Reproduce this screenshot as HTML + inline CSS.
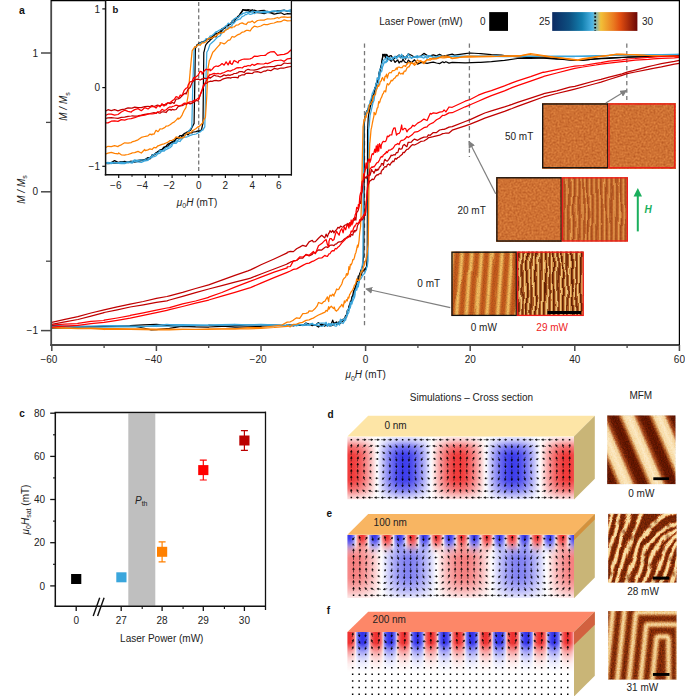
<!DOCTYPE html><html><head><meta charset="utf-8"><style>html,body{margin:0;padding:0;background:#fff;width:685px;height:696px;overflow:hidden}</style></head><body><svg width="685" height="696" viewBox="0 0 685 696" style="display:block;font-family:'Liberation Sans',sans-serif">
<defs>
<clipPath id="cmain"><rect x="51" y="0" width="628.5" height="345"/></clipPath>
<clipPath id="cins"><rect x="105.5" y="1" width="185.8" height="173.5"/></clipPath>
<marker id="ah" markerWidth="7" markerHeight="7" refX="6" refY="3.5" orient="auto" markerUnits="userSpaceOnUse"><path d="M0,0 L7,3.5 L0,7 z" fill="#7f7f7f"/></marker>
</defs>
<rect width="685" height="696" fill="#fff"/>
<line x1="364.5" y1="43.5" x2="364.5" y2="327.5" stroke="#787878" stroke-width="1.3" stroke-dasharray="4.2,3.3"/>
<line x1="469.4" y1="43.5" x2="469.4" y2="157" stroke="#787878" stroke-width="1.3" stroke-dasharray="4.2,3.3"/>
<line x1="626.8" y1="43.5" x2="626.8" y2="100" stroke="#787878" stroke-width="1.3" stroke-dasharray="4.2,3.3"/>
<g clip-path="url(#cmain)" fill="none" stroke-width="1.25" stroke-linejoin="round">
<path d="M51.8,325.9 L51.8,325.7 L64.9,326.4 L77.9,327.1 L77.9,327.0 L91.0,326.7 L104.1,326.3 L104.1,326.2 L117.2,326.3 L130.2,326.3 L135.5,326.4 L143.3,328.0 L151.2,329.9 L156.4,329.6 L166.9,328.5 L169.5,328.3 L182.6,326.2 L182.6,326.1 L195.6,325.7 L208.7,325.3 L208.7,325.1 L221.8,326.1 L234.9,327.1 L234.9,327.1 L247.9,326.8 L261.0,326.4 L261.0,326.1 L274.1,325.6 L287.2,325.3 L287.2,324.8 L290.3,325.6 L293.4,324.8 L296.6,324.9 L299.7,325.3 L302.8,325.1 L306.0,324.9 L309.1,324.5 L312.3,324.1 L313.3,325.3 L315.4,325.0 L318.5,327.0 L321.7,324.0 L324.8,326.2 L326.1,324.7 L327.4,326.1 L328.7,324.4 L329.0,324.4 L330.0,325.1 L331.3,323.8 L332.7,320.2 L334.0,323.7 L334.2,323.7 L335.3,322.4 L336.6,324.5 L337.9,323.0 L339.2,321.6 L339.5,322.3 L340.5,321.5 L341.8,320.0 L343.1,319.2 L344.4,319.4 L344.7,318.1 L345.7,315.3 L346.5,315.1 L347.3,312.6 L347.3,310.5 L348.1,310.6 L348.9,306.8 L349.6,305.1 L349.9,304.2 L350.4,301.5 L351.2,300.7 L352.0,296.5 L352.5,295.9 L352.8,295.2 L353.6,291.2 L354.4,289.4 L355.1,287.6 L355.1,287.4 L355.9,285.9 L356.7,281.7 L357.5,279.6 L357.8,279.2 L358.3,276.0 L359.1,276.2 L359.8,273.1 L360.4,272.3 L360.6,271.0 L361.4,269.2 L362.2,267.2 L362.5,266.8 L363.0,261.6 L363.8,254.9 L363.8,254.3 L364.3,122.4 L364.6,120.8 L364.8,116.8 L365.3,115.4 L365.6,114.1 L366.1,112.7 L366.9,110.7 L367.2,112.0 L367.7,109.7 L368.5,107.7 L369.3,106.1 L369.8,105.7 L370.0,104.2 L370.8,102.3 L371.6,99.2 L372.4,95.7 L372.9,96.0 L373.2,95.5 L374.0,93.3 L374.8,87.8 L375.5,87.1 L376.1,85.6 L376.3,83.6 L377.1,81.0 L377.9,80.6 L378.7,76.6 L378.7,73.9 L379.5,71.3 L380.2,69.7 L381.0,65.8 L381.3,65.5 L381.8,61.6 L382.6,57.2 L382.9,54.4 L383.4,54.7 L384.2,54.6 L384.4,55.1 L385.0,54.2 L385.7,55.2 L386.5,56.5 L386.5,56.4 L387.3,55.0 L388.6,57.5 L389.9,55.9 L391.2,55.6 L391.8,56.9 L392.5,57.2 L393.8,58.8 L395.1,57.8 L396.5,56.5 L397.8,56.1 L399.1,55.0 L400.4,57.8 L401.7,56.6 L403.0,55.9 L404.3,56.7 L405.6,59.1 L406.9,55.6 L407.4,56.5 L408.2,53.9 L411.4,55.3 L414.5,57.3 L417.6,56.7 L420.8,56.0 L423.9,53.4 L427.1,55.4 L428.4,56.1 L430.2,55.9 L433.3,54.8 L436.5,55.8 L439.6,54.4 L442.7,56.0 L445.9,55.7 L449.0,54.8 L452.2,54.2 L454.5,55.1 L465.2,53.6 L470.2,53.0 L478.3,53.5 L480.7,53.7 L491.4,54.6 L501.6,55.1 L504.5,55.5 L517.5,56.8 L522.5,57.2 L530.6,57.6 L538.2,57.9 L543.7,58.1 L556.8,59.1 L559.1,59.2 L569.8,59.8 L580.0,60.5 L582.9,60.2 L596.0,58.8 L601.0,58.3 L609.1,57.9 L622.1,57.3 L627.1,57.2 L635.2,56.8 L648.3,56.7 L653.2,56.5 L661.4,56.4 L674.4,56.3 L679.4,56.1" stroke="#000000"/>
<path d="M51.8,328.7 L51.8,328.5 L64.9,327.8 L77.9,327.2 L77.9,327.1 L91.0,326.8 L104.1,326.4 L104.1,326.3 L117.2,326.1 L130.2,325.8 L130.2,325.7 L143.3,324.8 L156.4,324.4 L156.4,324.4 L169.5,325.6 L182.6,326.6 L182.6,326.4 L195.6,326.9 L208.7,327.1 L208.7,327.0 L221.8,326.3 L234.9,325.7 L234.9,325.6 L247.9,325.0 L261.0,324.8 L261.0,324.5 L274.1,325.2 L287.2,325.7 L287.2,324.8 L290.3,325.2 L293.4,325.9 L296.6,324.9 L299.7,325.3 L302.8,325.4 L306.0,323.0 L309.1,324.2 L312.3,325.6 L313.3,325.0 L315.4,325.2 L318.5,322.6 L321.7,325.6 L324.8,324.7 L326.1,324.9 L327.4,325.0 L328.7,325.0 L329.0,325.7 L330.0,325.9 L331.3,325.6 L332.7,324.9 L334.0,324.8 L334.2,324.4 L335.3,323.1 L336.6,321.9 L337.9,324.3 L339.2,322.4 L339.5,323.0 L340.5,323.3 L341.8,322.1 L343.1,320.7 L344.4,319.5 L344.7,319.5 L345.7,317.2 L346.5,317.5 L347.3,312.6 L347.3,310.9 L348.1,310.3 L348.9,308.2 L349.6,304.2 L349.9,304.2 L350.4,303.5 L351.2,302.3 L352.0,298.1 L352.5,297.3 L352.8,295.9 L353.6,294.8 L354.4,290.5 L355.1,289.0 L355.1,288.5 L355.9,287.7 L356.7,281.9 L357.5,281.1 L357.8,280.6 L358.3,280.7 L359.1,277.3 L359.8,276.0 L360.4,275.1 L360.6,273.6 L361.4,275.1 L362.2,271.4 L363.0,271.6 L363.0,270.5 L363.8,270.1 L364.6,269.6 L365.3,268.2 L365.6,269.5 L366.1,267.3 L366.6,266.8 L366.9,261.3 L367.3,254.3 L367.6,129.3 L367.7,128.4 L368.2,118.2 L368.5,115.5 L369.3,111.4 L370.0,108.5 L370.0,107.9 L370.8,105.1 L371.6,101.5 L372.4,102.2 L372.9,97.4 L373.2,96.1 L374.0,96.5 L374.8,90.6 L375.5,86.9 L376.1,86.3 L376.3,83.1 L377.1,82.9 L377.9,79.0 L378.7,76.6 L378.7,76.6 L379.5,76.1 L380.2,69.9 L381.0,67.8 L381.3,66.9 L381.8,62.6 L382.6,57.5 L382.9,54.4 L383.4,55.1 L384.2,56.0 L385.0,55.7 L385.5,57.9 L385.7,57.6 L386.5,54.3 L387.3,59.1 L388.6,59.5 L389.9,59.8 L391.2,61.3 L391.8,60.6 L392.5,59.0 L393.8,60.1 L395.1,62.4 L396.5,61.0 L397.8,59.9 L399.1,63.0 L400.4,61.3 L401.7,61.9 L403.0,59.1 L404.3,61.4 L405.6,62.5 L406.9,62.8 L407.4,62.3 L408.2,60.1 L411.4,62.8 L414.5,59.8 L417.6,64.1 L420.8,62.6 L423.9,62.7 L427.1,63.3 L430.2,62.7 L433.3,62.1 L436.5,63.0 L439.6,63.6 L442.7,61.8 L444.1,62.7 L445.9,61.7 L449.0,63.1 L452.2,62.4 L465.2,62.9 L478.3,62.3 L480.7,62.4 L491.4,61.7 L501.6,60.6 L504.5,60.4 L517.5,58.5 L522.5,58.3 L530.6,58.3 L543.7,57.9 L548.7,57.9 L556.8,58.7 L569.8,60.0 L577.9,60.5 L582.9,60.2 L596.0,58.9 L601.0,58.6 L609.1,58.3 L622.1,57.5 L627.1,57.2 L635.2,56.8 L648.3,56.6 L653.2,56.5 L661.4,56.4 L674.4,55.7 L679.4,55.8" stroke="#000000"/>
<path d="M51.8,326.4 L51.8,326.3 L64.9,326.1 L77.9,326.2 L91.0,326.0 L104.1,325.7 L104.1,325.7 L117.2,325.7 L130.2,326.0 L143.3,326.4 L156.4,326.5 L156.4,326.4 L169.5,326.1 L182.6,325.7 L182.6,325.6 L195.6,325.4 L208.7,325.1 L208.7,325.0 L221.8,324.7 L234.9,324.4 L234.9,324.3 L247.9,324.8 L261.0,325.0 L261.0,325.0 L274.1,325.4 L287.2,325.7 L287.2,324.7 L290.3,325.6 L293.4,324.8 L296.6,325.9 L299.7,324.5 L302.8,324.8 L306.0,325.3 L309.1,324.6 L312.3,323.4 L313.3,324.4 L315.4,324.8 L318.5,323.4 L321.7,323.0 L324.8,323.1 L326.1,323.1 L327.4,326.3 L328.7,324.6 L329.0,325.0 L330.0,325.6 L331.3,323.7 L332.7,324.4 L334.0,324.1 L334.2,324.4 L335.3,323.4 L336.6,324.0 L337.9,322.8 L339.2,323.1 L339.5,322.3 L340.5,319.1 L341.8,320.9 L343.1,319.3 L344.4,320.2 L344.7,318.1 L345.7,317.5 L346.5,315.1 L347.3,312.6 L347.3,311.6 L348.1,309.6 L348.9,308.0 L349.6,307.0 L349.9,305.6 L350.4,302.2 L351.2,303.2 L352.0,301.0 L352.5,298.7 L352.8,297.4 L353.6,296.9 L354.4,293.5 L355.1,291.7 L355.1,290.6 L355.9,289.3 L356.7,286.3 L357.5,284.2 L357.8,283.4 L358.3,282.4 L359.1,282.7 L359.8,278.0 L360.4,275.1 L360.6,273.7 L361.4,271.3 L361.4,269.5 L362.2,265.6 L362.9,261.2 L363.0,241.1 L363.2,191.8 L363.8,125.2 L363.8,123.7 L364.3,119.6 L364.6,120.2 L365.3,116.8 L365.6,115.5 L366.1,113.8 L366.9,111.4 L367.2,111.3 L367.7,111.1 L368.5,105.1 L369.3,105.5 L369.8,103.0 L370.0,100.9 L370.8,99.9 L371.6,96.8 L372.4,93.0 L372.9,93.3 L373.2,91.6 L374.0,89.8 L374.8,88.6 L375.5,85.8 L376.1,83.5 L376.3,84.2 L377.1,78.0 L377.9,79.4 L378.7,78.0 L378.7,75.2 L379.5,70.9 L380.2,68.8 L381.0,68.1 L381.3,66.9 L381.8,63.8 L382.6,62.5 L382.9,60.6 L383.4,60.9 L384.2,59.2 L385.0,58.8 L385.7,59.2 L386.5,58.3 L386.5,56.5 L387.3,57.3 L388.6,57.8 L389.9,59.1 L391.2,57.5 L392.5,57.8 L393.8,57.3 L395.1,56.2 L396.5,57.6 L397.0,56.9 L397.8,56.5 L399.1,55.9 L400.4,56.4 L401.7,54.2 L403.0,58.6 L404.3,56.8 L405.6,58.0 L406.9,56.7 L408.2,53.9 L411.4,58.4 L414.5,56.8 L417.6,55.7 L417.9,56.5 L420.8,56.3 L423.9,55.4 L427.1,58.2 L430.2,55.8 L433.3,57.1 L436.5,57.3 L439.6,56.1 L442.7,56.1 L444.1,56.5 L445.9,56.9 L449.0,56.9 L452.2,56.5 L465.2,56.1 L470.2,56.1 L478.3,56.0 L491.4,56.0 L496.4,55.8 L504.5,56.2 L517.5,55.8 L522.5,56.1 L530.6,56.1 L543.7,56.4 L556.8,56.5 L569.8,56.5 L574.8,56.5 L582.9,56.3 L596.0,56.2 L601.0,55.8 L609.1,55.4 L622.1,55.2 L627.1,55.1 L635.2,55.0 L648.3,54.8 L661.4,54.6 L674.4,54.3 L679.4,54.4" stroke="#3aa6dc"/>
<path d="M51.8,327.8 L51.8,327.8 L64.9,327.7 L77.9,327.0 L91.0,327.2 L104.1,327.1 L104.1,327.1 L117.2,326.9 L130.2,326.8 L143.3,326.6 L145.9,326.4 L156.4,325.3 L166.9,324.4 L169.5,324.5 L182.6,324.5 L195.6,324.9 L208.7,325.3 L208.7,325.0 L221.8,325.1 L234.9,324.8 L247.9,324.8 L261.0,324.4 L261.0,324.4 L274.1,324.9 L287.2,325.3 L287.2,324.7 L290.3,325.9 L293.4,325.4 L296.6,324.7 L299.7,324.5 L302.8,325.7 L306.0,323.2 L309.1,325.6 L312.3,323.4 L313.3,324.8 L315.4,325.2 L318.5,325.4 L321.7,326.4 L324.8,325.1 L326.1,322.2 L327.4,325.8 L328.7,323.3 L329.0,325.0 L330.0,323.6 L331.3,325.8 L332.7,324.2 L334.0,324.1 L334.2,325.7 L335.3,326.0 L336.6,326.0 L337.9,324.0 L339.2,324.7 L339.5,325.0 L340.5,321.7 L341.8,322.7 L343.1,323.5 L344.4,321.1 L344.7,320.9 L345.7,320.0 L346.5,316.1 L347.3,315.3 L347.3,314.5 L348.1,313.7 L348.9,312.2 L349.6,308.0 L349.9,308.4 L350.4,307.4 L351.2,303.5 L352.0,304.0 L352.5,301.5 L352.8,301.1 L353.6,299.3 L354.4,297.8 L355.1,294.5 L355.1,291.3 L355.9,290.1 L356.7,290.2 L357.5,286.1 L357.8,286.2 L358.3,286.9 L359.1,281.2 L359.8,279.4 L360.4,279.2 L360.6,279.2 L361.4,278.0 L362.2,276.0 L363.0,275.1 L363.0,274.5 L363.8,274.2 L364.6,273.6 L365.3,271.6 L365.6,270.9 L366.1,270.0 L366.9,266.5 L367.2,266.8 L367.7,262.9 L368.0,261.2 L368.3,191.8 L368.5,168.1 L368.7,129.3 L369.3,125.5 L370.0,115.5 L370.0,115.7 L370.8,112.3 L371.6,109.1 L372.4,105.3 L372.9,103.0 L373.2,102.3 L374.0,100.6 L374.8,94.6 L375.5,91.5 L376.1,90.5 L376.3,90.1 L377.1,85.8 L377.9,84.7 L378.7,82.2 L378.7,80.8 L379.5,78.1 L380.2,73.1 L381.0,72.1 L381.3,71.0 L381.8,71.1 L382.6,66.6 L383.4,65.0 L383.9,62.7 L384.2,63.3 L385.0,61.2 L385.7,62.8 L386.5,62.0 L386.5,59.9 L387.3,61.5 L388.6,58.2 L389.9,59.1 L391.2,59.7 L392.5,59.5 L393.8,57.7 L395.1,56.7 L396.5,58.8 L397.0,57.9 L397.8,57.5 L399.1,55.0 L400.4,57.0 L401.7,58.0 L403.0,57.2 L404.3,57.4 L405.6,56.7 L406.9,57.1 L408.2,58.0 L411.4,57.5 L414.5,56.8 L417.6,57.9 L417.9,57.2 L420.8,57.0 L423.9,58.1 L427.1,55.5 L430.2,55.9 L433.3,57.5 L436.5,56.3 L439.6,56.7 L442.7,56.7 L445.9,56.9 L449.0,56.5 L452.2,56.0 L465.2,56.7 L470.2,56.5 L478.3,56.3 L491.4,56.5 L504.5,56.6 L517.5,56.5 L522.5,56.5 L530.6,56.3 L543.7,56.3 L556.8,56.1 L569.8,56.1 L574.8,56.1 L582.9,56.0 L596.0,55.5 L609.1,55.5 L622.1,55.0 L627.1,55.1 L635.2,54.9 L648.3,54.8 L661.4,54.7 L674.4,54.5 L679.4,54.4" stroke="#3aa6dc"/>
<path d="M51.8,327.8 L51.8,327.7 L64.9,328.0 L77.9,328.4 L91.0,328.2 L104.1,328.5 L104.1,328.5 L117.2,328.6 L130.2,328.8 L143.3,328.8 L156.4,329.2 L156.4,329.0 L169.5,329.0 L182.6,329.3 L195.6,329.3 L208.7,329.4 L208.7,329.2 L221.8,328.8 L234.9,328.9 L247.9,327.7 L261.0,327.5 L261.0,327.5 L274.1,326.0 L281.9,325.0 L287.2,322.1 L290.3,321.8 L293.4,320.2 L293.4,320.0 L296.6,317.8 L299.7,318.3 L302.8,313.7 L306.0,313.4 L308.1,312.6 L309.1,310.9 L312.3,311.1 L315.4,308.2 L317.0,306.2 L318.5,302.5 L321.7,303.7 L323.8,301.5 L324.8,301.3 L326.1,299.2 L327.4,296.9 L328.7,301.7 L329.0,298.0 L330.0,295.1 L331.3,296.0 L332.7,294.2 L334.0,296.2 L334.2,294.5 L335.3,292.6 L336.6,289.0 L337.9,289.8 L339.2,288.8 L339.5,287.6 L340.5,286.2 L341.8,284.0 L343.1,279.6 L344.4,278.0 L344.7,277.9 L345.7,276.9 L346.5,273.7 L347.3,275.3 L347.3,273.7 L348.1,274.1 L348.9,266.7 L349.6,269.6 L349.9,268.1 L350.4,264.3 L351.2,264.8 L352.0,262.9 L352.5,261.2 L352.8,259.7 L353.6,259.7 L354.4,257.6 L355.1,254.5 L355.1,254.3 L355.9,252.7 L356.7,249.0 L357.5,245.1 L357.8,247.3 L358.3,245.8 L359.1,240.5 L359.3,237.6 L359.8,232.0 L360.6,226.5 L360.6,225.7 L361.4,205.7 L361.4,204.0 L362.2,165.1 L362.2,164.0 L363.0,128.0 L363.0,127.0 L363.8,121.8 L364.0,119.6 L364.6,120.9 L365.3,116.0 L365.6,116.2 L366.1,117.5 L366.9,112.9 L367.7,112.9 L368.2,111.3 L368.5,110.9 L369.3,105.3 L370.0,104.1 L370.8,104.4 L370.8,103.7 L371.6,101.7 L372.4,101.3 L373.2,96.2 L373.4,97.4 L374.0,95.1 L374.8,95.2 L375.5,94.3 L376.1,90.5 L376.3,89.9 L377.1,88.5 L377.9,85.3 L378.7,86.4 L378.7,84.9 L379.5,85.0 L380.2,81.8 L381.0,81.0 L381.3,80.8 L381.8,78.7 L382.6,77.5 L383.4,79.6 L384.2,80.8 L385.0,76.3 L385.7,76.5 L386.5,74.5 L386.5,74.1 L387.3,78.1 L388.6,73.5 L389.9,72.5 L391.2,72.8 L391.8,71.7 L392.5,70.6 L393.8,70.7 L395.1,70.0 L396.5,67.9 L397.0,69.7 L397.8,67.4 L399.1,67.0 L400.4,67.7 L401.7,67.5 L402.2,67.6 L403.0,66.2 L404.3,65.7 L405.6,66.4 L406.9,63.8 L407.4,64.1 L408.2,62.4 L411.4,63.4 L414.5,63.4 L417.6,59.8 L417.9,60.6 L420.8,61.3 L423.9,62.0 L427.1,59.7 L430.2,60.2 L433.3,58.1 L436.5,58.4 L439.6,57.4 L442.7,56.0 L444.1,56.9 L445.9,55.8 L449.0,56.8 L452.2,58.6 L465.2,56.3 L470.2,56.1 L478.3,56.4 L491.4,56.2 L496.4,56.5 L504.5,55.9 L517.5,55.7 L519.9,55.8 L530.3,53.6 L530.6,53.5 L543.7,55.5 L553.9,57.2 L556.8,57.4 L569.8,59.4 L577.9,60.5 L582.9,59.4 L595.7,57.2 L596.0,57.2 L609.1,55.3 L616.6,54.0 L622.1,54.2 L627.1,54.4 L635.2,54.5 L648.3,55.5 L653.2,55.8 L661.4,56.3 L674.4,56.1 L679.4,56.5" stroke="#ff8000"/>
<path d="M51.8,327.8 L51.8,327.7 L64.9,328.1 L77.9,328.6 L91.0,328.6 L104.1,329.5 L104.1,329.2 L117.2,329.4 L130.2,329.4 L143.3,329.6 L156.4,329.9 L156.4,329.8 L169.5,329.9 L182.6,329.3 L195.6,329.5 L208.7,329.2 L208.7,329.2 L221.8,329.0 L234.9,328.9 L247.9,328.8 L261.0,328.5 L261.0,328.3 L274.1,327.5 L287.2,326.4 L287.2,325.7 L290.3,326.8 L293.4,324.3 L296.6,324.1 L299.7,322.8 L302.8,322.3 L302.8,322.1 L306.0,320.4 L309.1,319.9 L312.3,318.4 L313.3,318.1 L315.4,316.8 L318.5,315.0 L321.7,313.6 L323.8,312.6 L324.8,312.3 L326.1,310.4 L327.4,311.2 L328.7,306.6 L329.0,309.1 L330.0,307.5 L331.3,306.2 L332.7,307.7 L334.0,308.7 L334.2,307.0 L335.3,310.3 L336.6,311.1 L336.8,310.5 L337.9,309.9 L339.2,307.8 L339.5,307.0 L340.5,306.6 L341.8,304.3 L343.1,307.1 L344.4,300.9 L344.7,302.8 L345.7,301.6 L346.5,299.7 L347.3,300.9 L348.1,297.1 L348.9,298.0 L349.6,294.3 L349.9,294.5 L350.4,293.2 L351.2,291.8 L352.0,290.8 L352.8,289.5 L353.6,288.1 L354.4,285.1 L355.1,284.8 L355.1,284.7 L355.9,283.0 L356.7,278.8 L357.5,280.3 L358.3,280.1 L359.1,280.4 L359.8,279.2 L360.4,275.1 L360.6,274.2 L361.4,271.2 L362.2,271.5 L363.0,269.6 L363.0,268.1 L363.8,266.3 L364.6,263.8 L365.3,260.7 L365.6,261.2 L366.1,258.6 L366.9,255.1 L367.2,252.9 L367.7,247.8 L368.2,244.5 L368.5,226.3 L368.7,205.7 L369.3,158.9 L369.3,157.1 L369.8,143.2 L370.0,141.9 L370.8,132.5 L371.1,129.3 L371.6,127.4 L372.4,123.0 L373.2,119.2 L374.0,115.5 L374.0,112.4 L374.8,113.2 L375.5,114.7 L376.3,112.1 L377.1,108.5 L377.1,108.3 L377.9,107.5 L378.7,101.6 L379.5,102.9 L380.2,100.7 L380.2,100.2 L381.0,98.3 L381.8,96.9 L382.6,94.2 L383.4,93.4 L383.9,91.9 L384.2,91.0 L385.0,90.8 L385.7,91.9 L386.5,86.6 L387.3,83.6 L388.1,84.2 L388.6,85.0 L389.9,83.2 L391.2,80.2 L391.8,80.8 L392.5,80.7 L393.8,78.7 L395.1,77.9 L396.5,75.6 L397.0,75.9 L397.8,75.7 L399.1,72.2 L400.4,74.0 L401.7,73.7 L402.2,73.1 L403.0,74.2 L404.3,71.1 L405.6,71.2 L406.9,68.0 L408.2,66.9 L409.0,66.9 L411.4,62.4 L414.5,65.3 L417.6,62.7 L417.9,62.7 L420.8,60.6 L423.9,63.7 L427.1,59.5 L428.4,59.9 L430.2,58.3 L433.3,59.2 L436.5,58.9 L439.6,57.5 L442.7,57.8 L444.1,57.9 L445.9,57.6 L449.0,57.1 L452.2,58.2 L465.2,57.0 L470.2,57.2 L478.3,57.0 L491.4,56.6 L496.4,56.5 L504.5,56.3 L517.5,56.2 L519.9,55.8 L530.3,54.4 L530.6,54.7 L543.7,56.2 L553.9,57.4 L556.8,57.7 L569.8,58.9 L577.9,59.9 L582.9,58.7 L595.7,56.9 L596.0,56.7 L609.1,55.3 L616.6,54.4 L622.1,54.7 L635.2,54.8 L637.6,55.1 L648.3,55.5 L661.4,55.9 L674.4,56.1 L679.4,56.5" stroke="#ff8000"/>
<path d="M51.8,322.3 L51.8,322.3 L64.9,319.3 L77.9,316.7 L77.9,316.6 L91.0,313.0 L104.1,309.8 L104.1,309.8 L117.2,306.8 L130.2,304.2 L130.2,304.1 L143.3,301.5 L156.4,298.4 L166.9,296.5 L169.5,295.8 L182.6,292.3 L195.6,288.5 L208.7,284.9 L208.7,284.8 L221.8,280.2 L234.9,275.4 L247.9,270.9 L250.5,269.9 L261.0,264.8 L274.1,259.0 L287.2,252.9 L287.2,252.3 L290.3,251.4 L293.4,251.6 L296.6,248.7 L299.7,247.1 L302.8,245.3 L306.0,246.3 L309.1,241.9 L312.3,240.3 L313.3,241.8 L315.4,241.6 L318.5,238.3 L321.7,235.3 L324.8,237.9 L326.1,234.1 L327.4,236.9 L328.7,233.1 L329.0,233.4 L330.0,230.6 L331.3,232.4 L332.7,230.4 L334.0,232.9 L335.3,230.8 L336.6,229.8 L337.9,227.3 L339.2,228.1 L339.5,227.9 L340.5,226.1 L341.8,226.8 L343.1,227.2 L344.4,225.5 L345.7,224.8 L346.5,225.2 L347.3,223.5 L348.1,225.3 L348.9,223.6 L349.6,222.8 L349.9,223.7 L350.4,223.9 L351.2,222.4 L352.0,221.8 L352.8,223.1 L353.6,218.3 L354.4,220.2 L354.8,219.6 L355.1,217.5 L355.9,220.1 L356.7,211.9 L357.5,211.8 L358.3,210.0 L359.1,206.5 L359.8,202.5 L360.5,201.5 L360.6,203.4 L361.4,194.1 L362.2,191.8 L363.0,182.8 L363.7,179.3 L363.8,179.0 L364.6,177.1 L365.3,177.0 L366.1,178.5 L366.8,176.5 L366.9,177.2 L367.7,175.2 L368.5,175.8 L369.3,174.6 L370.0,173.8 L370.0,175.4 L370.8,172.5 L371.6,169.5 L372.4,171.2 L373.2,171.6 L374.0,173.3 L374.8,171.6 L375.5,169.3 L376.3,170.6 L377.1,169.2 L377.9,170.3 L377.9,169.6 L378.7,169.1 L379.5,167.0 L380.2,166.6 L381.0,165.5 L381.3,164.0 L381.8,163.5 L382.6,163.6 L383.4,165.4 L384.2,161.0 L385.0,159.3 L385.7,160.4 L386.5,160.8 L387.3,161.1 L388.6,159.6 L389.9,157.7 L391.2,155.1 L391.8,155.7 L392.5,155.4 L393.8,154.7 L395.1,155.0 L396.5,152.5 L397.8,152.7 L399.1,148.2 L400.4,149.2 L401.7,148.9 L402.2,148.1 L403.0,145.4 L404.3,144.4 L405.6,145.8 L406.9,146.7 L408.2,142.3 L411.4,142.2 L412.7,140.4 L414.5,139.1 L417.6,140.3 L420.8,138.4 L423.9,137.1 L427.1,136.8 L428.4,134.9 L430.2,135.3 L433.3,132.5 L436.5,132.5 L439.6,130.0 L442.7,129.4 L444.1,129.3 L445.9,128.6 L449.0,127.1 L452.2,126.7 L465.2,121.5 L470.2,119.6 L478.3,115.9 L484.8,113.0 L491.4,110.9 L504.5,106.9 L512.0,104.4 L517.5,102.4 L530.6,98.2 L543.4,93.9 L543.7,93.7 L556.8,90.8 L569.8,87.1 L574.8,86.3 L582.9,84.2 L596.0,80.5 L601.0,79.4 L609.1,77.1 L622.1,73.8 L627.1,72.2 L635.2,70.1 L648.3,66.6 L653.2,65.5 L661.4,63.7 L674.4,61.4 L679.4,60.4" stroke="#c00000"/>
<path d="M51.8,324.4 L51.8,324.3 L64.9,321.9 L77.9,319.5 L77.9,319.5 L91.0,316.1 L104.1,312.6 L104.1,312.5 L117.2,309.8 L130.2,307.0 L130.2,307.0 L143.3,304.8 L156.4,302.4 L166.9,300.8 L169.5,300.0 L182.6,296.3 L195.6,292.6 L208.7,289.0 L208.7,289.0 L221.8,285.6 L234.9,282.2 L247.9,278.8 L250.5,278.1 L261.0,274.0 L274.1,269.0 L287.2,264.0 L287.2,263.9 L290.3,262.2 L293.4,261.2 L296.6,260.5 L299.7,258.0 L302.8,258.1 L306.0,254.4 L309.1,255.9 L312.3,254.4 L313.3,252.9 L315.4,252.6 L318.5,249.9 L321.7,250.1 L324.8,247.5 L326.1,246.8 L327.4,247.5 L328.7,246.6 L329.0,246.3 L330.0,245.4 L331.3,245.0 L332.7,245.2 L334.0,245.6 L335.3,244.1 L336.6,243.8 L337.9,242.4 L339.2,241.9 L339.5,241.8 L340.5,241.8 L341.8,241.4 L343.1,240.3 L344.4,239.0 L345.7,238.1 L346.5,237.7 L347.3,236.8 L348.1,236.4 L348.9,237.1 L349.6,235.4 L349.9,236.2 L350.4,236.7 L351.2,234.6 L352.0,234.5 L352.8,235.2 L353.6,231.8 L354.4,230.7 L354.8,232.1 L355.1,230.3 L355.9,230.8 L356.7,229.8 L357.5,225.5 L358.3,224.2 L359.1,223.3 L359.8,221.7 L360.5,219.6 L360.6,221.0 L361.4,218.8 L362.2,219.9 L363.0,218.7 L363.8,217.0 L364.6,215.0 L365.3,215.4 L365.3,214.8 L366.1,205.8 L366.9,196.7 L367.7,188.3 L368.1,184.9 L368.5,184.4 L369.3,182.0 L370.0,180.7 L370.0,180.6 L370.8,180.6 L371.6,179.6 L372.4,179.1 L373.2,179.6 L374.0,179.2 L374.8,177.4 L375.5,176.3 L376.3,175.5 L377.1,174.7 L377.9,174.9 L377.9,175.1 L378.7,174.1 L379.5,173.7 L380.2,173.3 L381.0,173.8 L381.3,171.0 L381.8,170.8 L382.6,169.4 L383.4,169.3 L384.2,167.1 L385.0,166.8 L385.7,166.7 L386.5,166.9 L387.3,164.8 L388.6,163.9 L389.9,165.2 L391.2,162.7 L391.8,162.7 L392.5,161.1 L393.8,161.7 L395.1,158.4 L396.5,159.1 L397.8,157.5 L399.1,157.2 L400.4,155.7 L401.7,154.7 L402.2,154.5 L403.0,152.4 L404.3,152.7 L405.6,150.8 L406.9,149.4 L408.2,149.1 L411.4,145.5 L412.7,144.6 L414.5,145.0 L417.6,143.5 L420.8,141.4 L423.9,141.0 L427.1,139.0 L428.4,137.7 L430.2,137.3 L433.3,136.7 L436.5,135.8 L439.6,135.2 L442.7,133.6 L444.1,133.5 L445.9,133.0 L449.0,133.0 L452.2,130.2 L465.2,125.8 L470.2,124.2 L478.3,120.8 L484.8,118.2 L491.4,115.8 L504.5,111.3 L512.0,108.5 L517.5,106.3 L530.6,101.6 L543.4,97.0 L543.7,96.9 L556.8,93.5 L569.8,90.3 L574.8,89.1 L582.9,87.0 L596.0,83.5 L601.0,82.1 L609.1,79.5 L622.1,75.3 L627.1,73.7 L635.2,72.0 L648.3,69.4 L653.2,68.3 L661.4,66.9 L674.4,64.2 L679.4,63.4" stroke="#c00000"/>
<path d="M51.8,325.2 L51.8,325.0 L64.9,324.2 L77.9,323.7 L77.9,323.4 L91.0,321.4 L104.1,320.5 L104.1,320.2 L117.2,318.0 L130.2,315.6 L130.2,315.3 L143.3,312.8 L156.4,310.1 L166.9,308.0 L169.5,307.7 L182.6,303.9 L195.6,301.0 L208.7,297.3 L208.7,297.1 L221.8,292.5 L234.9,287.1 L247.9,282.1 L250.5,281.2 L261.0,277.1 L274.1,272.1 L287.2,267.8 L287.2,266.8 L290.3,266.5 L293.4,260.9 L296.6,260.4 L299.7,256.8 L302.8,257.0 L306.0,254.9 L309.1,255.2 L312.3,252.6 L313.3,251.5 L315.4,253.7 L318.5,245.7 L321.7,243.6 L324.8,240.4 L326.1,239.5 L327.4,244.4 L328.7,247.0 L329.0,241.1 L330.0,238.5 L331.3,238.7 L332.7,240.6 L334.0,239.5 L335.3,234.6 L336.6,231.3 L337.9,233.5 L339.2,235.2 L339.5,233.4 L340.5,230.5 L341.8,228.6 L343.1,232.8 L344.4,227.0 L345.7,229.8 L346.5,226.8 L347.3,225.0 L348.1,225.3 L348.9,228.2 L349.6,223.0 L349.9,223.7 L350.4,226.2 L351.2,220.0 L352.0,224.8 L352.8,220.3 L353.6,219.0 L354.4,218.3 L355.1,215.4 L355.1,214.9 L355.9,212.9 L356.7,207.4 L357.5,208.7 L358.1,208.5 L358.3,204.7 L359.1,205.8 L359.8,196.5 L360.6,192.8 L361.2,191.8 L361.4,187.0 L362.2,181.2 L363.0,180.8 L363.7,173.8 L363.8,176.5 L364.6,172.8 L365.3,170.0 L366.1,162.9 L366.8,164.0 L366.9,168.5 L367.7,162.6 L368.5,159.1 L369.3,160.6 L370.0,159.2 L370.0,162.4 L370.8,159.9 L371.6,155.3 L372.4,153.6 L373.0,154.3 L373.2,154.5 L374.0,152.5 L374.8,149.1 L375.5,152.3 L376.3,145.9 L377.1,152.0 L377.9,144.3 L377.9,148.8 L378.7,151.2 L379.5,143.7 L380.2,145.9 L381.0,148.5 L381.3,144.6 L381.8,143.8 L382.6,142.1 L383.4,141.3 L384.2,141.7 L385.0,141.6 L385.7,141.2 L386.5,139.5 L387.3,136.2 L388.6,136.7 L389.9,135.0 L391.2,134.9 L391.8,134.9 L392.5,131.2 L393.8,128.1 L395.1,127.9 L396.5,135.2 L397.8,133.7 L399.1,133.5 L400.4,131.2 L401.7,125.0 L402.2,129.3 L403.0,129.9 L404.3,128.3 L405.6,128.5 L406.9,131.9 L408.2,129.8 L411.4,127.4 L412.7,125.2 L414.5,126.1 L417.6,123.1 L420.8,121.5 L423.9,119.1 L427.1,120.5 L430.2,113.4 L431.5,114.1 L433.3,112.8 L436.5,113.4 L439.6,112.1 L442.7,111.6 L444.1,109.9 L445.9,111.9 L449.0,107.0 L452.2,107.3 L465.2,101.2 L470.2,99.5 L478.3,95.2 L484.8,92.6 L491.4,90.6 L504.5,85.9 L512.0,82.8 L517.5,80.8 L530.6,76.7 L543.4,72.2 L543.7,72.3 L556.8,69.7 L569.8,67.0 L574.8,66.2 L582.9,65.5 L596.0,63.4 L601.0,62.7 L609.1,61.2 L622.1,59.8 L627.1,59.0 L635.2,58.5 L648.3,57.4 L653.2,57.2 L661.4,56.5 L674.4,56.0 L679.4,56.1" stroke="#ff0000"/>
<path d="M51.8,327.1 L51.8,327.1 L64.9,326.2 L77.9,325.3 L77.9,325.3 L91.0,323.7 L104.1,322.3 L104.1,322.3 L117.2,320.3 L130.2,318.1 L130.2,318.1 L143.3,315.4 L156.4,312.6 L166.9,310.3 L169.5,309.7 L182.6,306.5 L195.6,303.2 L208.7,300.1 L208.7,300.0 L221.8,296.2 L234.9,292.3 L247.9,288.4 L250.5,287.6 L261.0,283.2 L274.1,277.6 L287.2,272.3 L287.2,272.3 L290.3,271.0 L293.4,269.4 L296.6,268.9 L299.7,267.1 L302.8,265.4 L306.0,263.7 L309.1,263.1 L312.3,261.4 L313.3,261.2 L315.4,260.0 L318.5,258.2 L321.7,258.0 L324.8,255.4 L326.1,256.2 L327.4,256.4 L328.7,254.4 L329.0,253.8 L330.0,253.7 L331.3,251.5 L332.7,250.6 L334.0,250.9 L335.3,248.5 L336.6,248.8 L337.9,247.2 L339.2,246.3 L339.5,245.9 L340.5,244.7 L341.8,242.9 L343.1,241.6 L344.4,240.4 L345.7,238.8 L346.5,238.1 L347.3,238.0 L348.1,237.3 L348.9,236.3 L349.6,234.8 L349.9,234.8 L350.4,234.1 L351.2,231.0 L352.0,231.8 L352.8,230.7 L353.6,228.0 L354.4,226.2 L354.8,226.5 L355.1,225.7 L355.9,224.5 L356.7,223.2 L357.5,223.3 L358.3,223.3 L359.1,221.7 L359.8,219.7 L360.5,219.6 L360.6,220.4 L361.4,218.3 L362.2,217.1 L363.0,216.4 L363.8,214.6 L364.6,213.6 L365.3,211.4 L365.6,212.6 L366.1,205.1 L366.9,195.2 L367.4,187.6 L367.7,186.0 L368.5,180.3 L369.3,173.8 L369.3,173.1 L370.0,168.8 L370.0,169.1 L370.8,168.2 L371.6,167.0 L372.4,167.4 L373.2,166.5 L374.0,167.0 L374.8,165.9 L375.5,164.9 L376.3,163.6 L377.1,162.5 L377.9,162.7 L377.9,162.7 L378.7,161.3 L379.5,160.0 L380.2,158.1 L381.0,156.9 L381.3,157.1 L381.8,156.5 L382.6,156.8 L383.4,154.8 L384.2,154.5 L385.0,153.3 L385.7,153.6 L386.5,151.6 L387.3,152.6 L388.6,150.2 L389.9,150.1 L391.2,149.5 L391.8,148.8 L392.5,148.9 L393.8,147.2 L395.1,145.0 L396.5,144.4 L397.8,143.4 L399.1,144.5 L400.4,141.3 L401.7,140.3 L402.2,140.3 L403.0,140.2 L404.3,139.5 L405.6,138.3 L406.9,136.4 L408.2,137.5 L411.4,135.3 L412.7,134.2 L414.5,132.2 L417.6,131.7 L420.8,129.8 L423.9,127.7 L427.1,126.8 L428.4,125.2 L430.2,124.0 L433.3,122.6 L436.5,119.8 L439.6,118.2 L442.7,115.3 L444.1,115.5 L445.9,114.6 L449.0,112.9 L452.2,112.7 L465.2,106.8 L470.2,104.8 L478.3,101.2 L484.8,98.4 L491.4,95.7 L504.5,90.8 L512.0,87.7 L517.5,85.7 L530.6,81.1 L543.4,76.6 L543.7,76.4 L556.8,73.0 L569.8,69.6 L574.8,68.3 L582.9,67.0 L596.0,65.0 L601.0,64.1 L609.1,63.1 L622.1,61.6 L627.1,61.1 L635.2,60.2 L648.3,59.3 L653.2,58.8 L661.4,58.4 L674.4,57.8 L679.4,57.4" stroke="#ff0000"/>
</g>
<line x1="51.2" y1="0" x2="51.2" y2="346" stroke="#484848" stroke-width="1.8"/>
<line x1="50.3" y1="345" x2="680" y2="345" stroke="#484848" stroke-width="1.8"/>
<line x1="51" y1="0.5" x2="680" y2="0.5" stroke="#000" stroke-width="1.3"/>
<line x1="679.4" y1="0" x2="679.4" y2="345" stroke="#000" stroke-width="1.2"/>
<line x1="41" y1="53.0" x2="51" y2="53.0" stroke="#484848" stroke-width="1.5"/>
<text x="38" y="56.6" font-size="10" text-anchor="end" fill="#222">1</text>
<line x1="41" y1="191.8" x2="51" y2="191.8" stroke="#484848" stroke-width="1.5"/>
<text x="38" y="195.4" font-size="10" text-anchor="end" fill="#222">0</text>
<line x1="41" y1="330.6" x2="51" y2="330.6" stroke="#484848" stroke-width="1.5"/>
<text x="38" y="334.2" font-size="10" text-anchor="end" fill="#222">−1</text>
<line x1="46" y1="122.4" x2="51" y2="122.4" stroke="#484848" stroke-width="1.3"/>
<line x1="46" y1="261.2" x2="51" y2="261.2" stroke="#484848" stroke-width="1.3"/>
<line x1="51.8" y1="345" x2="51.8" y2="351" stroke="#484848" stroke-width="1.5"/>
<text x="48.9" y="362.5" font-size="10" text-anchor="middle" fill="#222">−60</text>
<line x1="156.4" y1="345" x2="156.4" y2="351" stroke="#484848" stroke-width="1.5"/>
<text x="153.5" y="362.5" font-size="10" text-anchor="middle" fill="#222">−40</text>
<line x1="261.0" y1="345" x2="261.0" y2="351" stroke="#484848" stroke-width="1.5"/>
<text x="258.1" y="362.5" font-size="10" text-anchor="middle" fill="#222">−20</text>
<line x1="365.6" y1="345" x2="365.6" y2="351" stroke="#484848" stroke-width="1.5"/>
<text x="365.6" y="362.5" font-size="10" text-anchor="middle" fill="#222">0</text>
<line x1="470.2" y1="345" x2="470.2" y2="351" stroke="#484848" stroke-width="1.5"/>
<text x="470.2" y="362.5" font-size="10" text-anchor="middle" fill="#222">20</text>
<line x1="574.8" y1="345" x2="574.8" y2="351" stroke="#484848" stroke-width="1.5"/>
<text x="574.8" y="362.5" font-size="10" text-anchor="middle" fill="#222">40</text>
<line x1="679.4" y1="345" x2="679.4" y2="351" stroke="#484848" stroke-width="1.5"/>
<text x="679.4" y="362.5" font-size="10" text-anchor="middle" fill="#222">60</text>
<line x1="104.1" y1="345" x2="104.1" y2="348" stroke="#484848" stroke-width="1.3"/>
<line x1="208.7" y1="345" x2="208.7" y2="348" stroke="#484848" stroke-width="1.3"/>
<line x1="313.3" y1="345" x2="313.3" y2="348" stroke="#484848" stroke-width="1.3"/>
<line x1="417.9" y1="345" x2="417.9" y2="348" stroke="#484848" stroke-width="1.3"/>
<line x1="522.5" y1="345" x2="522.5" y2="348" stroke="#484848" stroke-width="1.3"/>
<line x1="627.1" y1="345" x2="627.1" y2="348" stroke="#484848" stroke-width="1.3"/>
<text x="365.7" y="378.3" font-size="10" text-anchor="middle" fill="#222"><tspan font-style="italic">μ</tspan><tspan font-size="7" dy="2.5">0</tspan><tspan dy="-2.5" font-style="italic">H</tspan> (mT)</text>
<text transform="translate(24.6,189.5) rotate(-90)" font-size="10" text-anchor="middle" fill="#222" font-style="italic">M / M<tspan font-size="7" dy="2.5" font-style="normal">s</tspan></text>
<text x="19" y="13.8" font-size="10.5" font-weight="bold" fill="#111">a</text>
<text x="379.3" y="25.3" font-size="10" fill="#222">Laser Power (mW)</text>
<text x="485.5" y="25.3" font-size="10" text-anchor="end" fill="#222">0</text>
<rect x="489.2" y="12.1" width="18.8" height="18.8" fill="#000"/>
<text x="550" y="25.3" font-size="10" text-anchor="end" fill="#222">25</text>
<defs><linearGradient id="cbar" x1="0" x2="1" y1="0" y2="0"><stop offset="0" stop-color="#0b2a62"/><stop offset="0.2" stop-color="#0d4f80"/><stop offset="0.35" stop-color="#137fae"/><stop offset="0.47" stop-color="#4bb3e4"/><stop offset="0.53" stop-color="#a0b898"/><stop offset="0.57" stop-color="#f2c038"/><stop offset="0.72" stop-color="#ea7a20"/><stop offset="0.8" stop-color="#e04d10"/><stop offset="1" stop-color="#6a0606"/></linearGradient></defs>
<rect x="552.2" y="12.1" width="85.2" height="18.8" fill="url(#cbar)"/>
<line x1="595.2" y1="12.6" x2="595.2" y2="31" stroke="#000" stroke-width="1.8" stroke-dasharray="1.6,2"/>
<text x="642" y="25.3" font-size="10" fill="#222">30</text>
<rect x="105.5" y="1" width="186" height="174" fill="#fff"/>
<line x1="198.7" y1="2" x2="198.7" y2="171" stroke="#787878" stroke-width="1.3" stroke-dasharray="4,2.6"/>
<g clip-path="url(#cins)" fill="none" stroke-width="1.25" stroke-linejoin="round">
<path d="M98.0,163.0 L101.3,163.6 L104.6,162.8 L105.3,162.8 L108.0,163.1 L111.3,162.5 L114.6,160.6 L118.0,162.4 L118.7,162.4 L121.3,161.7 L124.7,162.8 L128.0,162.0 L131.3,161.2 L132.0,161.6 L134.7,161.2 L138.0,160.3 L141.3,159.9 L144.7,159.9 L145.3,159.2 L148.0,157.6 L150.0,157.5 L152.0,156.1 L152.0,155.0 L154.0,154.9 L156.0,152.8 L158.0,151.8 L158.7,151.3 L160.0,149.9 L162.0,149.3 L164.0,147.0 L165.4,146.6 L166.0,146.2 L168.0,144.0 L170.0,143.0 L172.1,141.9 L172.1,141.8 L174.1,140.9 L176.1,138.6 L178.1,137.4 L178.7,137.2 L180.1,135.5 L182.1,135.4 L184.1,133.7 L185.4,133.2 L186.1,132.6 L188.1,131.5 L190.1,130.4 L190.7,130.1 L192.1,127.2 L194.1,123.4 L194.1,123.0 L195.4,48.2 L196.1,47.3 L196.7,45.1 L198.1,44.3 L198.8,43.5 L200.1,42.8 L202.1,41.7 L202.8,42.3 L204.1,41.1 L206.1,40.0 L208.1,39.1 L209.4,38.8 L210.1,38.0 L212.1,36.9 L214.1,35.2 L216.1,33.2 L217.4,33.3 L218.1,33.0 L220.1,31.7 L222.1,28.7 L224.1,28.2 L225.4,27.4 L226.1,26.3 L228.1,24.9 L230.1,24.5 L232.1,22.3 L232.1,20.9 L234.1,19.4 L236.1,18.4 L238.1,16.2 L238.8,16.0 L240.1,13.8 L242.1,11.2 L242.8,9.7 L244.1,9.9 L246.1,9.8 L246.8,10.1 L248.1,9.6 L250.1,10.2 L252.2,10.9 L252.2,10.8 L254.2,10.1 L257.5,11.4 L260.8,10.6 L264.2,10.4 L265.5,11.1 L267.5,11.3 L270.8,12.1 L274.2,11.6 L277.5,10.9 L280.9,10.7 L284.2,10.1 L287.5,11.5 L290.9,11.0 L294.2,10.6 L297.5,11.0" stroke="#000000"/>
<path d="M98.0,163.0 L101.3,163.1 L104.6,163.1 L105.3,163.5 L108.0,163.7 L111.3,163.5 L114.6,163.1 L118.0,163.0 L118.7,162.8 L121.3,162.1 L124.7,161.4 L128.0,162.7 L131.3,161.6 L132.0,162.0 L134.7,162.2 L138.0,161.5 L141.3,160.7 L144.7,160.0 L145.3,160.0 L148.0,158.7 L150.0,158.9 L152.0,156.1 L152.0,155.1 L154.0,154.8 L156.0,153.6 L158.0,151.3 L158.7,151.3 L160.0,150.9 L162.0,150.3 L164.0,147.9 L165.4,147.4 L166.0,146.6 L168.0,146.0 L170.0,143.5 L172.1,142.7 L172.1,142.4 L174.1,142.0 L176.1,138.7 L178.1,138.2 L178.7,138.0 L180.1,138.0 L182.1,136.1 L184.1,135.3 L185.4,134.8 L186.1,134.0 L188.1,134.9 L190.1,132.7 L192.1,132.9 L192.1,132.2 L194.1,132.0 L196.1,131.7 L198.1,130.9 L198.8,131.7 L200.1,130.4 L201.4,130.1 L202.1,127.0 L203.0,123.0 L203.8,52.2 L204.1,51.6 L205.4,45.9 L206.1,44.3 L208.1,42.0 L210.0,40.4 L210.1,40.0 L212.1,38.4 L214.1,36.4 L216.1,36.8 L217.4,34.1 L218.1,33.3 L220.1,33.5 L222.1,30.2 L224.1,28.1 L225.4,27.8 L226.1,26.0 L228.1,25.9 L230.1,23.6 L232.1,22.3 L232.1,22.3 L234.1,22.0 L236.1,18.5 L238.1,17.3 L238.8,16.8 L240.1,14.3 L242.1,11.4 L242.8,9.7 L244.1,10.1 L246.1,10.6 L248.1,10.4 L249.5,11.7 L250.1,11.5 L252.2,9.7 L254.2,12.3 L257.5,12.6 L260.8,12.8 L264.2,13.6 L265.5,13.2 L267.5,12.3 L270.8,12.9 L274.2,14.2 L277.5,13.4 L280.9,12.8 L284.2,14.5 L287.5,13.6 L290.9,13.9 L294.2,12.4 L297.5,13.7" stroke="#000000"/>
<path d="M98.0,162.2 L101.3,163.8 L104.6,162.9 L105.3,163.2 L108.0,163.4 L111.3,162.4 L114.6,162.8 L118.0,162.6 L118.7,162.8 L121.3,162.2 L124.7,162.5 L128.0,161.9 L131.3,162.0 L132.0,161.6 L134.7,159.9 L138.0,160.7 L141.3,159.9 L144.7,160.3 L145.3,159.2 L148.0,158.8 L150.0,157.5 L152.0,156.1 L152.0,155.6 L154.0,154.4 L156.0,153.5 L158.0,152.9 L158.7,152.1 L160.0,150.3 L162.0,150.7 L164.0,149.4 L165.4,148.2 L166.0,147.5 L168.0,147.2 L170.0,145.3 L172.1,144.3 L172.1,143.7 L174.1,142.9 L176.1,141.2 L178.1,140.0 L178.7,139.5 L180.1,139.0 L182.1,138.9 L184.1,136.4 L185.4,134.8 L186.1,134.0 L188.1,132.6 L188.1,131.7 L190.1,129.4 L191.8,126.9 L192.1,115.6 L192.7,87.6 L194.1,49.8 L194.1,49.1 L195.4,46.7 L196.1,46.9 L198.1,45.1 L198.8,44.3 L200.1,43.4 L202.1,42.0 L202.8,42.0 L204.1,41.8 L206.1,38.5 L208.1,38.6 L209.4,37.2 L210.1,36.1 L212.1,35.5 L214.1,33.8 L216.1,31.7 L217.4,31.7 L218.1,30.8 L220.1,29.8 L222.1,29.1 L224.1,27.5 L225.4,26.2 L226.1,26.5 L228.1,23.2 L230.1,23.8 L232.1,22.9 L232.1,21.5 L234.1,19.1 L236.1,17.9 L238.1,17.4 L238.8,16.8 L240.1,15.1 L242.1,14.3 L242.8,13.2 L244.1,13.3 L246.1,12.4 L248.1,12.2 L250.1,12.4 L252.2,11.9 L252.2,11.0 L254.2,11.4 L257.5,11.6 L260.8,12.3 L264.2,11.4 L267.5,11.6 L270.8,11.4 L274.2,10.8 L277.5,11.4 L278.9,11.1 L280.9,10.9 L284.2,10.6 L287.5,10.8 L290.9,9.7 L294.2,12.0 L297.5,11.0" stroke="#3aa6dc"/>
<path d="M98.0,161.5 L101.3,163.6 L104.6,162.1 L105.3,163.2 L108.0,162.4 L111.3,163.6 L114.6,162.7 L118.0,162.6 L118.7,163.5 L121.3,163.7 L124.7,163.7 L128.0,162.5 L131.3,162.9 L132.0,163.2 L134.7,161.3 L138.0,161.8 L141.3,162.3 L144.7,160.9 L145.3,160.8 L148.0,160.3 L150.0,158.1 L152.0,157.6 L152.0,157.2 L154.0,156.7 L156.0,155.9 L158.0,153.5 L158.7,153.7 L160.0,153.2 L162.0,150.9 L164.0,151.2 L165.4,149.8 L166.0,149.6 L168.0,148.6 L170.0,147.7 L172.1,145.8 L172.1,144.0 L174.1,143.3 L176.1,143.4 L178.1,141.1 L178.7,141.1 L180.1,141.5 L182.1,138.3 L184.1,137.2 L185.4,137.2 L186.1,137.2 L188.1,136.5 L190.1,135.4 L192.1,134.8 L192.1,134.5 L194.1,134.3 L196.1,134.0 L198.1,132.9 L198.8,132.5 L200.1,132.0 L202.1,130.0 L202.8,130.1 L204.1,127.9 L204.8,126.9 L205.7,87.6 L206.1,74.2 L206.8,52.2 L208.1,50.0 L210.0,44.3 L210.1,44.4 L212.1,42.5 L214.1,40.7 L216.1,38.6 L217.4,37.2 L218.1,36.8 L220.1,35.9 L222.1,32.5 L224.1,30.7 L225.4,30.1 L226.1,29.9 L228.1,27.5 L230.1,26.9 L232.1,25.5 L232.1,24.6 L234.1,23.1 L236.1,20.3 L238.1,19.7 L238.8,19.1 L240.1,19.2 L242.1,16.6 L244.1,15.7 L245.5,14.4 L246.1,14.7 L248.1,13.5 L250.1,14.4 L252.2,14.0 L252.2,12.8 L254.2,13.7 L257.5,11.9 L260.8,12.4 L264.2,12.7 L267.5,12.6 L270.8,11.6 L274.2,11.0 L277.5,12.2 L278.9,11.7 L280.9,11.4 L284.2,10.0 L287.5,11.2 L290.9,11.8 L294.2,11.3 L297.5,11.4" stroke="#3aa6dc"/>
<path d="M98.0,148.5 L101.3,147.3 L104.6,149.7 L105.3,147.8 L108.0,146.3 L111.3,146.7 L114.6,145.7 L118.0,146.7 L118.7,145.8 L121.3,144.8 L124.7,142.8 L128.0,143.1 L131.3,142.6 L132.0,141.9 L134.7,141.1 L138.0,139.8 L141.3,137.4 L144.7,136.5 L145.3,136.4 L148.0,135.8 L150.0,134.1 L152.0,134.8 L152.0,134.0 L154.0,134.2 L156.0,130.3 L158.0,131.7 L158.7,130.9 L160.0,128.8 L162.0,129.0 L164.0,127.9 L165.4,126.9 L166.0,126.1 L168.0,126.0 L170.0,124.8 L172.1,123.2 L172.1,123.0 L174.1,122.1 L176.1,120.1 L178.1,118.0 L178.7,119.1 L180.1,118.1 L182.1,115.1 L182.7,113.6 L184.1,110.5 L186.1,107.3 L186.1,106.9 L188.1,95.5 L188.1,94.6 L190.1,72.4 L190.1,71.9 L192.1,51.4 L192.1,50.9 L194.1,47.9 L194.7,46.7 L196.1,47.2 L198.1,44.7 L198.8,44.7 L200.1,45.3 L202.1,42.9 L204.1,42.8 L205.4,42.0 L206.1,41.7 L208.1,38.7 L210.1,38.0 L212.1,38.0 L212.1,37.7 L214.1,36.5 L216.1,36.2 L218.1,33.5 L218.8,34.1 L220.1,32.8 L222.1,32.8 L224.1,32.2 L225.4,30.1 L226.1,29.8 L228.1,29.0 L230.1,27.3 L232.1,27.8 L232.1,27.0 L234.1,26.9 L236.1,25.2 L238.1,24.8 L238.8,24.6 L240.1,23.5 L242.1,22.9 L244.1,23.9 L246.1,24.5 L248.1,22.1 L250.1,22.2 L252.2,21.1 L252.2,20.9 L254.2,22.9 L257.5,20.5 L260.8,20.0 L264.2,20.1 L265.5,19.5 L267.5,18.9 L270.8,19.0 L274.2,18.6 L277.5,17.5 L278.9,18.3 L280.9,17.2 L284.2,16.9 L287.5,17.3 L290.9,17.2 L292.2,17.2 L294.2,16.4 L297.5,16.1" stroke="#ff8000"/>
<path d="M98.0,154.8 L101.3,155.3 L104.6,152.7 L105.3,154.1 L108.0,153.2 L111.3,152.4 L114.6,153.3 L118.0,153.9 L118.7,152.9 L121.3,154.8 L124.7,155.2 L125.3,154.9 L128.0,154.5 L131.3,153.4 L132.0,152.9 L134.7,152.7 L138.0,151.4 L141.3,153.0 L144.7,149.5 L145.3,150.6 L148.0,149.9 L150.0,148.8 L152.0,149.5 L154.0,147.3 L156.0,147.8 L158.0,145.7 L158.7,145.8 L160.0,145.1 L162.0,144.3 L164.0,143.8 L166.0,143.0 L168.0,142.2 L170.0,140.5 L172.1,140.3 L172.1,140.3 L174.1,139.3 L176.1,136.9 L178.1,137.8 L180.1,137.7 L182.1,137.8 L184.1,137.1 L185.4,134.8 L186.1,134.3 L188.1,132.6 L190.1,132.8 L192.1,131.7 L192.1,130.9 L194.1,129.8 L196.1,128.4 L198.1,126.7 L198.8,126.9 L200.1,125.5 L202.1,123.5 L202.8,122.2 L204.1,119.4 L205.4,117.5 L206.1,107.2 L206.8,95.5 L208.1,69.0 L208.1,67.9 L209.4,60.1 L210.1,59.3 L212.1,54.0 L212.8,52.2 L214.1,51.1 L216.1,48.6 L218.1,46.4 L220.1,44.3 L220.1,42.6 L222.1,43.0 L224.1,43.9 L226.1,42.4 L228.1,40.4 L228.1,40.3 L230.1,39.8 L232.1,36.5 L234.1,37.2 L236.1,35.9 L236.1,35.7 L238.1,34.6 L240.1,33.8 L242.1,32.2 L244.1,31.8 L245.5,30.9 L246.1,30.4 L248.1,30.3 L250.1,31.0 L252.2,27.9 L254.2,26.2 L256.2,26.6 L257.5,27.0 L260.8,26.0 L264.2,24.3 L265.5,24.6 L267.5,24.6 L270.8,23.5 L274.2,23.0 L277.5,21.7 L278.9,21.9 L280.9,21.7 L284.2,19.8 L287.5,20.8 L290.9,20.7 L292.2,20.3 L294.2,20.9 L297.5,19.2" stroke="#ff8000"/>
<path d="M98.0,111.6 L101.3,113.0 L104.6,111.0 L105.3,111.2 L108.0,109.7 L111.3,110.6 L114.6,109.6 L118.0,110.8 L121.3,109.7 L124.7,109.1 L128.0,107.8 L131.3,108.2 L132.0,108.1 L134.7,107.1 L138.0,107.5 L141.3,107.6 L144.7,106.7 L148.0,106.3 L150.0,106.5 L152.0,105.6 L154.0,106.6 L156.0,105.7 L158.0,105.2 L158.7,105.7 L160.0,105.8 L162.0,105.0 L164.0,104.6 L166.0,105.2 L168.0,102.7 L170.0,103.7 L171.1,103.3 L172.1,102.2 L174.1,103.4 L176.1,99.1 L178.1,98.9 L180.1,97.9 L182.1,95.9 L184.1,93.8 L185.8,93.1 L186.1,94.0 L188.1,89.0 L190.1,87.5 L192.1,82.6 L193.8,80.5 L194.1,80.4 L196.1,79.3 L198.1,79.2 L200.1,80.0 L201.8,78.9 L202.1,79.3 L204.1,78.2 L206.1,78.5 L208.1,77.8 L210.0,77.4 L210.1,78.2 L212.1,76.7 L214.1,75.2 L216.1,76.0 L218.1,76.2 L220.1,77.0 L222.1,76.1 L224.1,74.9 L226.1,75.6 L228.1,74.9 L230.1,75.4 L230.3,75.0 L232.1,74.7 L234.1,73.5 L236.1,73.3 L238.1,72.6 L238.8,71.9 L240.1,71.6 L242.1,71.6 L244.1,72.5 L246.1,70.2 L248.1,69.3 L250.1,69.8 L252.2,70.0 L254.2,70.1 L257.5,69.3 L260.8,68.2 L264.2,66.9 L265.5,67.1 L267.5,66.9 L270.8,66.5 L274.2,66.6 L277.5,65.3 L280.9,65.4 L284.2,63.0 L287.5,63.5 L290.9,63.2 L292.2,62.8 L294.2,61.4 L297.5,60.8" stroke="#c00000"/>
<path d="M98.0,118.6 L101.3,119.3 L104.6,118.7 L105.3,118.5 L108.0,117.9 L111.3,117.7 L114.6,118.0 L118.0,118.4 L121.3,117.3 L124.7,117.2 L128.0,116.3 L131.3,116.0 L132.0,115.9 L134.7,116.1 L138.0,115.9 L141.3,115.2 L144.7,114.3 L148.0,113.8 L150.0,113.5 L152.0,113.0 L154.0,112.7 L156.0,113.4 L158.0,112.1 L158.7,112.8 L160.0,113.2 L162.0,111.8 L164.0,111.8 L166.0,112.5 L168.0,110.1 L170.0,109.3 L171.1,110.4 L172.1,109.3 L174.1,109.9 L176.1,109.5 L178.1,106.6 L180.1,105.9 L182.1,105.6 L184.1,104.6 L185.8,103.3 L186.1,104.4 L188.1,102.9 L190.1,103.9 L192.1,103.1 L194.1,101.9 L196.1,100.5 L198.1,101.0 L198.1,100.6 L200.1,95.4 L202.1,90.2 L204.1,85.5 L205.0,83.7 L206.1,83.5 L208.1,82.0 L210.0,81.3 L210.1,81.2 L212.1,81.3 L214.1,80.7 L216.1,80.4 L218.1,80.9 L220.1,80.7 L222.1,79.4 L224.1,78.7 L226.1,78.2 L228.1,77.7 L230.1,77.9 L230.3,78.2 L232.1,77.5 L234.1,77.4 L236.1,77.3 L238.1,77.8 L238.8,75.8 L240.1,75.8 L242.1,74.8 L244.1,74.9 L246.1,73.3 L248.1,73.2 L250.1,73.3 L252.2,73.5 L254.2,72.0 L257.5,71.6 L260.8,72.7 L264.2,71.0 L265.5,71.1 L267.5,70.0 L270.8,70.7 L274.2,68.4 L277.5,69.1 L280.9,68.0 L284.2,68.0 L287.5,67.1 L290.9,66.5 L292.2,66.4 L294.2,65.0 L297.5,65.5" stroke="#c00000"/>
<path d="M98.0,114.9 L101.3,117.3 L104.6,118.6 L105.3,115.5 L108.0,114.2 L111.3,114.2 L114.6,115.2 L118.0,114.5 L121.3,112.0 L124.7,110.2 L128.0,111.3 L131.3,112.1 L132.0,111.2 L134.7,109.6 L138.0,108.6 L141.3,110.7 L144.7,107.7 L148.0,109.0 L150.0,107.4 L152.0,106.5 L154.0,106.6 L156.0,108.0 L158.0,105.4 L158.7,105.7 L160.0,106.9 L162.0,103.7 L164.0,106.1 L166.0,103.7 L168.0,103.0 L170.0,102.5 L172.1,101.0 L172.1,100.7 L174.1,99.6 L176.1,96.7 L178.1,97.3 L179.5,97.0 L180.1,95.1 L182.1,95.4 L184.1,90.4 L186.1,88.3 L187.5,87.6 L188.1,85.1 L190.1,81.8 L192.1,81.3 L193.8,77.4 L194.1,78.7 L196.1,76.7 L198.1,75.2 L200.1,71.4 L201.8,71.9 L202.1,74.1 L204.1,71.0 L206.1,69.2 L208.1,69.9 L210.0,69.1 L210.1,70.8 L212.1,69.4 L214.1,67.0 L216.1,66.0 L217.7,66.4 L218.1,66.4 L220.1,65.3 L222.1,63.6 L224.1,65.2 L226.1,61.9 L228.1,64.9 L230.1,60.9 L230.3,63.2 L232.1,64.4 L234.1,60.5 L236.1,61.6 L238.1,62.9 L238.8,60.8 L240.1,60.4 L242.1,59.5 L244.1,59.0 L246.1,59.2 L248.1,59.1 L250.1,58.9 L252.2,58.0 L254.2,56.2 L257.5,56.4 L260.8,55.5 L264.2,55.4 L265.5,55.3 L267.5,53.4 L270.8,51.8 L274.2,51.6 L277.5,55.4 L280.9,54.6 L284.2,54.4 L287.5,53.2 L290.9,50.0 L292.2,52.2 L294.2,52.4 L297.5,51.6" stroke="#ff0000"/>
<path d="M98.0,124.5 L101.3,124.8 L104.6,123.2 L105.3,122.8 L108.0,122.9 L111.3,121.2 L114.6,120.8 L118.0,121.4 L121.3,119.6 L124.7,120.2 L128.0,119.0 L131.3,118.6 L132.0,118.3 L134.7,117.6 L138.0,116.4 L141.3,115.7 L144.7,115.1 L148.0,114.1 L150.0,113.7 L152.0,114.0 L154.0,113.6 L156.0,112.9 L158.0,111.8 L158.7,112.0 L160.0,111.6 L162.0,109.3 L164.0,110.5 L166.0,109.9 L168.0,108.0 L170.0,106.8 L171.1,107.3 L172.1,106.7 L174.1,106.0 L176.1,105.1 L178.1,105.5 L180.1,105.8 L182.1,104.7 L184.1,103.2 L185.8,103.3 L186.1,104.2 L188.1,102.6 L190.1,101.9 L192.1,101.6 L194.1,100.4 L196.1,99.9 L198.1,98.1 L198.8,99.4 L200.1,95.0 L202.1,89.7 L203.4,85.2 L204.1,84.5 L206.1,81.3 L208.1,77.4 L208.1,76.8 L210.0,74.5 L210.1,74.9 L212.1,74.2 L214.1,73.4 L216.1,73.9 L218.1,73.3 L220.1,74.0 L222.1,73.1 L224.1,72.5 L226.1,71.5 L228.1,70.7 L230.1,71.1 L230.3,71.1 L232.1,70.2 L234.1,69.5 L236.1,68.2 L238.1,67.6 L238.8,67.9 L240.1,67.5 L242.1,68.0 L244.1,66.4 L246.1,66.4 L248.1,65.5 L250.1,65.9 L252.2,64.3 L254.2,65.4 L257.5,63.6 L260.8,64.0 L264.2,63.8 L265.5,63.2 L267.5,63.6 L270.8,62.3 L274.2,60.7 L277.5,60.5 L280.9,60.0 L284.2,61.3 L287.5,58.8 L290.9,58.3 L292.2,58.4 L294.2,58.5 L297.5,58.1" stroke="#ff0000"/>
</g>
<line x1="105.6" y1="0" x2="105.6" y2="175.5" stroke="#111" stroke-width="1.5"/>
<line x1="104.8" y1="174.8" x2="292" y2="174.8" stroke="#111" stroke-width="1.5"/>
<line x1="291.4" y1="0" x2="291.4" y2="175.5" stroke="#111" stroke-width="1.3"/>
<line x1="102.3" y1="8.9" x2="105.6" y2="8.9" stroke="#111" stroke-width="1.2"/>
<text x="100" y="12.5" font-size="10" text-anchor="end" fill="#222">1</text>
<line x1="102.3" y1="87.6" x2="105.6" y2="87.6" stroke="#111" stroke-width="1.2"/>
<text x="100" y="91.2" font-size="10" text-anchor="end" fill="#222">0</text>
<line x1="102.3" y1="166.3" x2="105.6" y2="166.3" stroke="#111" stroke-width="1.2"/>
<text x="100" y="169.9" font-size="10" text-anchor="end" fill="#222">−1</text>
<line x1="118.7" y1="174.8" x2="118.7" y2="178" stroke="#111" stroke-width="1.2"/>
<text x="115.8" y="189" font-size="10" text-anchor="middle" fill="#222">−6</text>
<line x1="145.3" y1="174.8" x2="145.3" y2="178" stroke="#111" stroke-width="1.2"/>
<text x="142.4" y="189" font-size="10" text-anchor="middle" fill="#222">−4</text>
<line x1="172.1" y1="174.8" x2="172.1" y2="178" stroke="#111" stroke-width="1.2"/>
<text x="169.2" y="189" font-size="10" text-anchor="middle" fill="#222">−2</text>
<line x1="198.8" y1="174.8" x2="198.8" y2="178" stroke="#111" stroke-width="1.2"/>
<text x="198.8" y="189" font-size="10" text-anchor="middle" fill="#222">0</text>
<line x1="225.4" y1="174.8" x2="225.4" y2="178" stroke="#111" stroke-width="1.2"/>
<text x="225.4" y="189" font-size="10" text-anchor="middle" fill="#222">2</text>
<line x1="252.2" y1="174.8" x2="252.2" y2="178" stroke="#111" stroke-width="1.2"/>
<text x="252.2" y="189" font-size="10" text-anchor="middle" fill="#222">4</text>
<line x1="278.9" y1="174.8" x2="278.9" y2="178" stroke="#111" stroke-width="1.2"/>
<text x="278.9" y="189" font-size="10" text-anchor="middle" fill="#222">6</text>
<line x1="132.0" y1="174.8" x2="132.0" y2="176.8" stroke="#111" stroke-width="1"/>
<line x1="158.7" y1="174.8" x2="158.7" y2="176.8" stroke="#111" stroke-width="1"/>
<line x1="185.4" y1="174.8" x2="185.4" y2="176.8" stroke="#111" stroke-width="1"/>
<line x1="212.1" y1="174.8" x2="212.1" y2="176.8" stroke="#111" stroke-width="1"/>
<line x1="238.8" y1="174.8" x2="238.8" y2="176.8" stroke="#111" stroke-width="1"/>
<line x1="265.5" y1="174.8" x2="265.5" y2="176.8" stroke="#111" stroke-width="1"/>
<text x="197" y="205.5" font-size="10" text-anchor="middle" fill="#222"><tspan font-style="italic">μ</tspan><tspan font-size="7" dy="2.5">0</tspan><tspan dy="-2.5" font-style="italic">H</tspan> (mT)</text>
<text transform="translate(67.3,106.5) rotate(-90)" font-size="10" text-anchor="middle" fill="#222" font-style="italic">M / M<tspan font-size="7" dy="2.5" font-style="normal">s</tspan></text>
<text x="112.6" y="13.4" font-size="9.5" font-weight="bold" fill="#111">b</text>
<defs>
<filter id="fcu" x="0" y="0" width="1" height="1" color-interpolation-filters="sRGB">
  <feTurbulence type="fractalNoise" baseFrequency="0.5" numOctaves="2" seed="4" result="n"/>
  <feColorMatrix in="n" type="matrix" values="0.24 0 0 0 0.69  0.26 0 0 0 0.315  0.18 0 0 0 0.11  0 0 0 0 1"/>
</filter>
<filter id="fcu2" x="0" y="0" width="1" height="1" color-interpolation-filters="sRGB">
  <feTurbulence type="fractalNoise" baseFrequency="0.5" numOctaves="2" seed="9" result="n"/>
  <feColorMatrix in="n" type="matrix" values="0.24 0 0 0 0.69  0.26 0 0 0 0.315  0.18 0 0 0 0.11  0 0 0 0 1"/>
</filter>
<filter id="fgrain" x="0" y="0" width="1" height="1" color-interpolation-filters="sRGB">
  <feTurbulence type="fractalNoise" baseFrequency="0.9" numOctaves="1" seed="2" result="n"/>
  <feColorMatrix in="n" type="matrix" values="0 0 0 0 0  0 0 0 0 0  0 0 0 0 0  0.9 0 0 0 -0.45" result="g"/>
  <feComposite in="g" in2="SourceGraphic" operator="atop"/>
</filter>
<filter id="fwave" x="-0.1" y="-0.1" width="1.2" height="1.2" color-interpolation-filters="sRGB">
  <feTurbulence type="fractalNoise" baseFrequency="0.025 0.012" numOctaves="1" seed="5" result="t"/>
  <feDisplacementMap in="SourceGraphic" in2="t" scale="3.5" xChannelSelector="R" yChannelSelector="G" result="d"/>
  <feTurbulence type="fractalNoise" baseFrequency="0.9" numOctaves="1" seed="8" result="n"/>
  <feColorMatrix in="n" type="matrix" values="0 0 0 0 0  0 0 0 0 0  0 0 0 0 0  0.45 0 0 0 -0.2" result="g"/>
  <feComposite in="g" in2="d" operator="atop"/>
</filter>
<filter id="flab" x="-0.1" y="-0.1" width="1.2" height="1.2" color-interpolation-filters="sRGB">
  <feTurbulence type="fractalNoise" baseFrequency="0.1 0.05" numOctaves="2" seed="11" result="t"/>
  <feDisplacementMap in="SourceGraphic" in2="t" scale="6" xChannelSelector="R" yChannelSelector="G" result="d"/>
</filter>
<linearGradient id="gstr0" gradientUnits="userSpaceOnUse" x1="-3" y1="0" x2="6.7" y2="0.7" spreadMethod="repeat">
  <stop offset="0" stop-color="#c2561a"/><stop offset="0.25" stop-color="#c6601e"/><stop offset="0.42" stop-color="#e29a44"/><stop offset="0.55" stop-color="#f4c064"/><stop offset="0.66" stop-color="#f0b65c"/><stop offset="0.82" stop-color="#d0742c"/><stop offset="1" stop-color="#c2561a"/>
</linearGradient>
<linearGradient id="glab" gradientUnits="userSpaceOnUse" x1="0" y1="0" x2="4.5" y2="0" spreadMethod="repeat">
  <stop offset="0" stop-color="#642004"/><stop offset="0.3" stop-color="#9a4414"/><stop offset="0.5" stop-color="#e8b060"/><stop offset="0.62" stop-color="#f8d890"/><stop offset="0.8" stop-color="#c8803a"/><stop offset="1" stop-color="#642004"/>
</linearGradient>
<linearGradient id="g20" gradientUnits="userSpaceOnUse" x1="0" y1="0" x2="4.7" y2="0" spreadMethod="repeat">
  <stop offset="0" stop-color="#8e3810"/><stop offset="0.35" stop-color="#bc5c24"/><stop offset="0.6" stop-color="#eeb260"/><stop offset="0.8" stop-color="#d07e38"/><stop offset="1" stop-color="#8e3810"/>
</linearGradient>
<filter id="f20" x="-0.1" y="-0.1" width="1.2" height="1.2" color-interpolation-filters="sRGB">
  <feTurbulence type="fractalNoise" baseFrequency="0.08 0.03" numOctaves="2" seed="17" result="t"/>
  <feDisplacementMap in="SourceGraphic" in2="t" scale="5" xChannelSelector="R" yChannelSelector="G"/>
</filter>
<clipPath id="cl0a"><rect x="451.4" y="251.6" width="65.5" height="64.4"/></clipPath>
<clipPath id="cl0b"><rect x="516.9" y="251.6" width="66.9" height="64.4"/></clipPath>
<clipPath id="cl20b"><rect x="561.8" y="177.2" width="66.2" height="64.4"/></clipPath>
</defs>
<rect x="542.1" y="103.4" width="66.3" height="64.9" fill="#c8783a" filter="url(#fcu)"/>
<rect x="542.7" y="104.0" width="65.1" height="63.7" fill="none" stroke="#111" stroke-width="1.3"/>
<rect x="608.4" y="103.4" width="66.9" height="64.9" fill="#c8783a" filter="url(#fcu2)"/>
<rect x="609.0" y="104.0" width="65.7" height="63.7" fill="none" stroke="#ee1c1c" stroke-width="1.3"/>
<rect x="496.3" y="177.2" width="65.5" height="64.4" fill="#c8783a" filter="url(#fcu2)"/>
<rect x="496.90000000000003" y="177.79999999999998" width="64.3" height="63.2" fill="none" stroke="#111" stroke-width="1.3"/>
<g clip-path="url(#cl20b)">
<rect x="552" y="167" width="86" height="84" fill="url(#g20)" filter="url(#f20)"/>
<rect x="561.8" y="177.2" width="66.2" height="64.4" fill="#c87038" filter="url(#fcu)" opacity="0.35"/>
</g>
<rect x="562.45" y="177.85" width="64.9" height="63.1" fill="none" stroke="#ee1c1c" stroke-width="1.3"/>
<g clip-path="url(#cl0a)">
<rect x="441" y="241" width="86" height="86" fill="url(#gstr0)" filter="url(#fwave)"/>
</g>
<rect x="452" y="252.2" width="64.3" height="63.2" fill="none" stroke="#111" stroke-width="1.3"/>
<g clip-path="url(#cl0b)">
<rect x="506" y="241" width="88" height="86" fill="url(#glab)" filter="url(#flab)"/>
</g>
<rect x="517.5" y="252.2" width="65.7" height="63.2" fill="none" stroke="#ee1c1c" stroke-width="1.3"/>
<rect x="547.5" y="311" width="33.5" height="3" fill="#000"/>
<text x="533.3" y="140" font-size="10" text-anchor="end" fill="#222">50 mT</text>
<text x="485.8" y="214.3" font-size="10" text-anchor="end" fill="#222">20 mT</text>
<text x="440.1" y="287.4" font-size="10" text-anchor="end" fill="#222">0 mT</text>
<text x="483.8" y="331.2" font-size="10" text-anchor="middle" fill="#222">0 mW</text>
<text x="552.2" y="331.2" font-size="10" text-anchor="middle" fill="#ee1c1c">29 mW</text>
<g stroke="#7f7f7f" stroke-width="1.2" fill="none">
<line x1="605.8" y1="103.1" x2="626.3" y2="90.6" marker-end="url(#ah)"/>
<line x1="495.7" y1="193.8" x2="469.1" y2="141.6" marker-end="url(#ah)"/>
<line x1="450.3" y1="307.6" x2="366.2" y2="289" marker-end="url(#ah)"/>
</g>
<line x1="637.8" y1="231.4" x2="637.8" y2="195" stroke="#1aaf5d" stroke-width="2"/>
<path d="M633.6,196.4 L642,196.4 L637.8,187.9 z" fill="#1aaf5d"/>
<text x="644.6" y="213.2" font-size="10" font-weight="bold" font-style="italic" fill="#1aaf5d">H</text>
<rect x="128.3" y="413.5" width="27" height="192.2" fill="#bfbfbf"/>
<line x1="55.3" y1="412.4" x2="55.3" y2="607" stroke="#111" stroke-width="1.5"/>
<line x1="54.6" y1="606.3" x2="266" y2="606.3" stroke="#111" stroke-width="1.5"/>
<line x1="54.6" y1="412.4" x2="266" y2="412.4" stroke="#111" stroke-width="1.5"/>
<line x1="265.5" y1="411.7" x2="265.5" y2="610" stroke="#111" stroke-width="1.3"/>
<line x1="50.2" y1="413.2" x2="55.3" y2="413.2" stroke="#111" stroke-width="1.3"/>
<text x="45" y="416.8" font-size="10" text-anchor="end" fill="#222">80</text>
<line x1="50.2" y1="456.4" x2="55.3" y2="456.4" stroke="#111" stroke-width="1.3"/>
<text x="45" y="460.0" font-size="10" text-anchor="end" fill="#222">60</text>
<line x1="50.2" y1="499.5" x2="55.3" y2="499.5" stroke="#111" stroke-width="1.3"/>
<text x="45" y="503.1" font-size="10" text-anchor="end" fill="#222">40</text>
<line x1="50.2" y1="542.7" x2="55.3" y2="542.7" stroke="#111" stroke-width="1.3"/>
<text x="45" y="546.3" font-size="10" text-anchor="end" fill="#222">20</text>
<line x1="50.2" y1="585.9" x2="55.3" y2="585.9" stroke="#111" stroke-width="1.3"/>
<text x="45" y="589.5" font-size="10" text-anchor="end" fill="#222">0</text>
<line x1="53" y1="434.8" x2="55.3" y2="434.8" stroke="#111" stroke-width="1.1"/>
<line x1="53" y1="477.9" x2="55.3" y2="477.9" stroke="#111" stroke-width="1.1"/>
<line x1="53" y1="521.1" x2="55.3" y2="521.1" stroke="#111" stroke-width="1.1"/>
<line x1="53" y1="564.3" x2="55.3" y2="564.3" stroke="#111" stroke-width="1.1"/>
<line x1="76.2" y1="606.3" x2="76.2" y2="611" stroke="#111" stroke-width="1.3"/>
<text x="76.2" y="623.6" font-size="10" text-anchor="middle" fill="#222">0</text>
<line x1="121.2" y1="606.3" x2="121.2" y2="611" stroke="#111" stroke-width="1.3"/>
<text x="121.2" y="623.6" font-size="10" text-anchor="middle" fill="#222">27</text>
<line x1="162.1" y1="606.3" x2="162.1" y2="611" stroke="#111" stroke-width="1.3"/>
<text x="162.1" y="623.6" font-size="10" text-anchor="middle" fill="#222">28</text>
<line x1="203.3" y1="606.3" x2="203.3" y2="611" stroke="#111" stroke-width="1.3"/>
<text x="203.3" y="623.6" font-size="10" text-anchor="middle" fill="#222">29</text>
<line x1="244.4" y1="606.3" x2="244.4" y2="611" stroke="#111" stroke-width="1.3"/>
<text x="244.4" y="623.6" font-size="10" text-anchor="middle" fill="#222">30</text>
<line x1="142.2" y1="606.3" x2="142.2" y2="609" stroke="#111" stroke-width="1.1"/>
<line x1="183.1" y1="606.3" x2="183.1" y2="609" stroke="#111" stroke-width="1.1"/>
<line x1="224.4" y1="606.3" x2="224.4" y2="609" stroke="#111" stroke-width="1.1"/>
<path d="M93.2,616 L99.7,597.7 M97.6,616 L104.1,597.7" stroke="#111" stroke-width="1.4"/>
<rect x="71.10000000000001" y="574.0" width="10.2" height="10" fill="#000"/>
<rect x="116.30000000000001" y="572.3" width="10.2" height="10" fill="#3aa6dc"/>
<path d="M162.1,541.8 V561.8 M158.6,541.8 h7 M158.6,561.8 h7" stroke="#ff8000" stroke-width="1.2"/>
<rect x="157.0" y="546.8" width="10.2" height="10" fill="#ff8000"/>
<path d="M203.3,460.20000000000005 V480.0 M199.8,460.20000000000005 h7 M199.8,480.0 h7" stroke="#ff0000" stroke-width="1.2"/>
<rect x="198.20000000000002" y="465.1" width="10.2" height="10" fill="#ff0000"/>
<path d="M244.4,430.6 V450.4 M240.9,430.6 h7 M240.9,450.4 h7" stroke="#bb0000" stroke-width="1.2"/>
<rect x="239.3" y="435.5" width="10.2" height="10" fill="#bb0000"/>
<text x="135" y="504" font-size="10" font-style="italic" fill="#222">P<tspan font-size="7" font-style="normal" dy="2">th</tspan></text>
<text x="161.8" y="641.5" font-size="10" text-anchor="middle" fill="#222">Laser Power (mW)</text>
<text transform="translate(28.6,509.5) rotate(-90)" font-size="10" text-anchor="middle" fill="#222"><tspan font-style="italic">μ</tspan><tspan font-size="7" dy="2.3">0</tspan><tspan font-style="italic" dy="-2.3">H</tspan><tspan font-size="7" dy="2.3">sat</tspan><tspan dy="-2.3"> (mT)</tspan></text>
<text x="19.3" y="417.3" font-size="10" font-weight="bold" fill="#111">c</text>
<defs><linearGradient id="gd" gradientUnits="userSpaceOnUse" x1="347.4" y1="0" x2="574.0" y2="0"><stop offset="0.0000" stop-color="#f03232"/><stop offset="0.0088" stop-color="#f03030"/><stop offset="0.0175" stop-color="#f03131"/><stop offset="0.0263" stop-color="#f03434"/><stop offset="0.0351" stop-color="#f13a3a"/><stop offset="0.0439" stop-color="#f14242"/><stop offset="0.0526" stop-color="#f24d4d"/><stop offset="0.0614" stop-color="#f35b5b"/><stop offset="0.0702" stop-color="#f46a6a"/><stop offset="0.0789" stop-color="#f67c7c"/><stop offset="0.0877" stop-color="#f78f8f"/><stop offset="0.0965" stop-color="#f8a4a4"/><stop offset="0.1053" stop-color="#fababa"/><stop offset="0.1140" stop-color="#fcd1d1"/><stop offset="0.1228" stop-color="#fde8e8"/><stop offset="0.1316" stop-color="#fefeff"/><stop offset="0.1404" stop-color="#e7e7fd"/><stop offset="0.1491" stop-color="#d0d0fb"/><stop offset="0.1579" stop-color="#b9b9f8"/><stop offset="0.1667" stop-color="#a4a4f6"/><stop offset="0.1754" stop-color="#9090f5"/><stop offset="0.1842" stop-color="#7d7df3"/><stop offset="0.1930" stop-color="#6c6cf1"/><stop offset="0.2018" stop-color="#5d5df0"/><stop offset="0.2105" stop-color="#5050ef"/><stop offset="0.2193" stop-color="#4545ee"/><stop offset="0.2281" stop-color="#3d3ded"/><stop offset="0.2368" stop-color="#3737ec"/><stop offset="0.2456" stop-color="#3434ec"/><stop offset="0.2544" stop-color="#3434ec"/><stop offset="0.2632" stop-color="#3737ec"/><stop offset="0.2719" stop-color="#3c3ced"/><stop offset="0.2807" stop-color="#4343ed"/><stop offset="0.2895" stop-color="#4d4dee"/><stop offset="0.2982" stop-color="#5a5af0"/><stop offset="0.3070" stop-color="#6969f1"/><stop offset="0.3158" stop-color="#7979f2"/><stop offset="0.3246" stop-color="#8c8cf4"/><stop offset="0.3333" stop-color="#a0a0f6"/><stop offset="0.3421" stop-color="#b5b5f8"/><stop offset="0.3509" stop-color="#cbcbfa"/><stop offset="0.3596" stop-color="#e2e2fc"/><stop offset="0.3684" stop-color="#f9f9fe"/><stop offset="0.3772" stop-color="#feeded"/><stop offset="0.3860" stop-color="#fcd6d6"/><stop offset="0.3947" stop-color="#fabebe"/><stop offset="0.4035" stop-color="#f9a8a8"/><stop offset="0.4123" stop-color="#f79393"/><stop offset="0.4211" stop-color="#f68080"/><stop offset="0.4298" stop-color="#f46e6e"/><stop offset="0.4386" stop-color="#f35e5e"/><stop offset="0.4474" stop-color="#f25050"/><stop offset="0.4561" stop-color="#f14444"/><stop offset="0.4649" stop-color="#f13b3b"/><stop offset="0.4737" stop-color="#f03535"/><stop offset="0.4825" stop-color="#f03131"/><stop offset="0.4912" stop-color="#f03030"/><stop offset="0.5000" stop-color="#f03232"/><stop offset="0.5088" stop-color="#f03636"/><stop offset="0.5175" stop-color="#f13d3d"/><stop offset="0.5263" stop-color="#f24747"/><stop offset="0.5351" stop-color="#f35353"/><stop offset="0.5439" stop-color="#f46161"/><stop offset="0.5526" stop-color="#f57171"/><stop offset="0.5614" stop-color="#f68484"/><stop offset="0.5702" stop-color="#f89898"/><stop offset="0.5789" stop-color="#f9adad"/><stop offset="0.5877" stop-color="#fbc3c3"/><stop offset="0.5965" stop-color="#fcdbdb"/><stop offset="0.6053" stop-color="#fef2f2"/><stop offset="0.6140" stop-color="#f4f4fe"/><stop offset="0.6228" stop-color="#ddddfc"/><stop offset="0.6316" stop-color="#c6c6fa"/><stop offset="0.6404" stop-color="#b0b0f8"/><stop offset="0.6491" stop-color="#9b9bf6"/><stop offset="0.6579" stop-color="#8888f4"/><stop offset="0.6667" stop-color="#7676f2"/><stop offset="0.6754" stop-color="#6565f1"/><stop offset="0.6842" stop-color="#5757ef"/><stop offset="0.6930" stop-color="#4b4bee"/><stop offset="0.7018" stop-color="#4141ed"/><stop offset="0.7105" stop-color="#3a3aed"/><stop offset="0.7193" stop-color="#3636ec"/><stop offset="0.7281" stop-color="#3434ec"/><stop offset="0.7368" stop-color="#3535ec"/><stop offset="0.7456" stop-color="#3838ec"/><stop offset="0.7544" stop-color="#3f3fed"/><stop offset="0.7632" stop-color="#4747ee"/><stop offset="0.7719" stop-color="#5252ef"/><stop offset="0.7807" stop-color="#6060f0"/><stop offset="0.7895" stop-color="#6f6ff2"/><stop offset="0.7982" stop-color="#8181f3"/><stop offset="0.8070" stop-color="#9494f5"/><stop offset="0.8158" stop-color="#a8a8f7"/><stop offset="0.8246" stop-color="#bebef9"/><stop offset="0.8333" stop-color="#d5d5fb"/><stop offset="0.8421" stop-color="#ececfd"/><stop offset="0.8509" stop-color="#fffbfb"/><stop offset="0.8596" stop-color="#fde3e3"/><stop offset="0.8684" stop-color="#fbcccc"/><stop offset="0.8772" stop-color="#fab5b5"/><stop offset="0.8860" stop-color="#f89f9f"/><stop offset="0.8947" stop-color="#f78b8b"/><stop offset="0.9035" stop-color="#f57878"/><stop offset="0.9123" stop-color="#f46767"/><stop offset="0.9211" stop-color="#f35858"/><stop offset="0.9298" stop-color="#f24b4b"/><stop offset="0.9386" stop-color="#f14040"/><stop offset="0.9474" stop-color="#f13838"/><stop offset="0.9561" stop-color="#f03333"/><stop offset="0.9649" stop-color="#f03030"/><stop offset="0.9737" stop-color="#f03030"/><stop offset="0.9825" stop-color="#f03333"/><stop offset="0.9912" stop-color="#f13939"/><stop offset="1.0000" stop-color="#f14141"/></linearGradient><linearGradient id="mdg" gradientUnits="userSpaceOnUse" x1="0" y1="436.5" x2="0" y2="499.5"><stop offset="0.0000" stop-color="#fff" stop-opacity="0.1"/><stop offset="0.0714" stop-color="#fff" stop-opacity="0.3"/><stop offset="0.1667" stop-color="#fff" stop-opacity="0.7"/><stop offset="0.2937" stop-color="#fff" stop-opacity="0.95"/><stop offset="0.6905" stop-color="#fff" stop-opacity="0.95"/><stop offset="0.8333" stop-color="#fff" stop-opacity="0.7"/><stop offset="0.9286" stop-color="#fff" stop-opacity="0.35"/><stop offset="1.0000" stop-color="#fff" stop-opacity="0.15"/></linearGradient><mask id="md" maskUnits="userSpaceOnUse" x="0" y="436.5" width="685" height="63.0"><rect x="0" y="436.5" width="685" height="63.0" fill="url(#mdg)"/></mask><linearGradient id="geb" gradientUnits="userSpaceOnUse" x1="347.4" y1="0" x2="574.0" y2="0"><stop offset="0.0000" stop-color="#f13f3f"/><stop offset="0.0088" stop-color="#f13737"/><stop offset="0.0175" stop-color="#f03232"/><stop offset="0.0263" stop-color="#f03030"/><stop offset="0.0351" stop-color="#f03131"/><stop offset="0.0439" stop-color="#f03434"/><stop offset="0.0526" stop-color="#f13a3a"/><stop offset="0.0614" stop-color="#f14242"/><stop offset="0.0702" stop-color="#f24d4d"/><stop offset="0.0789" stop-color="#f35a5a"/><stop offset="0.0877" stop-color="#f46969"/><stop offset="0.0965" stop-color="#f57a7a"/><stop offset="0.1053" stop-color="#f78d8d"/><stop offset="0.1140" stop-color="#f8a1a1"/><stop offset="0.1228" stop-color="#fab6b6"/><stop offset="0.1316" stop-color="#fbcdcd"/><stop offset="0.1404" stop-color="#fde4e4"/><stop offset="0.1491" stop-color="#fffbfb"/><stop offset="0.1579" stop-color="#ececfd"/><stop offset="0.1667" stop-color="#d5d5fb"/><stop offset="0.1754" stop-color="#bfbff9"/><stop offset="0.1842" stop-color="#a9a9f7"/><stop offset="0.1930" stop-color="#9595f5"/><stop offset="0.2018" stop-color="#8282f3"/><stop offset="0.2105" stop-color="#7171f2"/><stop offset="0.2193" stop-color="#6161f0"/><stop offset="0.2281" stop-color="#5454ef"/><stop offset="0.2368" stop-color="#4848ee"/><stop offset="0.2456" stop-color="#4040ed"/><stop offset="0.2544" stop-color="#3939ec"/><stop offset="0.2632" stop-color="#3535ec"/><stop offset="0.2719" stop-color="#3434ec"/><stop offset="0.2807" stop-color="#3535ec"/><stop offset="0.2895" stop-color="#3939ec"/><stop offset="0.2982" stop-color="#4040ed"/><stop offset="0.3070" stop-color="#4949ee"/><stop offset="0.3158" stop-color="#5454ef"/><stop offset="0.3246" stop-color="#6161f0"/><stop offset="0.3333" stop-color="#7171f2"/><stop offset="0.3421" stop-color="#8282f3"/><stop offset="0.3509" stop-color="#9595f5"/><stop offset="0.3596" stop-color="#aaaaf7"/><stop offset="0.3684" stop-color="#bfbff9"/><stop offset="0.3772" stop-color="#d5d5fb"/><stop offset="0.3860" stop-color="#ececfd"/><stop offset="0.3947" stop-color="#fffbfb"/><stop offset="0.4035" stop-color="#fde3e3"/><stop offset="0.4123" stop-color="#fbcccc"/><stop offset="0.4211" stop-color="#fab6b6"/><stop offset="0.4298" stop-color="#f8a1a1"/><stop offset="0.4386" stop-color="#f78c8c"/><stop offset="0.4474" stop-color="#f57979"/><stop offset="0.4561" stop-color="#f46868"/><stop offset="0.4649" stop-color="#f35959"/><stop offset="0.4737" stop-color="#f24c4c"/><stop offset="0.4825" stop-color="#f14242"/><stop offset="0.4912" stop-color="#f13939"/><stop offset="0.5000" stop-color="#f03434"/><stop offset="0.5088" stop-color="#f03131"/><stop offset="0.5175" stop-color="#f03030"/><stop offset="0.5263" stop-color="#f03232"/><stop offset="0.5351" stop-color="#f13737"/><stop offset="0.5439" stop-color="#f13f3f"/><stop offset="0.5526" stop-color="#f24949"/><stop offset="0.5614" stop-color="#f35555"/><stop offset="0.5702" stop-color="#f46363"/><stop offset="0.5789" stop-color="#f57474"/><stop offset="0.5877" stop-color="#f68686"/><stop offset="0.5965" stop-color="#f89a9a"/><stop offset="0.6053" stop-color="#f9afaf"/><stop offset="0.6140" stop-color="#fbc5c5"/><stop offset="0.6228" stop-color="#fcdcdc"/><stop offset="0.6316" stop-color="#fef3f3"/><stop offset="0.6404" stop-color="#f3f3fe"/><stop offset="0.6491" stop-color="#dcdcfc"/><stop offset="0.6579" stop-color="#c6c6fa"/><stop offset="0.6667" stop-color="#b0b0f8"/><stop offset="0.6754" stop-color="#9c9cf6"/><stop offset="0.6842" stop-color="#8888f4"/><stop offset="0.6930" stop-color="#7676f2"/><stop offset="0.7018" stop-color="#6666f1"/><stop offset="0.7105" stop-color="#5858ef"/><stop offset="0.7193" stop-color="#4c4cee"/><stop offset="0.7281" stop-color="#4242ed"/><stop offset="0.7368" stop-color="#3b3bed"/><stop offset="0.7456" stop-color="#3636ec"/><stop offset="0.7544" stop-color="#3434ec"/><stop offset="0.7632" stop-color="#3535ec"/><stop offset="0.7719" stop-color="#3838ec"/><stop offset="0.7807" stop-color="#3d3ded"/><stop offset="0.7895" stop-color="#4545ee"/><stop offset="0.7982" stop-color="#5050ef"/><stop offset="0.8070" stop-color="#5d5df0"/><stop offset="0.8158" stop-color="#6b6bf1"/><stop offset="0.8246" stop-color="#7c7cf3"/><stop offset="0.8333" stop-color="#8f8ff4"/><stop offset="0.8421" stop-color="#a3a3f6"/><stop offset="0.8509" stop-color="#b8b8f8"/><stop offset="0.8596" stop-color="#cecefa"/><stop offset="0.8684" stop-color="#e4e4fc"/><stop offset="0.8772" stop-color="#fbfbff"/><stop offset="0.8860" stop-color="#feebeb"/><stop offset="0.8947" stop-color="#fcd4d4"/><stop offset="0.9035" stop-color="#fabebe"/><stop offset="0.9123" stop-color="#f9a8a8"/><stop offset="0.9211" stop-color="#f79393"/><stop offset="0.9298" stop-color="#f68080"/><stop offset="0.9386" stop-color="#f46e6e"/><stop offset="0.9474" stop-color="#f35e5e"/><stop offset="0.9561" stop-color="#f25050"/><stop offset="0.9649" stop-color="#f24545"/><stop offset="0.9737" stop-color="#f13c3c"/><stop offset="0.9825" stop-color="#f03535"/><stop offset="0.9912" stop-color="#f03131"/><stop offset="1.0000" stop-color="#f03030"/></linearGradient><linearGradient id="ges" gradientUnits="userSpaceOnUse" x1="347.4" y1="0" x2="574.0" y2="0"><stop offset="0.0000" stop-color="#4848ee"/><stop offset="0.0044" stop-color="#3939ed"/><stop offset="0.0088" stop-color="#3434ec"/><stop offset="0.0132" stop-color="#3838ec"/><stop offset="0.0176" stop-color="#4444ee"/><stop offset="0.0220" stop-color="#5959f0"/><stop offset="0.0264" stop-color="#7878f2"/><stop offset="0.0308" stop-color="#a0a0f6"/><stop offset="0.0352" stop-color="#d9d9fb"/><stop offset="0.0396" stop-color="#fbc6c6"/><stop offset="0.0441" stop-color="#f79292"/><stop offset="0.0485" stop-color="#f46c6c"/><stop offset="0.0529" stop-color="#f24f4f"/><stop offset="0.0573" stop-color="#f13c3c"/><stop offset="0.0617" stop-color="#f03232"/><stop offset="0.0661" stop-color="#f03131"/><stop offset="0.0705" stop-color="#f13939"/><stop offset="0.0749" stop-color="#f24a4a"/><stop offset="0.0793" stop-color="#f46464"/><stop offset="0.0837" stop-color="#f68888"/><stop offset="0.0881" stop-color="#fab7b7"/><stop offset="0.0925" stop-color="#eeeefd"/><stop offset="0.0969" stop-color="#adadf7"/><stop offset="0.1013" stop-color="#8181f3"/><stop offset="0.1057" stop-color="#6060f0"/><stop offset="0.1101" stop-color="#4949ee"/><stop offset="0.1145" stop-color="#3a3aed"/><stop offset="0.1189" stop-color="#3434ec"/><stop offset="0.1233" stop-color="#3737ec"/><stop offset="0.1278" stop-color="#4343ed"/><stop offset="0.1322" stop-color="#5858ef"/><stop offset="0.1366" stop-color="#7676f2"/><stop offset="0.1410" stop-color="#9e9ef6"/><stop offset="0.1454" stop-color="#d6d6fb"/><stop offset="0.1498" stop-color="#fbc9c9"/><stop offset="0.1542" stop-color="#f79494"/><stop offset="0.1586" stop-color="#f46d6d"/><stop offset="0.1630" stop-color="#f25050"/><stop offset="0.1674" stop-color="#f13d3d"/><stop offset="0.1718" stop-color="#f03232"/><stop offset="0.1762" stop-color="#f03030"/><stop offset="0.1806" stop-color="#f13838"/><stop offset="0.1850" stop-color="#f24949"/><stop offset="0.1894" stop-color="#f46262"/><stop offset="0.1938" stop-color="#f68686"/><stop offset="0.1982" stop-color="#fab5b5"/><stop offset="0.2026" stop-color="#f3f3fe"/><stop offset="0.2070" stop-color="#afaff8"/><stop offset="0.2115" stop-color="#8383f3"/><stop offset="0.2159" stop-color="#6161f0"/><stop offset="0.2203" stop-color="#4949ee"/><stop offset="0.2247" stop-color="#3a3aed"/><stop offset="0.2291" stop-color="#3434ec"/><stop offset="0.2335" stop-color="#3737ec"/><stop offset="0.2379" stop-color="#4343ed"/><stop offset="0.2423" stop-color="#5757ef"/><stop offset="0.2467" stop-color="#7575f2"/><stop offset="0.2511" stop-color="#9c9cf6"/><stop offset="0.2555" stop-color="#d3d3fb"/><stop offset="0.2599" stop-color="#fbcccc"/><stop offset="0.2643" stop-color="#f79696"/><stop offset="0.2687" stop-color="#f56f6f"/><stop offset="0.2731" stop-color="#f25252"/><stop offset="0.2775" stop-color="#f13d3d"/><stop offset="0.2819" stop-color="#f03232"/><stop offset="0.2863" stop-color="#f03030"/><stop offset="0.2907" stop-color="#f13838"/><stop offset="0.2952" stop-color="#f24848"/><stop offset="0.2996" stop-color="#f46161"/><stop offset="0.3040" stop-color="#f68484"/><stop offset="0.3084" stop-color="#f9b2b2"/><stop offset="0.3128" stop-color="#f9f9fe"/><stop offset="0.3172" stop-color="#b1b1f8"/><stop offset="0.3216" stop-color="#8484f4"/><stop offset="0.3260" stop-color="#6363f0"/><stop offset="0.3304" stop-color="#4a4aee"/><stop offset="0.3348" stop-color="#3b3bed"/><stop offset="0.3392" stop-color="#3434ec"/><stop offset="0.3436" stop-color="#3737ec"/><stop offset="0.3480" stop-color="#4242ed"/><stop offset="0.3524" stop-color="#5656ef"/><stop offset="0.3568" stop-color="#7373f2"/><stop offset="0.3612" stop-color="#9a9af6"/><stop offset="0.3656" stop-color="#d0d0fb"/><stop offset="0.3700" stop-color="#fbcece"/><stop offset="0.3744" stop-color="#f89898"/><stop offset="0.3789" stop-color="#f57070"/><stop offset="0.3833" stop-color="#f35353"/><stop offset="0.3877" stop-color="#f13e3e"/><stop offset="0.3921" stop-color="#f03333"/><stop offset="0.3965" stop-color="#f03030"/><stop offset="0.4009" stop-color="#f13737"/><stop offset="0.4053" stop-color="#f24747"/><stop offset="0.4097" stop-color="#f36060"/><stop offset="0.4141" stop-color="#f68282"/><stop offset="0.4185" stop-color="#f9b0b0"/><stop offset="0.4229" stop-color="#fffafa"/><stop offset="0.4273" stop-color="#b3b3f8"/><stop offset="0.4317" stop-color="#8686f4"/><stop offset="0.4361" stop-color="#6464f0"/><stop offset="0.4405" stop-color="#4b4bee"/><stop offset="0.4449" stop-color="#3b3bed"/><stop offset="0.4493" stop-color="#3434ec"/><stop offset="0.4537" stop-color="#3636ec"/><stop offset="0.4581" stop-color="#4141ed"/><stop offset="0.4626" stop-color="#5555ef"/><stop offset="0.4670" stop-color="#7272f2"/><stop offset="0.4714" stop-color="#9898f5"/><stop offset="0.4758" stop-color="#cdcdfa"/><stop offset="0.4802" stop-color="#fcd1d1"/><stop offset="0.4846" stop-color="#f89a9a"/><stop offset="0.4890" stop-color="#f57272"/><stop offset="0.4934" stop-color="#f35454"/><stop offset="0.4978" stop-color="#f13f3f"/><stop offset="0.5022" stop-color="#f03333"/><stop offset="0.5066" stop-color="#f03030"/><stop offset="0.5110" stop-color="#f03737"/><stop offset="0.5154" stop-color="#f24646"/><stop offset="0.5198" stop-color="#f35f5f"/><stop offset="0.5242" stop-color="#f68080"/><stop offset="0.5286" stop-color="#f9aeae"/><stop offset="0.5330" stop-color="#fef4f4"/><stop offset="0.5374" stop-color="#b6b6f8"/><stop offset="0.5419" stop-color="#8888f4"/><stop offset="0.5463" stop-color="#6565f1"/><stop offset="0.5507" stop-color="#4c4cee"/><stop offset="0.5551" stop-color="#3c3ced"/><stop offset="0.5595" stop-color="#3434ec"/><stop offset="0.5639" stop-color="#3636ec"/><stop offset="0.5683" stop-color="#4141ed"/><stop offset="0.5727" stop-color="#5454ef"/><stop offset="0.5771" stop-color="#7070f2"/><stop offset="0.5815" stop-color="#9696f5"/><stop offset="0.5859" stop-color="#cacafa"/><stop offset="0.5903" stop-color="#fcd5d5"/><stop offset="0.5947" stop-color="#f89c9c"/><stop offset="0.5991" stop-color="#f57373"/><stop offset="0.6035" stop-color="#f35555"/><stop offset="0.6079" stop-color="#f14040"/><stop offset="0.6123" stop-color="#f03333"/><stop offset="0.6167" stop-color="#f03030"/><stop offset="0.6211" stop-color="#f03636"/><stop offset="0.6256" stop-color="#f24545"/><stop offset="0.6300" stop-color="#f35d5d"/><stop offset="0.6344" stop-color="#f67f7f"/><stop offset="0.6388" stop-color="#f9abab"/><stop offset="0.6432" stop-color="#feefef"/><stop offset="0.6476" stop-color="#b8b8f8"/><stop offset="0.6520" stop-color="#8a8af4"/><stop offset="0.6564" stop-color="#6767f1"/><stop offset="0.6608" stop-color="#4d4dee"/><stop offset="0.6652" stop-color="#3c3ced"/><stop offset="0.6696" stop-color="#3535ec"/><stop offset="0.6740" stop-color="#3636ec"/><stop offset="0.6784" stop-color="#4040ed"/><stop offset="0.6828" stop-color="#5353ef"/><stop offset="0.6872" stop-color="#6f6ff2"/><stop offset="0.6916" stop-color="#9595f5"/><stop offset="0.6960" stop-color="#c7c7fa"/><stop offset="0.7004" stop-color="#fcd8d8"/><stop offset="0.7048" stop-color="#f89e9e"/><stop offset="0.7093" stop-color="#f57575"/><stop offset="0.7137" stop-color="#f35656"/><stop offset="0.7181" stop-color="#f14040"/><stop offset="0.7225" stop-color="#f03434"/><stop offset="0.7269" stop-color="#f03030"/><stop offset="0.7313" stop-color="#f03636"/><stop offset="0.7357" stop-color="#f14444"/><stop offset="0.7401" stop-color="#f35c5c"/><stop offset="0.7445" stop-color="#f67d7d"/><stop offset="0.7489" stop-color="#f9a9a9"/><stop offset="0.7533" stop-color="#fdeaea"/><stop offset="0.7577" stop-color="#bbbbf9"/><stop offset="0.7621" stop-color="#8b8bf4"/><stop offset="0.7665" stop-color="#6868f1"/><stop offset="0.7709" stop-color="#4e4eee"/><stop offset="0.7753" stop-color="#3d3ded"/><stop offset="0.7797" stop-color="#3535ec"/><stop offset="0.7841" stop-color="#3636ec"/><stop offset="0.7885" stop-color="#3f3fed"/><stop offset="0.7930" stop-color="#5252ef"/><stop offset="0.7974" stop-color="#6d6df1"/><stop offset="0.8018" stop-color="#9393f5"/><stop offset="0.8062" stop-color="#c5c5fa"/><stop offset="0.8106" stop-color="#fcdbdb"/><stop offset="0.8150" stop-color="#f8a0a0"/><stop offset="0.8194" stop-color="#f57777"/><stop offset="0.8238" stop-color="#f35757"/><stop offset="0.8282" stop-color="#f14141"/><stop offset="0.8326" stop-color="#f03434"/><stop offset="0.8370" stop-color="#f03030"/><stop offset="0.8414" stop-color="#f03535"/><stop offset="0.8458" stop-color="#f14343"/><stop offset="0.8502" stop-color="#f35b5b"/><stop offset="0.8546" stop-color="#f57b7b"/><stop offset="0.8590" stop-color="#f9a7a7"/><stop offset="0.8634" stop-color="#fde6e6"/><stop offset="0.8678" stop-color="#bdbdf9"/><stop offset="0.8722" stop-color="#8d8df4"/><stop offset="0.8767" stop-color="#6969f1"/><stop offset="0.8811" stop-color="#4f4fef"/><stop offset="0.8855" stop-color="#3d3ded"/><stop offset="0.8899" stop-color="#3535ec"/><stop offset="0.8943" stop-color="#3535ec"/><stop offset="0.8987" stop-color="#3f3fed"/><stop offset="0.9031" stop-color="#5151ef"/><stop offset="0.9075" stop-color="#6c6cf1"/><stop offset="0.9119" stop-color="#9191f5"/><stop offset="0.9163" stop-color="#c2c2f9"/><stop offset="0.9207" stop-color="#fddfdf"/><stop offset="0.9251" stop-color="#f8a3a3"/><stop offset="0.9295" stop-color="#f57878"/><stop offset="0.9339" stop-color="#f35858"/><stop offset="0.9383" stop-color="#f14242"/><stop offset="0.9427" stop-color="#f03434"/><stop offset="0.9471" stop-color="#f03030"/><stop offset="0.9515" stop-color="#f03535"/><stop offset="0.9559" stop-color="#f14343"/><stop offset="0.9604" stop-color="#f35a5a"/><stop offset="0.9648" stop-color="#f57a7a"/><stop offset="0.9692" stop-color="#f8a5a5"/><stop offset="0.9736" stop-color="#fde2e2"/><stop offset="0.9780" stop-color="#c0c0f9"/><stop offset="0.9824" stop-color="#8f8ff5"/><stop offset="0.9868" stop-color="#6b6bf1"/><stop offset="0.9912" stop-color="#5050ef"/><stop offset="0.9956" stop-color="#3e3eed"/><stop offset="1.0000" stop-color="#3535ec"/></linearGradient><linearGradient id="mebg" gradientUnits="userSpaceOnUse" x1="0" y1="534.8" x2="0" y2="598.3"><stop offset="0.0000" stop-color="#fff" stop-opacity="0.0"/><stop offset="0.1134" stop-color="#fff" stop-opacity="0.1"/><stop offset="0.2394" stop-color="#fff" stop-opacity="0.45"/><stop offset="0.3654" stop-color="#fff" stop-opacity="0.62"/><stop offset="0.6803" stop-color="#fff" stop-opacity="0.6"/><stop offset="0.8378" stop-color="#fff" stop-opacity="0.42"/><stop offset="0.9323" stop-color="#fff" stop-opacity="0.25"/><stop offset="1.0000" stop-color="#fff" stop-opacity="0.1"/></linearGradient><mask id="meb" maskUnits="userSpaceOnUse" x="0" y="534.8" width="685" height="63.5"><rect x="0" y="534.8" width="685" height="63.5" fill="url(#mebg)"/></mask><linearGradient id="mesg" gradientUnits="userSpaceOnUse" x1="0" y1="534.8" x2="0" y2="556"><stop offset="0.0000" stop-color="#fff" stop-opacity="1.0"/><stop offset="0.1981" stop-color="#fff" stop-opacity="0.95"/><stop offset="0.3868" stop-color="#fff" stop-opacity="0.7"/><stop offset="0.5755" stop-color="#fff" stop-opacity="0.35"/><stop offset="0.7642" stop-color="#fff" stop-opacity="0.1"/><stop offset="1.0000" stop-color="#fff" stop-opacity="0.0"/></linearGradient><mask id="mes" maskUnits="userSpaceOnUse" x="0" y="534.8" width="685" height="21.200000000000045"><rect x="0" y="534.8" width="685" height="21.200000000000045" fill="url(#mesg)"/></mask><linearGradient id="gf" gradientUnits="userSpaceOnUse" x1="347.4" y1="0" x2="574.0" y2="0"><stop offset="0.0000" stop-color="#f03636"/><stop offset="0.0031" stop-color="#f03232"/><stop offset="0.0062" stop-color="#f03030"/><stop offset="0.0093" stop-color="#f03131"/><stop offset="0.0123" stop-color="#f03434"/><stop offset="0.0154" stop-color="#f13939"/><stop offset="0.0185" stop-color="#f14141"/><stop offset="0.0216" stop-color="#f24c4c"/><stop offset="0.0247" stop-color="#f35a5a"/><stop offset="0.0278" stop-color="#f46b6b"/><stop offset="0.0309" stop-color="#f68282"/><stop offset="0.0340" stop-color="#f8a2a2"/><stop offset="0.0370" stop-color="#fde8e8"/><stop offset="0.0401" stop-color="#a8a8f7"/><stop offset="0.0432" stop-color="#8787f4"/><stop offset="0.0463" stop-color="#7070f2"/><stop offset="0.0494" stop-color="#5e5ef0"/><stop offset="0.0525" stop-color="#5050ef"/><stop offset="0.0556" stop-color="#4646ee"/><stop offset="0.0586" stop-color="#3d3ded"/><stop offset="0.0617" stop-color="#3838ec"/><stop offset="0.0648" stop-color="#3535ec"/><stop offset="0.0679" stop-color="#3434ec"/><stop offset="0.0710" stop-color="#3636ec"/><stop offset="0.0741" stop-color="#3a3aed"/><stop offset="0.0772" stop-color="#4040ed"/><stop offset="0.0802" stop-color="#4949ee"/><stop offset="0.0833" stop-color="#5555ef"/><stop offset="0.0864" stop-color="#6565f1"/><stop offset="0.0895" stop-color="#7878f2"/><stop offset="0.0926" stop-color="#9292f5"/><stop offset="0.0957" stop-color="#babaf9"/><stop offset="0.0988" stop-color="#fac0c0"/><stop offset="0.1019" stop-color="#f79494"/><stop offset="0.1049" stop-color="#f57979"/><stop offset="0.1080" stop-color="#f46464"/><stop offset="0.1111" stop-color="#f35454"/><stop offset="0.1142" stop-color="#f24747"/><stop offset="0.1173" stop-color="#f13e3e"/><stop offset="0.1204" stop-color="#f03737"/><stop offset="0.1235" stop-color="#f03232"/><stop offset="0.1265" stop-color="#f03030"/><stop offset="0.1296" stop-color="#f03131"/><stop offset="0.1327" stop-color="#f03333"/><stop offset="0.1358" stop-color="#f13939"/><stop offset="0.1389" stop-color="#f14141"/><stop offset="0.1420" stop-color="#f24b4b"/><stop offset="0.1451" stop-color="#f35959"/><stop offset="0.1481" stop-color="#f46b6b"/><stop offset="0.1512" stop-color="#f68282"/><stop offset="0.1543" stop-color="#f8a1a1"/><stop offset="0.1574" stop-color="#fde2e2"/><stop offset="0.1605" stop-color="#a9a9f7"/><stop offset="0.1636" stop-color="#8888f4"/><stop offset="0.1667" stop-color="#7171f2"/><stop offset="0.1698" stop-color="#5f5ff0"/><stop offset="0.1728" stop-color="#5151ef"/><stop offset="0.1759" stop-color="#4646ee"/><stop offset="0.1790" stop-color="#3e3eed"/><stop offset="0.1821" stop-color="#3838ec"/><stop offset="0.1852" stop-color="#3535ec"/><stop offset="0.1883" stop-color="#3434ec"/><stop offset="0.1914" stop-color="#3636ec"/><stop offset="0.1944" stop-color="#3a3aed"/><stop offset="0.1975" stop-color="#4040ed"/><stop offset="0.2006" stop-color="#4949ee"/><stop offset="0.2037" stop-color="#5555ef"/><stop offset="0.2068" stop-color="#6464f1"/><stop offset="0.2099" stop-color="#7878f2"/><stop offset="0.2130" stop-color="#9191f5"/><stop offset="0.2160" stop-color="#b8b8f8"/><stop offset="0.2191" stop-color="#fbc3c3"/><stop offset="0.2222" stop-color="#f79595"/><stop offset="0.2253" stop-color="#f57a7a"/><stop offset="0.2284" stop-color="#f46565"/><stop offset="0.2315" stop-color="#f35454"/><stop offset="0.2346" stop-color="#f24848"/><stop offset="0.2377" stop-color="#f13e3e"/><stop offset="0.2407" stop-color="#f03737"/><stop offset="0.2438" stop-color="#f03232"/><stop offset="0.2469" stop-color="#f03030"/><stop offset="0.2500" stop-color="#f03030"/><stop offset="0.2531" stop-color="#f03333"/><stop offset="0.2562" stop-color="#f13939"/><stop offset="0.2593" stop-color="#f14040"/><stop offset="0.2623" stop-color="#f24b4b"/><stop offset="0.2654" stop-color="#f35959"/><stop offset="0.2685" stop-color="#f46a6a"/><stop offset="0.2716" stop-color="#f68181"/><stop offset="0.2747" stop-color="#f8a0a0"/><stop offset="0.2778" stop-color="#fddddd"/><stop offset="0.2809" stop-color="#ababf7"/><stop offset="0.2840" stop-color="#8989f4"/><stop offset="0.2870" stop-color="#7272f2"/><stop offset="0.2901" stop-color="#5f5ff0"/><stop offset="0.2932" stop-color="#5151ef"/><stop offset="0.2963" stop-color="#4646ee"/><stop offset="0.2994" stop-color="#3e3eed"/><stop offset="0.3025" stop-color="#3838ec"/><stop offset="0.3056" stop-color="#3535ec"/><stop offset="0.3086" stop-color="#3434ec"/><stop offset="0.3117" stop-color="#3636ec"/><stop offset="0.3148" stop-color="#3939ed"/><stop offset="0.3179" stop-color="#4040ed"/><stop offset="0.3210" stop-color="#4949ee"/><stop offset="0.3241" stop-color="#5555ef"/><stop offset="0.3272" stop-color="#6464f0"/><stop offset="0.3302" stop-color="#7777f2"/><stop offset="0.3333" stop-color="#9090f5"/><stop offset="0.3364" stop-color="#b6b6f8"/><stop offset="0.3395" stop-color="#fbc5c5"/><stop offset="0.3426" stop-color="#f79797"/><stop offset="0.3457" stop-color="#f57a7a"/><stop offset="0.3488" stop-color="#f46565"/><stop offset="0.3519" stop-color="#f35555"/><stop offset="0.3549" stop-color="#f24848"/><stop offset="0.3580" stop-color="#f13e3e"/><stop offset="0.3611" stop-color="#f13737"/><stop offset="0.3642" stop-color="#f03232"/><stop offset="0.3673" stop-color="#f03030"/><stop offset="0.3704" stop-color="#f03030"/><stop offset="0.3735" stop-color="#f03333"/><stop offset="0.3765" stop-color="#f13838"/><stop offset="0.3796" stop-color="#f14040"/><stop offset="0.3827" stop-color="#f24b4b"/><stop offset="0.3858" stop-color="#f35858"/><stop offset="0.3889" stop-color="#f46969"/><stop offset="0.3920" stop-color="#f68080"/><stop offset="0.3951" stop-color="#f89e9e"/><stop offset="0.3981" stop-color="#fcd8d8"/><stop offset="0.4012" stop-color="#acacf7"/><stop offset="0.4043" stop-color="#8a8af4"/><stop offset="0.4074" stop-color="#7272f2"/><stop offset="0.4105" stop-color="#6060f0"/><stop offset="0.4136" stop-color="#5252ef"/><stop offset="0.4167" stop-color="#4747ee"/><stop offset="0.4198" stop-color="#3e3eed"/><stop offset="0.4228" stop-color="#3838ec"/><stop offset="0.4259" stop-color="#3535ec"/><stop offset="0.4290" stop-color="#3434ec"/><stop offset="0.4321" stop-color="#3535ec"/><stop offset="0.4352" stop-color="#3939ec"/><stop offset="0.4383" stop-color="#3f3fed"/><stop offset="0.4414" stop-color="#4848ee"/><stop offset="0.4444" stop-color="#5454ef"/><stop offset="0.4475" stop-color="#6363f0"/><stop offset="0.4506" stop-color="#7676f2"/><stop offset="0.4537" stop-color="#8f8ff5"/><stop offset="0.4568" stop-color="#b5b5f8"/><stop offset="0.4599" stop-color="#fbc8c8"/><stop offset="0.4630" stop-color="#f89898"/><stop offset="0.4660" stop-color="#f57b7b"/><stop offset="0.4691" stop-color="#f46666"/><stop offset="0.4722" stop-color="#f35555"/><stop offset="0.4753" stop-color="#f24848"/><stop offset="0.4784" stop-color="#f13e3e"/><stop offset="0.4815" stop-color="#f13737"/><stop offset="0.4846" stop-color="#f03232"/><stop offset="0.4877" stop-color="#f03030"/><stop offset="0.4907" stop-color="#f03030"/><stop offset="0.4938" stop-color="#f03333"/><stop offset="0.4969" stop-color="#f13838"/><stop offset="0.5000" stop-color="#f14040"/><stop offset="0.5031" stop-color="#f24a4a"/><stop offset="0.5062" stop-color="#f35858"/><stop offset="0.5093" stop-color="#f46969"/><stop offset="0.5123" stop-color="#f67f7f"/><stop offset="0.5154" stop-color="#f89d9d"/><stop offset="0.5185" stop-color="#fcd5d5"/><stop offset="0.5216" stop-color="#aeaef7"/><stop offset="0.5247" stop-color="#8b8bf4"/><stop offset="0.5278" stop-color="#7373f2"/><stop offset="0.5309" stop-color="#6161f0"/><stop offset="0.5340" stop-color="#5252ef"/><stop offset="0.5370" stop-color="#4747ee"/><stop offset="0.5401" stop-color="#3e3eed"/><stop offset="0.5432" stop-color="#3838ec"/><stop offset="0.5463" stop-color="#3535ec"/><stop offset="0.5494" stop-color="#3434ec"/><stop offset="0.5525" stop-color="#3535ec"/><stop offset="0.5556" stop-color="#3939ec"/><stop offset="0.5586" stop-color="#3f3fed"/><stop offset="0.5617" stop-color="#4848ee"/><stop offset="0.5648" stop-color="#5454ef"/><stop offset="0.5679" stop-color="#6262f0"/><stop offset="0.5710" stop-color="#7575f2"/><stop offset="0.5741" stop-color="#8e8ef4"/><stop offset="0.5772" stop-color="#b3b3f8"/><stop offset="0.5802" stop-color="#fbcaca"/><stop offset="0.5833" stop-color="#f89999"/><stop offset="0.5864" stop-color="#f67c7c"/><stop offset="0.5895" stop-color="#f46767"/><stop offset="0.5926" stop-color="#f35656"/><stop offset="0.5957" stop-color="#f24949"/><stop offset="0.5988" stop-color="#f13f3f"/><stop offset="0.6019" stop-color="#f13737"/><stop offset="0.6049" stop-color="#f03333"/><stop offset="0.6080" stop-color="#f03030"/><stop offset="0.6111" stop-color="#f03030"/><stop offset="0.6142" stop-color="#f03333"/><stop offset="0.6173" stop-color="#f13838"/><stop offset="0.6204" stop-color="#f13f3f"/><stop offset="0.6235" stop-color="#f24a4a"/><stop offset="0.6265" stop-color="#f35757"/><stop offset="0.6296" stop-color="#f46868"/><stop offset="0.6327" stop-color="#f67e7e"/><stop offset="0.6358" stop-color="#f89c9c"/><stop offset="0.6389" stop-color="#fcd1d1"/><stop offset="0.6420" stop-color="#afaff8"/><stop offset="0.6451" stop-color="#8c8cf4"/><stop offset="0.6481" stop-color="#7474f2"/><stop offset="0.6512" stop-color="#6161f0"/><stop offset="0.6543" stop-color="#5353ef"/><stop offset="0.6574" stop-color="#4747ee"/><stop offset="0.6605" stop-color="#3f3fed"/><stop offset="0.6636" stop-color="#3939ec"/><stop offset="0.6667" stop-color="#3535ec"/><stop offset="0.6698" stop-color="#3434ec"/><stop offset="0.6728" stop-color="#3535ec"/><stop offset="0.6759" stop-color="#3939ec"/><stop offset="0.6790" stop-color="#3f3fed"/><stop offset="0.6821" stop-color="#4848ee"/><stop offset="0.6852" stop-color="#5353ef"/><stop offset="0.6883" stop-color="#6262f0"/><stop offset="0.6914" stop-color="#7575f2"/><stop offset="0.6944" stop-color="#8d8df4"/><stop offset="0.6975" stop-color="#b1b1f8"/><stop offset="0.7006" stop-color="#fbcdcd"/><stop offset="0.7037" stop-color="#f89a9a"/><stop offset="0.7068" stop-color="#f67d7d"/><stop offset="0.7099" stop-color="#f46767"/><stop offset="0.7130" stop-color="#f35656"/><stop offset="0.7160" stop-color="#f24949"/><stop offset="0.7191" stop-color="#f13f3f"/><stop offset="0.7222" stop-color="#f13838"/><stop offset="0.7253" stop-color="#f03333"/><stop offset="0.7284" stop-color="#f03030"/><stop offset="0.7315" stop-color="#f03030"/><stop offset="0.7346" stop-color="#f03333"/><stop offset="0.7377" stop-color="#f13838"/><stop offset="0.7407" stop-color="#f13f3f"/><stop offset="0.7438" stop-color="#f24949"/><stop offset="0.7469" stop-color="#f35757"/><stop offset="0.7500" stop-color="#f46767"/><stop offset="0.7531" stop-color="#f67d7d"/><stop offset="0.7562" stop-color="#f89b9b"/><stop offset="0.7593" stop-color="#fbcece"/><stop offset="0.7623" stop-color="#b1b1f8"/><stop offset="0.7654" stop-color="#8d8df4"/><stop offset="0.7685" stop-color="#7474f2"/><stop offset="0.7716" stop-color="#6262f0"/><stop offset="0.7747" stop-color="#5353ef"/><stop offset="0.7778" stop-color="#4848ee"/><stop offset="0.7809" stop-color="#3f3fed"/><stop offset="0.7840" stop-color="#3939ec"/><stop offset="0.7870" stop-color="#3535ec"/><stop offset="0.7901" stop-color="#3434ec"/><stop offset="0.7932" stop-color="#3535ec"/><stop offset="0.7963" stop-color="#3939ec"/><stop offset="0.7994" stop-color="#3f3fed"/><stop offset="0.8025" stop-color="#4747ee"/><stop offset="0.8056" stop-color="#5353ef"/><stop offset="0.8086" stop-color="#6161f0"/><stop offset="0.8117" stop-color="#7474f2"/><stop offset="0.8148" stop-color="#8c8cf4"/><stop offset="0.8179" stop-color="#b0b0f8"/><stop offset="0.8210" stop-color="#fcd0d0"/><stop offset="0.8241" stop-color="#f89b9b"/><stop offset="0.8272" stop-color="#f67e7e"/><stop offset="0.8302" stop-color="#f46868"/><stop offset="0.8333" stop-color="#f35757"/><stop offset="0.8364" stop-color="#f24a4a"/><stop offset="0.8395" stop-color="#f13f3f"/><stop offset="0.8426" stop-color="#f13838"/><stop offset="0.8457" stop-color="#f03333"/><stop offset="0.8488" stop-color="#f03030"/><stop offset="0.8519" stop-color="#f03030"/><stop offset="0.8549" stop-color="#f03333"/><stop offset="0.8580" stop-color="#f13737"/><stop offset="0.8611" stop-color="#f13f3f"/><stop offset="0.8642" stop-color="#f24949"/><stop offset="0.8673" stop-color="#f35656"/><stop offset="0.8704" stop-color="#f46767"/><stop offset="0.8735" stop-color="#f67c7c"/><stop offset="0.8765" stop-color="#f89999"/><stop offset="0.8796" stop-color="#fbcbcb"/><stop offset="0.8827" stop-color="#b2b2f8"/><stop offset="0.8858" stop-color="#8e8ef4"/><stop offset="0.8889" stop-color="#7575f2"/><stop offset="0.8920" stop-color="#6262f0"/><stop offset="0.8951" stop-color="#5353ef"/><stop offset="0.8981" stop-color="#4848ee"/><stop offset="0.9012" stop-color="#3f3fed"/><stop offset="0.9043" stop-color="#3939ec"/><stop offset="0.9074" stop-color="#3535ec"/><stop offset="0.9105" stop-color="#3434ec"/><stop offset="0.9136" stop-color="#3535ec"/><stop offset="0.9167" stop-color="#3939ec"/><stop offset="0.9198" stop-color="#3e3eed"/><stop offset="0.9228" stop-color="#4747ee"/><stop offset="0.9259" stop-color="#5252ef"/><stop offset="0.9290" stop-color="#6161f0"/><stop offset="0.9321" stop-color="#7373f2"/><stop offset="0.9352" stop-color="#8b8bf4"/><stop offset="0.9383" stop-color="#aeaef7"/><stop offset="0.9414" stop-color="#fcd3d3"/><stop offset="0.9444" stop-color="#f89d9d"/><stop offset="0.9475" stop-color="#f67f7f"/><stop offset="0.9506" stop-color="#f46969"/><stop offset="0.9537" stop-color="#f35757"/><stop offset="0.9568" stop-color="#f24a4a"/><stop offset="0.9599" stop-color="#f14040"/><stop offset="0.9630" stop-color="#f13838"/><stop offset="0.9660" stop-color="#f03333"/><stop offset="0.9691" stop-color="#f03030"/><stop offset="0.9722" stop-color="#f03030"/><stop offset="0.9753" stop-color="#f03232"/><stop offset="0.9784" stop-color="#f13737"/><stop offset="0.9815" stop-color="#f13f3f"/><stop offset="0.9846" stop-color="#f24949"/><stop offset="0.9877" stop-color="#f35656"/><stop offset="0.9907" stop-color="#f46666"/><stop offset="0.9938" stop-color="#f57b7b"/><stop offset="0.9969" stop-color="#f89898"/><stop offset="1.0000" stop-color="#fbc8c8"/></linearGradient><linearGradient id="mfg" gradientUnits="userSpaceOnUse" x1="0" y1="632.0" x2="0" y2="680"><stop offset="0.0000" stop-color="#fff" stop-opacity="1.0"/><stop offset="0.2292" stop-color="#fff" stop-opacity="1.0"/><stop offset="0.3125" stop-color="#fff" stop-opacity="0.75"/><stop offset="0.4167" stop-color="#fff" stop-opacity="0.45"/><stop offset="0.5417" stop-color="#fff" stop-opacity="0.22"/><stop offset="0.6667" stop-color="#fff" stop-opacity="0.08"/><stop offset="0.8333" stop-color="#fff" stop-opacity="0.0"/><stop offset="1.0000" stop-color="#fff" stop-opacity="0.0"/></linearGradient><mask id="mf" maskUnits="userSpaceOnUse" x="0" y="632.0" width="685" height="48.0"><rect x="0" y="632.0" width="685" height="48.0" fill="url(#mfg)"/></mask></defs>
<path d="M347.4,436.5 L368.2,415.7 L594.8,415.7 L574.0,436.5 z" fill="#fde5a6"/>
<path d="M574.0,436.5 L594.8,415.7 L594.8,478.7 L574.0,499.5 z" fill="#c9b577"/>
<rect x="347.4" y="436.5" width="226.60000000000002" height="63" fill="url(#gd)" mask="url(#md)"/>
<path d="M347.4,534.8 L368.2,513.9 L594.8,513.9 L574.0,534.8 z" fill="#f8b562"/>
<path d="M574.0,534.8 L594.8,513.9 L594.8,577.5 L574.0,598.3 z" fill="#c9b577"/>
<path d="M574.0,534.8 L594.8,513.9 L594.8,519.4 L574.0,540.3 z" fill="#d4913c"/>
<rect x="347.4" y="534.8" width="226.60000000000002" height="63.5" fill="url(#geb)" mask="url(#meb)"/>
<rect x="347.4" y="534.8" width="226.60000000000002" height="21.2" fill="url(#ges)" mask="url(#mes)"/>
<path d="M347.4,632.0 L368.2,611.8 L594.8,611.8 L574.0,632.0 z" fill="#fd8768"/>
<path d="M574.0,632.0 L594.8,611.8 L594.8,675.7 L574.0,696.5 z" fill="#c9b577"/>
<path d="M574.0,632.0 L594.8,611.8 L594.8,624.8 L574.0,645.0 z" fill="#d2613f"/>
<rect x="347.4" y="632" width="226.60000000000002" height="64" fill="url(#gf)" mask="url(#mf)"/>
<path d="M356.2,439.7L357.7,439.7M359.2,439.7L357.7,440.5L357.7,438.9zM362.1,439.7L364.2,439.7M366.1,439.7L364.2,440.5L364.2,438.9zM368.2,439.7L371.0,439.7M372.9,439.7L371.0,440.5L371.0,438.9zM374.5,439.7L377.5,439.7M379.4,439.7L377.5,440.5L377.5,438.9zM381.1,439.7L383.8,439.7M385.7,439.7L383.8,440.5L383.8,438.9zM387.8,439.7L389.9,439.7M391.8,439.7L389.9,440.5L389.9,438.9zM394.7,439.7L396.2,439.7M397.8,439.7L396.2,440.5L396.2,438.9zM410.3,439.7L409.1,439.7M407.9,439.7L409.1,438.9L409.1,440.5zM417.3,439.7L415.5,439.7M413.7,439.7L415.5,438.9L415.5,440.5zM424.1,439.7L421.6,439.7M419.7,439.7L421.6,438.9L421.6,440.5zM430.8,439.7L427.8,439.7M425.9,439.7L427.8,438.9L427.8,440.5zM437.2,439.7L434.2,439.7M432.3,439.7L434.2,438.9L434.2,440.5zM443.4,439.7L440.9,439.7M439.0,439.7L440.9,438.9L440.9,440.5zM449.4,439.7L447.6,439.7M445.8,439.7L447.6,438.9L447.6,440.5zM455.2,439.7L454.0,439.7M452.8,439.7L454.0,438.9L454.0,440.5zM465.3,439.7L466.9,439.7M468.4,439.7L466.9,440.5L466.9,438.9zM471.2,439.7L473.4,439.7M475.3,439.7L473.4,440.5L473.4,438.9zM477.3,439.7L480.2,439.7M482.1,439.7L480.2,440.5L480.2,438.9zM483.7,439.7L486.7,439.7M488.6,439.7L486.7,440.5L486.7,438.9zM490.2,439.7L493.0,439.7M494.9,439.7L493.0,440.5L493.0,438.9zM497.0,439.7L499.0,439.7M500.9,439.7L499.0,440.5L499.0,438.9zM503.9,439.7L505.4,439.7M506.8,439.7L505.4,440.5L505.4,438.9zM519.5,439.7L518.2,439.7M516.9,439.7L518.2,438.9L518.2,440.5zM526.5,439.7L524.6,439.7M522.8,439.7L524.6,438.9L524.6,440.5zM533.3,439.7L530.7,439.7M528.8,439.7L530.7,438.9L530.7,440.5zM539.9,439.7L536.9,439.7M535.0,439.7L536.9,438.9L536.9,440.5zM546.3,439.7L543.4,439.7M541.5,439.7L543.4,438.9L543.4,440.5zM552.5,439.7L550.1,439.7M548.2,439.7L550.1,438.9L550.1,440.5zM558.4,439.7L556.7,439.7M555.0,439.7L556.7,438.9L556.7,440.5zM564.3,439.7L563.2,439.7M562.0,439.7L563.2,438.9L563.2,440.5zM351.1,448.0L351.3,446.1M351.5,444.2L352.1,446.2L350.5,446.0zM356.8,447.8L357.7,446.1M358.6,444.4L358.4,446.5L357.0,445.7zM362.6,447.4L364.2,446.1M365.7,444.8L364.7,446.7L363.7,445.4zM368.6,446.8L370.7,446.1M372.5,445.4L371.0,446.8L370.4,445.3zM374.9,446.1L377.2,446.1M379.1,446.1L377.2,446.9L377.1,445.3zM381.5,445.5L383.5,446.2M385.3,446.8L383.3,446.9L383.8,445.4zM388.3,444.9L389.9,446.2M391.4,447.4L389.4,446.8L390.4,445.6zM395.3,444.4L396.3,446.2M397.2,447.8L395.6,446.6L397.0,445.8zM402.5,444.2L402.7,446.2M402.9,448.0L401.9,446.2L403.5,446.1zM409.7,444.3L409.1,446.2M408.5,448.0L408.3,445.9L409.8,446.4zM416.8,444.6L415.4,446.2M414.2,447.6L414.8,445.7L416.1,446.7zM423.7,445.2L421.8,446.2M420.1,447.1L421.4,445.5L422.2,446.9zM430.4,445.8L428.2,446.2M426.3,446.5L428.0,445.4L428.3,446.9zM436.8,446.5L434.6,446.1M432.7,445.8L434.7,445.3L434.5,446.9zM442.9,447.1L441.1,446.1M439.4,445.1L441.5,445.4L440.7,446.8zM448.9,447.7L447.6,446.1M446.3,444.6L448.2,445.6L446.9,446.6zM454.6,448.0L454.0,446.1M453.5,444.3L454.8,445.9L453.2,446.3zM460.2,448.0L460.4,446.1M460.7,444.2L461.2,446.2L459.6,446.0zM465.9,447.8L466.9,446.1M467.9,444.4L467.6,446.5L466.2,445.7zM471.7,447.4L473.4,446.1M474.9,444.9L473.9,446.7L472.9,445.4zM477.7,446.8L479.8,446.1M481.7,445.5L480.1,446.8L479.6,445.3zM484.0,446.1L486.3,446.1M488.2,446.2L486.3,446.9L486.3,445.3zM490.6,445.4L492.7,446.2M494.5,446.9L492.4,446.9L493.0,445.4zM497.4,444.8L499.0,446.2M500.5,447.4L498.5,446.8L499.6,445.6zM504.5,444.4L505.4,446.2M506.3,447.9L504.7,446.5L506.1,445.8zM511.7,444.2L511.8,446.2M511.9,448.1L511.0,446.2L512.6,446.1zM518.9,444.3L518.2,446.2M517.5,448.0L517.5,445.9L519.0,446.4zM526.0,444.7L524.6,446.2M523.3,447.6L524.0,445.7L525.2,446.7zM532.9,445.2L530.9,446.2M529.2,447.0L530.6,445.5L531.3,446.9zM539.5,445.9L537.3,446.2M535.4,446.4L537.2,445.4L537.4,446.9zM545.9,446.6L543.7,446.1M541.9,445.7L543.9,445.3L543.6,446.9zM552.0,447.2L550.2,446.1M548.6,445.1L550.6,445.4L549.8,446.7zM557.9,447.7L556.7,446.1M555.5,444.6L557.3,445.6L556.1,446.6zM563.6,448.0L563.2,446.1M562.7,444.3L563.9,445.9L562.4,446.3zM569.3,448.0L569.6,446.1M569.9,444.2L570.4,446.2L568.8,446.0zM351.2,454.9L351.3,452.2M351.4,450.3L352.1,452.2L350.5,452.1zM357.1,454.7L357.8,452.3M358.3,450.4L358.6,452.5L357.0,452.0zM363.0,454.3L364.2,452.5M365.2,450.9L364.9,452.9L363.5,452.0zM369.1,453.5L370.6,452.6M372.1,451.6L371.0,453.2L370.1,451.9zM375.3,452.6L377.0,452.6M378.7,452.5L377.0,453.4L377.0,451.8zM381.9,451.6L383.4,452.6M384.9,453.5L383.0,453.2L383.8,451.9zM388.7,450.9L389.9,452.6M390.9,454.2L389.2,453.1L390.5,452.2zM395.6,450.5L396.3,452.9M396.9,454.7L395.6,453.1L397.1,452.6zM402.5,450.3L402.7,453.0M402.8,454.9L401.9,453.0L403.5,452.9zM409.5,450.3L409.0,452.9M408.7,454.8L408.2,452.8L409.8,453.1zM416.4,450.6L415.4,452.8M414.6,454.5L414.7,452.4L416.1,453.1zM423.3,451.2L421.9,452.6M420.6,453.9L421.4,452.0L422.5,453.1zM430.0,452.1L428.3,452.6M426.7,453.0L428.1,451.8L428.6,453.3zM436.4,453.1L434.8,452.6M433.1,452.0L435.0,451.8L434.5,453.3zM442.5,453.9L441.2,452.6M439.9,451.2L441.8,452.0L440.6,453.1zM448.5,454.5L447.5,452.4M446.7,450.6L448.2,452.0L446.8,452.7zM454.4,454.8L454.0,452.2M453.7,450.3L454.8,452.1L453.2,452.3zM460.3,454.9L460.5,452.2M460.6,450.3L461.3,452.2L459.7,452.1zM466.2,454.7L466.9,452.3M467.5,450.5L467.7,452.5L466.2,452.0zM472.1,454.2L473.3,452.5M474.4,450.9L474.0,452.9L472.7,452.0zM478.2,453.5L479.7,452.6M481.2,451.7L480.1,453.2L479.3,451.9zM484.4,452.5L486.1,452.6M487.8,452.6L486.1,453.4L486.2,451.8zM491.1,451.5L492.5,452.6M494.0,453.6L492.1,453.2L493.0,451.9zM497.9,450.8L499.0,452.7M500.0,454.3L498.3,453.1L499.7,452.2zM504.8,450.4L505.5,452.9M506.0,454.7L504.7,453.1L506.2,452.7zM511.7,450.3L511.8,453.0M511.9,454.9L511.0,453.0L512.6,452.9zM518.7,450.3L518.2,452.9M517.8,454.8L517.4,452.8L518.9,453.1zM525.6,450.7L524.6,452.7M523.7,454.4L523.8,452.4L525.3,453.1zM532.4,451.3L531.1,452.6M529.7,453.8L530.5,452.0L531.6,453.1zM539.1,452.2L537.5,452.6M535.8,452.9L537.3,451.8L537.7,453.3zM545.5,453.2L543.9,452.6M542.3,451.9L544.2,451.8L543.6,453.3zM551.6,454.0L550.3,452.5M549.0,451.1L550.9,452.0L549.7,453.1zM557.6,454.5L556.6,452.3M555.9,450.6L557.4,452.0L555.9,452.6zM563.5,454.8L563.1,452.2M562.8,450.3L563.9,452.1L562.3,452.3zM569.4,454.8L569.6,452.2M569.8,450.3L570.4,452.2L568.8,452.1zM351.2,461.4L351.3,458.4M351.4,456.5L352.1,458.5L350.5,458.4zM357.4,461.3L357.8,458.5M358.1,456.7L358.6,458.7L357.0,458.4zM363.5,460.9L364.2,458.9M364.8,457.1L364.9,459.1L363.4,458.6zM369.6,460.2L370.6,459.0M371.6,457.8L371.2,459.5L369.9,458.5zM375.7,459.0L377.0,459.0M378.3,459.0L377.0,459.8L377.0,458.2zM382.4,457.8L383.4,459.0M384.4,460.2L382.8,459.5L384.0,458.5zM389.1,457.1L389.9,459.1M390.5,460.9L389.1,459.4L390.6,458.8zM395.9,456.7L396.3,459.4M396.6,461.3L395.5,459.6L397.1,459.3zM402.6,456.5L402.7,459.5M402.7,461.4L401.9,459.6L403.5,459.5zM409.3,456.6L409.0,459.5M408.9,461.4L408.2,459.5L409.8,459.6zM416.0,456.9L415.4,459.3M415.0,461.1L414.7,459.1L416.2,459.5zM422.8,457.4L421.9,459.0M421.1,460.6L421.2,458.6L422.6,459.4zM429.6,458.3L428.3,459.0M427.1,459.7L428.0,458.3L428.7,459.7zM436.0,459.7L434.8,459.0M433.6,458.3L435.2,458.3L434.3,459.7zM442.0,460.6L441.2,459.0M440.4,457.4L441.9,458.6L440.5,459.4zM448.1,461.1L447.5,458.7M447.1,456.8L448.3,458.5L446.7,458.9zM454.2,461.4L454.0,458.4M453.8,456.5L454.8,458.4L453.2,458.5zM460.4,461.4L460.5,458.4M460.5,456.5L461.3,458.5L459.7,458.4zM466.5,461.3L466.9,458.6M467.2,456.7L467.7,458.7L466.1,458.4zM472.6,460.8L473.3,458.9M474.0,457.1L474.1,459.2L472.6,458.6zM478.7,460.1L479.7,459.0M480.7,457.8L480.3,459.5L479.1,458.5zM484.8,458.9L486.1,459.0M487.4,459.1L486.0,459.8L486.2,458.2zM491.6,457.7L492.5,459.0M493.5,460.3L491.9,459.5L493.2,458.5zM498.3,457.0L499.0,459.1M499.6,460.9L498.2,459.4L499.8,458.9zM505.0,456.6L505.4,459.5M505.7,461.3L504.7,459.6L506.2,459.3zM511.8,456.5L511.8,459.5M511.8,461.4L511.0,459.6L512.6,459.5zM518.5,456.6L518.2,459.5M518.0,461.4L517.4,459.4L519.0,459.6zM525.2,456.9L524.6,459.2M524.1,461.1L523.8,459.0L525.3,459.4zM531.9,457.5L531.1,459.0M530.2,460.5L530.4,458.6L531.8,459.4zM538.7,458.4L537.5,459.0M536.2,459.5L537.2,458.3L537.8,459.7zM545.1,459.8L543.9,459.0M542.7,458.1L544.4,458.3L543.4,459.6zM551.1,460.7L550.3,459.0M549.5,457.3L551.0,458.7L549.6,459.3zM557.2,461.2L556.7,458.7M556.3,456.8L557.4,458.5L555.9,458.8zM563.3,461.4L563.1,458.4M563.0,456.5L563.9,458.4L562.3,458.5zM569.5,461.4L569.6,458.4M569.7,456.5L570.4,458.5L568.8,458.4zM351.3,467.9L351.3,464.9M351.3,463.0L352.1,464.9L350.5,464.9zM357.6,467.8L357.7,464.9M357.8,463.0L358.5,464.9L356.9,464.9zM363.9,467.4L364.2,465.3M364.4,463.4L364.9,465.4L363.4,465.2zM370.2,466.8L370.6,465.4M370.9,464.0L371.3,465.6L369.8,465.2zM383.0,464.0L383.4,465.4M383.8,466.8L382.6,465.6L384.2,465.2zM389.6,463.4L389.8,465.5M390.0,467.4L389.0,465.6L390.6,465.4zM396.1,463.0L396.3,465.9M396.4,467.8L395.5,466.0L397.1,465.9zM402.6,463.0L402.7,466.0M402.7,467.9L401.9,466.0L403.5,466.0zM409.2,463.0L409.1,466.0M409.0,467.9L408.3,465.9L409.9,466.0zM415.7,463.2L415.5,465.8M415.3,467.6L414.7,465.7L416.3,465.8zM422.2,463.7L421.9,465.4M421.6,467.1L421.1,465.3L422.7,465.6zM428.9,464.4L428.3,465.4M427.8,466.4L427.6,465.0L429.0,465.8zM435.3,466.4L434.8,465.4M434.2,464.4L435.5,465.1L434.0,465.8zM441.5,467.2L441.2,465.4M440.9,463.7L442.0,465.3L440.4,465.5zM447.8,467.7L447.6,465.1M447.4,463.2L448.4,465.0L446.8,465.1zM454.1,467.9L454.0,464.9M454.0,463.0L454.8,464.8L453.2,464.9zM460.4,467.9L460.4,464.9M460.5,463.0L461.2,464.9L459.6,464.9zM466.7,467.8L466.9,464.9M467.0,463.0L467.7,465.0L466.1,464.9zM473.0,467.4L473.3,465.3M473.5,463.5L474.1,465.4L472.5,465.3zM479.3,466.8L479.7,465.4M480.1,464.1L480.5,465.6L478.9,465.2zM492.2,464.0L492.5,465.4M492.9,466.9L491.8,465.6L493.3,465.2zM498.7,463.4L499.0,465.6M499.2,467.5L498.2,465.7L499.8,465.5zM505.3,463.0L505.4,466.0M505.5,467.9L504.6,466.0L506.2,465.9zM511.8,463.0L511.8,466.0M511.8,467.9L511.0,466.0L512.6,466.0zM518.3,463.0L518.2,466.0M518.1,467.9L517.4,465.9L519.0,466.0zM524.8,463.2L524.6,465.7M524.5,467.6L523.8,465.6L525.4,465.8zM531.4,463.8L531.1,465.4M530.8,467.1L530.3,465.3L531.8,465.6zM544.4,466.5L543.9,465.4M543.4,464.3L544.6,465.1L543.2,465.7zM550.6,467.2L550.3,465.4M550.1,463.6L551.1,465.3L549.5,465.5zM556.9,467.7L556.7,465.0M556.6,463.1L557.5,465.0L555.9,465.1zM563.2,467.9L563.1,464.9M563.1,463.0L563.9,464.9L562.3,464.9zM569.5,467.9L569.6,464.9M569.6,463.0L570.4,464.9L568.8,464.9zM351.3,474.3L351.3,471.3M351.3,469.4L352.1,471.3L350.5,471.3zM357.8,474.3L357.7,471.3M357.6,469.4L358.5,471.3L356.9,471.4zM364.4,473.9L364.1,471.7M363.9,469.8L364.9,471.6L363.3,471.8zM370.9,473.3L370.6,471.8M370.2,470.4L371.3,471.7L369.8,472.0zM383.8,470.5L383.4,471.8M383.0,473.2L382.6,471.6L384.2,472.1zM390.0,469.9L389.8,472.0M389.6,473.8L389.0,471.9L390.6,472.0zM396.4,469.4L396.2,472.4M396.1,474.3L395.4,472.3L397.0,472.4zM402.7,469.4L402.7,472.4M402.6,474.3L401.9,472.4L403.5,472.4zM409.0,469.4L409.1,472.4M409.2,474.3L408.3,472.4L409.9,472.4zM415.3,469.6L415.5,472.2M415.7,474.1L414.7,472.2L416.3,472.1zM421.6,470.1L421.9,471.8M422.2,473.6L421.1,472.0L422.7,471.7zM434.2,472.9L434.8,471.8M435.3,470.8L435.5,472.2L434.0,471.5zM440.9,473.6L441.2,471.8M441.5,470.1L442.0,472.0L440.4,471.7zM447.4,474.1L447.6,471.5M447.8,469.6L448.4,471.6L446.8,471.4zM454.0,474.3L454.0,471.3M454.1,469.4L454.8,471.3L453.2,471.3zM460.5,474.3L460.4,471.3M460.4,469.4L461.2,471.3L459.6,471.3zM467.0,474.2L466.8,471.4M466.7,469.5L467.6,471.3L466.0,471.4zM473.5,473.8L473.3,471.8M473.1,469.9L474.1,471.7L472.5,471.9zM480.1,473.2L479.7,471.8M479.3,470.5L480.5,471.6L478.9,472.1zM492.9,470.4L492.5,471.8M492.2,473.3L491.8,471.7L493.3,472.0zM499.2,469.8L498.9,472.0M498.7,473.9L498.1,471.9L499.7,472.1zM505.5,469.4L505.4,472.4M505.3,474.3L504.6,472.4L506.2,472.4zM511.8,469.4L511.8,472.4M511.8,474.3L511.0,472.4L512.6,472.4zM518.1,469.4L518.2,472.4M518.3,474.3L517.4,472.4L519.0,472.4zM524.5,469.7L524.7,472.1M524.8,474.0L523.9,472.2L525.5,472.1zM530.8,470.2L531.1,471.8M531.4,473.5L530.3,472.0L531.8,471.7zM543.4,473.0L543.9,471.8M544.4,470.7L544.6,472.2L543.2,471.5zM550.1,473.6L550.3,471.8M550.6,470.1L551.1,472.0L549.5,471.7zM556.6,474.1L556.8,471.5M556.9,469.6L557.6,471.5L556.0,471.4zM563.1,474.3L563.2,471.3M563.2,469.4L564.0,471.3L562.4,471.3zM569.6,474.3L569.6,471.3M569.5,469.4L570.4,471.3L568.8,471.3zM351.4,480.7L351.3,477.7M351.2,475.8L352.1,477.7L350.5,477.7zM358.1,480.6L357.7,477.8M357.4,475.9L358.4,477.7L356.9,477.9zM364.8,480.2L364.1,478.2M363.5,476.4L364.9,477.9L363.3,478.4zM371.6,479.5L370.6,478.3M369.6,477.0L371.2,477.8L369.9,478.8zM378.3,478.3L377.0,478.3M375.7,478.2L377.0,477.5L377.0,479.1zM384.4,477.1L383.4,478.3M382.4,479.5L382.8,477.8L384.0,478.8zM390.5,476.4L389.8,478.4M389.1,480.2L389.0,478.1L390.5,478.6zM396.6,476.0L396.2,478.7M395.9,480.6L395.4,478.6L397.0,478.8zM402.7,475.8L402.6,478.8M402.6,480.7L401.8,478.8L403.4,478.9zM408.9,475.8L409.1,478.8M409.3,480.7L408.3,478.9L409.9,478.8zM415.0,476.1L415.6,478.6M416.0,480.4L414.8,478.8L416.3,478.4zM421.1,476.7L421.9,478.3M422.8,479.9L421.2,478.7L422.6,477.9zM427.1,477.6L428.3,478.3M429.6,479.0L428.0,479.0L428.7,477.6zM433.6,479.0L434.8,478.3M436.0,477.5L435.2,479.0L434.3,477.6zM440.4,479.9L441.2,478.3M442.0,476.7L441.9,478.6L440.5,477.9zM447.1,480.4L447.7,478.0M448.1,476.1L448.5,478.2L446.9,477.8zM453.8,480.7L454.1,477.7M454.2,475.8L454.9,477.8L453.3,477.7zM460.5,480.7L460.4,477.7M460.4,475.8L461.2,477.7L459.6,477.8zM467.2,480.6L466.8,477.9M466.5,476.0L467.6,477.7L466.0,478.0zM474.0,480.1L473.3,478.2M472.6,476.4L474.0,477.9L472.5,478.5zM480.7,479.4L479.7,478.3M478.7,477.1L480.3,477.7L479.1,478.8zM487.4,478.2L486.1,478.3M484.8,478.4L486.0,477.5L486.2,479.1zM493.5,477.0L492.5,478.3M491.6,479.6L491.9,477.8L493.2,478.8zM499.6,476.3L498.9,478.4M498.3,480.2L498.2,478.2L499.7,478.7zM505.7,475.9L505.3,478.7M505.0,480.6L504.5,478.6L506.1,478.9zM511.8,475.8L511.8,478.8M511.8,480.7L511.0,478.8L512.6,478.8zM518.0,475.9L518.3,478.8M518.5,480.7L517.5,478.9L519.1,478.7zM524.1,476.2L524.7,478.5M525.2,480.4L523.9,478.7L525.5,478.3zM530.2,476.8L531.1,478.3M531.9,479.8L530.4,478.7L531.8,477.9zM536.2,477.7L537.5,478.3M538.7,478.8L537.2,479.0L537.8,477.5zM542.7,479.1L543.9,478.3M545.1,477.4L544.4,478.9L543.4,477.6zM549.5,480.0L550.3,478.3M551.1,476.6L551.0,478.6L549.6,477.9zM556.3,480.5L556.8,477.9M557.2,476.1L557.6,478.1L556.0,477.8zM563.0,480.7L563.2,477.7M563.3,475.8L564.0,477.8L562.4,477.7zM569.7,480.7L569.6,477.7M569.5,475.8L570.4,477.7L568.8,477.8zM351.4,487.0L351.3,484.3M351.2,482.4L352.1,484.3L350.5,484.3zM358.3,486.8L357.6,484.4M357.1,482.6L358.4,484.2L356.9,484.6zM365.2,486.4L364.1,484.6M363.0,483.0L364.7,484.2L363.4,485.0zM372.1,485.7L370.6,484.7M369.1,483.7L371.0,484.0L370.1,485.4zM378.7,484.7L377.0,484.7M375.3,484.7L377.0,483.9L377.0,485.5zM384.9,483.8L383.4,484.7M381.9,485.7L383.0,484.0L383.8,485.4zM390.9,483.0L389.8,484.8M388.7,486.4L389.1,484.4L390.4,485.2zM396.9,482.6L396.2,485.0M395.6,486.8L395.4,484.8L396.9,485.2zM402.8,482.4L402.6,485.1M402.5,487.0L401.8,485.1L403.4,485.2zM408.7,482.5L409.1,485.1M409.5,486.9L408.4,485.2L409.9,484.9zM414.6,482.8L415.6,484.9M416.4,486.6L414.9,485.2L416.3,484.6zM420.6,483.4L421.9,484.7M423.3,486.1L421.4,485.3L422.5,484.1zM426.7,484.2L428.3,484.7M430.0,485.2L428.1,485.5L428.6,483.9zM433.1,485.2L434.8,484.7M436.4,484.2L435.0,485.5L434.5,483.9zM439.9,486.1L441.2,484.7M442.5,483.3L441.8,485.3L440.6,484.2zM446.7,486.7L447.7,484.5M448.5,482.8L448.4,484.8L447.0,484.2zM453.7,487.0L454.1,484.3M454.4,482.5L454.9,484.5L453.3,484.2zM460.6,487.0L460.4,484.3M460.3,482.4L461.2,484.3L459.6,484.4zM467.5,486.8L466.8,484.4M466.2,482.6L467.5,484.2L466.0,484.7zM474.4,486.3L473.2,484.6M472.1,483.1L473.9,484.2L472.6,485.1zM481.2,485.6L479.7,484.7M478.2,483.8L480.1,484.0L479.3,485.4zM487.8,484.6L486.1,484.7M484.4,484.8L486.1,483.9L486.2,485.5zM494.0,483.7L492.5,484.7M491.1,485.7L492.1,484.1L493.0,485.4zM500.0,483.0L498.9,484.8M497.9,486.4L498.2,484.4L499.6,485.2zM506.0,482.6L505.3,485.0M504.8,486.8L504.5,484.8L506.1,485.2zM511.9,482.4L511.8,485.1M511.7,487.0L511.0,485.1L512.6,485.1zM517.8,482.5L518.3,485.1M518.7,486.9L517.5,485.2L519.1,484.9zM523.7,482.8L524.7,484.9M525.6,486.6L524.0,485.2L525.4,484.5zM529.7,483.4L531.1,484.7M532.4,486.0L530.5,485.3L531.6,484.1zM535.8,484.3L537.5,484.7M539.1,485.1L537.3,485.5L537.7,483.9zM542.3,485.3L543.9,484.7M545.5,484.1L544.2,485.5L543.6,484.0zM549.0,486.2L550.3,484.7M551.6,483.3L550.9,485.2L549.7,484.2zM555.9,486.7L556.8,484.5M557.6,482.7L557.6,484.8L556.1,484.2zM562.9,487.0L563.2,484.3M563.5,482.4L564.0,484.4L562.4,484.2zM569.8,487.0L569.5,484.3M569.4,482.4L570.3,484.2L568.7,484.4zM351.5,493.1L351.3,491.1M351.1,489.2L352.1,491.0L350.5,491.2zM358.6,492.9L357.7,491.1M356.8,489.4L358.4,490.7L357.0,491.5zM365.7,492.4L364.1,491.1M362.6,489.9L364.6,490.5L363.5,491.7zM372.5,491.8L370.4,491.1M368.6,490.5L370.7,490.3L370.1,491.8zM379.1,491.2L376.8,491.1M374.9,491.1L376.8,490.3L376.8,491.9zM385.3,490.5L383.3,491.2M381.5,491.8L383.0,490.4L383.5,491.9zM391.4,489.9L389.7,491.2M388.3,492.4L389.2,490.6L390.2,491.8zM397.2,489.4L396.2,491.2M395.3,492.8L395.5,490.8L396.9,491.6zM402.9,489.2L402.7,491.2M402.5,493.1L401.9,491.1L403.5,491.3zM408.5,489.3L409.1,491.2M409.7,493.0L408.3,491.4L409.9,490.9zM414.2,489.6L415.6,491.2M416.8,492.6L414.9,491.7L416.2,490.7zM420.1,490.2L422.0,491.2M423.7,492.1L421.7,491.9L422.4,490.5zM426.3,490.8L428.5,491.2M430.4,491.5L428.4,492.0L428.6,490.4zM432.7,491.5L434.9,491.1M436.8,490.8L435.1,491.9L434.8,490.3zM439.4,492.1L441.3,491.1M442.9,490.1L441.7,491.8L440.9,490.4zM446.3,492.7L447.7,491.1M448.9,489.6L448.3,491.6L447.0,490.6zM453.5,493.0L454.0,491.1M454.6,489.3L454.8,491.3L453.3,490.9zM460.7,493.1L460.4,491.1M460.2,489.2L461.2,491.0L459.6,491.2zM467.9,492.8L466.8,491.1M465.9,489.5L467.5,490.7L466.1,491.5zM474.9,492.4L473.2,491.1M471.7,489.9L473.7,490.4L472.7,491.7zM481.7,491.8L479.6,491.1M477.7,490.5L479.8,490.3L479.3,491.9zM488.2,491.1L485.9,491.1M484.1,491.2L485.9,490.3L486.0,491.9zM494.5,490.4L492.4,491.2M490.6,491.9L492.1,490.4L492.7,491.9zM500.5,489.8L498.9,491.2M497.4,492.5L498.4,490.6L499.4,491.8zM506.3,489.4L505.4,491.2M504.5,492.9L504.6,490.8L506.1,491.6zM511.9,489.2L511.8,491.2M511.7,493.1L511.0,491.1L512.6,491.2zM517.5,489.3L518.2,491.2M518.9,493.0L517.5,491.5L519.0,490.9zM523.3,489.7L524.7,491.2M526.0,492.6L524.1,491.7L525.3,490.7zM529.2,490.2L531.2,491.2M532.9,492.1L530.8,491.9L531.5,490.5zM535.4,490.9L537.6,491.2M539.5,491.4L537.5,492.0L537.7,490.4zM541.9,491.6L544.1,491.1M545.9,490.7L544.2,491.9L543.9,490.3zM548.6,492.2L550.4,491.1M552.0,490.1L550.8,491.8L550.0,490.4zM555.5,492.7L556.8,491.1M557.9,489.6L557.4,491.6L556.1,490.6zM562.7,493.0L563.2,491.1M563.6,489.3L563.9,491.3L562.4,490.9zM569.9,493.0L569.6,491.1M569.3,489.2L570.4,491.0L568.8,491.2zM359.2,497.7L357.7,497.6M356.2,497.4L357.8,496.8L357.6,498.4zM366.1,497.7L364.0,497.6M362.2,497.5L364.1,496.8L364.0,498.4zM372.9,497.6L370.1,497.6M368.2,497.5L370.1,496.8L370.1,498.4zM379.4,497.6L376.4,497.6M374.5,497.6L376.4,496.8L376.4,498.4zM385.7,497.5L383.0,497.6M381.1,497.6L382.9,496.8L383.0,498.4zM391.8,497.5L389.7,497.6M387.8,497.7L389.7,496.8L389.7,498.4zM397.7,497.4L396.2,497.6M394.7,497.7L396.2,496.8L396.3,498.4zM407.9,497.4L409.1,497.6M410.3,497.8L408.9,498.4L409.2,496.8zM413.7,497.5L415.5,497.6M417.3,497.7L415.4,498.4L415.6,496.8zM419.7,497.5L422.2,497.6M424.1,497.6L422.2,498.4L422.2,496.8zM425.9,497.5L428.9,497.6M430.8,497.6L428.9,498.4L428.9,496.8zM432.3,497.6L435.3,497.6M437.2,497.5L435.3,498.4L435.3,496.8zM439.0,497.6L441.5,497.6M443.4,497.5L441.5,498.4L441.4,496.8zM445.8,497.7L447.6,497.6M449.4,497.4L447.7,498.4L447.5,496.8zM452.8,497.8L454.0,497.6M455.2,497.3L454.2,498.4L453.9,496.8zM468.4,497.7L466.9,497.6M465.3,497.4L466.9,496.8L466.8,498.4zM475.3,497.7L473.1,497.6M471.2,497.5L473.2,496.8L473.1,498.4zM482.0,497.6L479.3,497.6M477.4,497.5L479.3,496.8L479.2,498.4zM488.6,497.6L485.6,497.6M483.7,497.6L485.6,496.8L485.6,498.4zM494.9,497.5L492.1,497.6M490.2,497.6L492.1,496.8L492.1,498.4zM500.9,497.5L498.9,497.6M497.0,497.7L498.9,496.8L498.9,498.4zM506.8,497.4L505.4,497.6M503.9,497.7L505.3,496.8L505.5,498.4zM516.9,497.4L518.2,497.6M519.5,497.8L518.1,498.4L518.3,496.8zM522.8,497.5L524.6,497.6M526.5,497.7L524.6,498.4L524.7,496.8zM528.8,497.5L531.4,497.6M533.3,497.6L531.4,498.4L531.4,496.8zM535.0,497.6L538.0,497.6M539.9,497.6L538.0,498.4L538.0,496.8zM541.5,497.6L544.4,497.6M546.3,497.5L544.4,498.4L544.4,496.8zM548.2,497.6L550.6,497.6M552.5,497.5L550.6,498.4L550.5,496.8zM555.0,497.7L556.7,497.6M558.4,497.4L556.8,498.4L556.7,496.8zM562.1,497.8L563.2,497.6M564.3,497.3L563.3,498.4L563.0,496.8z" fill="#000" stroke="#000" stroke-width="0.55" stroke-linejoin="round"/>
<path d="M350.6,438.9h1.5v1.5h-1.5zM401.9,438.9h1.5v1.5h-1.5zM459.7,438.9h1.5v1.5h-1.5zM511.1,438.9h1.5v1.5h-1.5zM568.8,438.9h1.5v1.5h-1.5zM376.2,464.7h1.5v1.5h-1.5zM485.4,464.7h1.5v1.5h-1.5zM536.7,464.7h1.5v1.5h-1.5zM376.2,471.1h1.5v1.5h-1.5zM427.6,471.1h1.5v1.5h-1.5zM485.4,471.1h1.5v1.5h-1.5zM536.7,471.1h1.5v1.5h-1.5zM350.6,496.8h1.5v1.5h-1.5zM401.9,496.8h1.5v1.5h-1.5zM459.7,496.8h1.5v1.5h-1.5zM511.1,496.8h1.5v1.5h-1.5zM568.8,496.8h1.5v1.5h-1.5z" fill="#000"/>
<path d="M354.5,537.0L353.5,538.5M352.5,540.0L352.8,538.1L354.2,538.9zM360.4,540.7L359.8,538.2M359.3,536.3L360.5,538.0L359.0,538.3zM365.2,540.0L366.2,538.5M367.2,537.0L366.9,539.0L365.5,538.0zM372.1,536.3L372.6,538.9M373.0,540.7L371.8,539.0L373.4,538.7zM380.0,537.2L378.9,538.5M377.8,539.8L378.3,538.0L379.5,539.0zM385.7,540.8L385.2,538.1M384.8,536.2L386.0,537.9L384.4,538.2zM390.5,539.7L391.6,538.5M392.7,537.3L392.2,539.0L391.0,538.0zM397.6,536.2L398.0,538.9M398.3,540.8L397.2,539.1L398.8,538.8zM405.5,537.4L404.3,538.5M403.1,539.6L403.7,537.9L404.9,539.1zM411.0,540.8L410.6,538.0M410.3,536.2L411.4,537.9L409.8,538.1zM415.8,539.5L417.0,538.5M418.2,537.5L417.5,539.1L416.5,537.9zM423.1,536.1L423.4,539.0M423.6,540.9L422.6,539.1L424.2,538.9zM431.0,537.6L429.7,538.5M428.4,539.4L429.3,537.8L430.1,539.2zM436.3,540.9L436.0,538.0M435.8,536.1L436.8,537.9L435.2,538.1zM441.1,539.2L442.4,538.5M443.7,537.8L442.8,539.2L442.0,537.8zM448.6,536.1L448.8,539.0M448.9,540.9L448.0,539.1L449.6,539.0zM456.5,537.9L455.1,538.5M453.7,539.1L454.8,537.8L455.4,539.2zM461.6,540.9L461.4,538.0M461.3,536.1L462.2,537.9L460.6,538.0zM466.4,538.9L467.8,538.5M469.2,538.1L468.0,539.3L467.6,537.7zM474.1,536.1L474.2,539.0M474.2,540.9L473.4,539.1L475.0,539.0zM481.9,538.3L480.5,538.5M479.1,538.7L480.4,537.7L480.6,539.3zM486.9,540.9L486.8,538.0M486.8,536.1L487.6,537.9L486.0,538.0zM491.8,538.5L493.2,538.5M494.6,538.5L493.2,539.3L493.2,537.7zM499.6,536.1L499.5,539.0M499.5,540.9L498.7,539.0L500.3,539.1zM507.3,538.6L505.9,538.5M504.5,538.4L506.0,537.7L505.8,539.3zM512.2,540.9L512.3,538.0M512.3,536.1L513.1,538.0L511.5,537.9zM517.2,538.2L518.6,538.5M520.0,538.8L518.4,539.3L518.8,537.7zM525.1,536.1L524.9,539.0M524.8,540.9L524.1,539.0L525.7,539.1zM532.7,539.0L531.3,538.5M529.9,538.0L531.6,537.7L531.0,539.3zM537.5,540.9L537.7,538.0M537.8,536.1L538.5,538.0L536.9,537.9zM542.7,537.9L544.0,538.5M545.3,539.1L543.7,539.2L544.3,537.8zM550.6,536.1L550.3,539.0M550.1,540.9L549.5,538.9L551.1,539.1zM558.0,539.3L556.7,538.5M555.4,537.7L557.1,537.8L556.3,539.2zM562.8,540.9L563.1,538.0M563.3,536.1L563.9,538.1L562.3,537.9zM568.1,537.6L569.4,538.5M570.7,539.4L568.9,539.1L569.9,537.9zM354.3,545.7L353.5,544.8M352.7,544.0L354.1,544.3L352.9,545.4zM359.9,546.8L359.8,544.7M359.8,542.8L360.6,544.7L359.0,544.7zM365.3,546.3L366.2,544.8M367.1,543.3L366.9,545.2L365.5,544.4zM371.5,544.1L372.6,544.8M373.6,545.5L372.1,545.5L373.0,544.2zM384.7,546.0L385.2,544.8M385.8,543.6L386.0,545.2L384.5,544.5zM390.3,544.6L391.6,544.8M392.9,545.0L391.5,545.6L391.7,544.0zM397.4,542.9L398.0,544.9M398.5,546.8L397.2,545.1L398.8,544.7zM404.6,543.2L404.3,544.8M404.0,546.5L403.5,544.7L405.1,545.0zM416.7,543.7L417.0,544.8M417.3,545.9L416.2,545.0L417.8,544.6zM423.7,542.9L423.3,544.8M423.0,546.7L422.6,544.7L424.1,545.0zM430.9,543.9L429.7,544.8M428.5,545.7L429.2,544.2L430.2,545.5zM436.9,546.1L436.1,544.8M435.2,543.5L436.7,544.4L435.4,545.3zM442.6,545.9L442.4,544.8M442.2,543.7L443.2,544.7L441.6,545.0zM456.1,545.8L455.1,544.8M454.1,543.8L455.7,544.3L454.5,545.4zM461.6,547.0L461.4,544.6M461.3,542.7L462.2,544.5L460.6,544.6zM467.1,546.2L467.8,544.8M468.5,543.4L468.5,545.2L467.1,544.5zM486.2,546.4L486.9,544.8M487.5,543.2L487.6,545.1L486.1,544.5zM491.8,544.7L493.2,544.8M494.6,544.9L493.1,545.6L493.3,544.0zM499.0,543.1L499.5,544.8M500.1,546.6L498.8,545.1L500.3,544.6zM506.0,543.6L505.9,544.8M505.8,546.0L505.1,544.8L506.7,544.9zM518.0,543.4L518.6,544.8M519.2,546.3L517.9,545.1L519.3,544.5zM525.2,542.7L524.9,545.0M524.7,546.9L524.1,544.9L525.7,545.1zM532.4,543.9L531.3,544.8M530.2,545.7L530.8,544.2L531.8,545.5zM538.4,545.8L537.6,544.8M536.9,543.8L538.3,544.3L537.0,545.3zM551.2,543.7L550.4,544.8M549.5,546.0L549.7,544.3L551.0,545.3zM557.9,545.9L556.7,544.8M555.5,543.8L557.2,544.2L556.2,545.4zM563.3,546.8L563.0,544.7M562.8,542.8L563.8,544.6L562.2,544.8zM568.9,546.0L569.4,544.8M569.9,543.7L570.1,545.1L568.7,544.5zM353.5,553.4L353.5,550.7M353.5,548.8L354.3,550.7L352.7,550.7zM359.6,553.4L359.9,550.8M360.1,548.9L360.7,550.9L359.1,550.7zM365.7,553.1L366.2,551.1M366.7,549.2L367.0,551.3L365.4,550.9zM371.8,552.6L372.6,551.1M373.3,549.7L373.3,551.5L371.8,550.8zM377.8,551.7L378.9,551.1M380.0,550.6L379.3,551.9L378.5,550.4zM384.2,550.4L385.2,551.1M386.3,551.9L384.8,551.8L385.7,550.5zM390.9,549.6L391.6,551.1M392.3,552.7L390.9,551.5L392.3,550.8zM397.5,549.2L398.0,551.3M398.4,553.1L397.2,551.4L398.8,551.1zM404.1,548.9L404.3,551.5M404.5,553.4L403.5,551.6L405.1,551.4zM410.7,548.8L410.6,551.5M410.6,553.4L409.8,551.5L411.4,551.6zM417.3,549.0L417.0,551.4M416.7,553.3L416.2,551.3L417.8,551.5zM423.9,549.4L423.4,551.1M422.8,552.9L422.6,550.9L424.1,551.4zM430.6,549.9L429.7,551.1M428.8,552.3L429.1,550.7L430.3,551.6zM437.3,551.0L436.1,551.1M434.8,551.2L436.0,550.3L436.1,551.9zM443.3,552.2L442.4,551.1M441.5,550.1L443.0,550.6L441.8,551.7zM449.4,552.8L448.8,551.1M448.1,549.4L449.5,550.9L448.0,551.4zM455.5,553.2L455.1,550.9M454.7,549.0L455.9,550.8L454.3,551.1zM461.6,553.4L461.4,550.8M461.3,548.9L462.2,550.7L460.6,550.8zM467.6,553.4L467.8,550.8M468.0,548.9L468.6,550.8L467.0,550.7zM473.7,553.2L474.2,551.0M474.6,549.1L475.0,551.1L473.4,550.8zM479.8,552.7L480.5,551.1M481.2,549.5L481.2,551.4L479.8,550.8zM485.8,552.0L486.9,551.1M487.9,550.2L487.4,551.7L486.3,550.5zM492.0,550.8L493.2,551.1M494.4,551.5L493.0,551.9L493.4,550.4zM498.7,549.8L499.5,551.1M500.4,552.5L498.9,551.6L500.2,550.7zM505.4,549.3L505.9,551.2M506.4,553.0L505.1,551.4L506.7,551.0zM512.0,549.0L512.3,551.4M512.5,553.3L511.5,551.5L513.1,551.3zM518.6,548.8L518.6,551.5M518.6,553.4L517.8,551.5L519.4,551.5zM525.2,548.9L524.9,551.5M524.7,553.4L524.1,551.4L525.7,551.5zM531.8,549.2L531.3,551.2M530.8,553.1L530.5,551.0L532.1,551.4zM538.4,549.7L537.6,551.1M536.9,552.5L536.9,550.8L538.4,551.5zM545.1,550.6L544.0,551.1M542.9,551.7L543.7,550.4L544.3,551.9zM551.4,551.9L550.4,551.1M549.3,550.4L550.8,550.5L549.9,551.8zM557.4,552.7L556.7,551.1M556.0,549.6L557.4,550.8L556.0,551.5zM563.5,553.1L563.0,551.0M562.6,549.1L563.8,550.8L562.2,551.2zM569.6,553.4L569.4,550.8M569.2,548.9L570.2,550.7L568.6,550.9zM353.5,559.9L353.5,556.9M353.5,555.0L354.3,556.9L352.7,556.9zM359.6,559.9L359.9,556.9M360.1,555.1L360.7,557.0L359.1,556.8zM365.6,559.5L366.3,557.2M366.8,555.4L367.0,557.4L365.5,557.0zM371.7,559.0L372.6,557.5M373.4,555.9L373.2,557.9L371.9,557.1zM377.7,558.0L378.9,557.5M380.1,556.9L379.2,558.2L378.6,556.7zM384.1,556.7L385.2,557.5M386.4,558.3L384.8,558.1L385.7,556.8zM390.8,555.8L391.6,557.5M392.4,559.1L390.9,557.8L392.3,557.1zM397.4,555.3L398.0,557.8M398.5,559.6L397.2,557.9L398.8,557.6zM404.1,555.0L404.3,558.0M404.5,559.9L403.6,558.1L405.1,557.9zM410.7,555.0L410.6,558.0M410.6,559.9L409.8,558.0L411.4,558.0zM417.4,555.1L416.9,557.9M416.6,559.8L416.1,557.8L417.7,558.0zM424.0,555.5L423.3,557.6M422.7,559.4L422.6,557.3L424.1,557.8zM430.7,556.2L429.7,557.5M428.7,558.7L429.1,557.0L430.3,558.0zM437.4,557.4L436.1,557.5M434.7,557.6L436.0,556.7L436.1,558.3zM443.4,558.6L442.4,557.5M441.4,556.3L443.0,556.9L441.8,558.0zM449.5,559.3L448.7,557.4M448.0,555.6L449.5,557.1L448.0,557.7zM455.5,559.7L455.0,557.1M454.7,555.2L455.8,556.9L454.2,557.2zM461.6,559.9L461.4,556.9M461.3,555.0L462.2,556.9L460.6,556.9zM467.6,559.9L467.8,556.9M468.0,555.0L468.6,557.0L467.0,556.9zM473.7,559.7L474.2,557.1M474.6,555.3L475.0,557.3L473.4,556.9zM479.7,559.2L480.5,557.5M481.3,555.7L481.2,557.8L479.8,557.1zM485.7,558.4L486.9,557.5M488.0,556.5L487.4,558.1L486.3,556.8zM491.9,557.1L493.2,557.5M494.5,557.8L493.0,558.2L493.4,556.7zM498.6,556.0L499.5,557.5M500.5,558.9L498.9,557.9L500.2,557.0zM505.3,555.5L506.0,557.6M506.5,559.5L505.2,557.9L506.7,557.4zM511.9,555.1L512.3,558.0M512.6,559.8L511.5,558.1L513.1,557.8zM518.6,555.0L518.6,558.0M518.6,559.9L517.8,558.0L519.4,558.0zM525.2,555.1L524.9,558.0M524.7,559.9L524.1,557.9L525.7,558.1zM531.9,555.4L531.2,557.7M530.7,559.5L530.5,557.5L532.0,557.9zM538.5,556.0L537.6,557.5M536.8,559.0L537.0,557.1L538.3,557.9zM545.2,556.9L544.0,557.5M542.8,558.0L543.7,556.7L544.3,558.2zM551.5,558.3L550.4,557.5M549.2,556.6L550.8,556.8L549.9,558.1zM557.5,559.1L556.7,557.5M555.9,555.8L557.4,557.1L556.0,557.8zM563.6,559.6L563.0,557.2M562.5,555.3L563.8,557.0L562.2,557.3zM569.6,559.9L569.4,556.9M569.2,555.0L570.1,556.8L568.6,557.0zM353.5,566.2L353.5,563.2M353.5,561.3L354.3,563.2L352.7,563.2zM359.8,566.2L359.9,563.2M359.9,561.3L360.7,563.3L359.1,563.2zM366.0,566.0L366.2,563.5M366.4,561.6L367.0,563.6L365.4,563.4zM372.2,565.4L372.6,563.8M372.9,562.1L373.3,563.9L371.8,563.6zM384.7,562.7L385.2,563.8M385.8,564.9L384.5,564.1L386.0,563.4zM391.3,562.0L391.6,563.8M391.9,565.5L390.8,563.9L392.4,563.7zM397.8,561.5L398.0,564.1M398.1,566.0L397.2,564.2L398.8,564.1zM404.2,561.3L404.3,564.3M404.4,566.2L403.5,564.4L405.1,564.3zM410.7,561.3L410.6,564.3M410.6,566.2L409.8,564.3L411.4,564.3zM417.1,561.4L417.0,564.3M416.9,566.2L416.2,564.3L417.8,564.3zM423.6,561.8L423.3,563.9M423.1,565.8L422.5,563.8L424.1,564.0zM430.1,562.3L429.7,563.8M429.3,565.2L428.9,563.6L430.5,564.0zM442.8,565.1L442.4,563.8M442.0,562.4L443.2,563.6L441.6,564.0zM449.0,565.7L448.7,563.7M448.5,561.8L449.5,563.6L447.9,563.8zM455.2,566.2L455.1,563.3M455.0,561.4L455.9,563.3L454.3,563.4zM461.5,566.2L461.4,563.2M461.4,561.3L462.2,563.2L460.6,563.2zM467.7,566.2L467.8,563.2M467.9,561.3L468.6,563.2L467.0,563.2zM474.0,566.1L474.2,563.4M474.3,561.5L475.0,563.4L473.4,563.3zM480.2,565.6L480.5,563.8M480.8,561.9L481.3,563.9L479.7,563.7zM486.4,565.0L486.9,563.8M487.3,562.6L487.6,564.1L486.1,563.5zM499.2,562.2L499.5,563.8M499.9,565.3L498.8,563.9L500.3,563.6zM505.7,561.7L505.9,564.0M506.1,565.9L505.1,564.1L506.7,563.9zM512.1,561.3L512.3,564.3M512.4,566.2L511.5,564.4L513.1,564.3zM518.6,561.3L518.6,564.3M518.6,566.2L517.8,564.3L519.4,564.3zM525.0,561.3L524.9,564.3M524.9,566.2L524.1,564.3L525.7,564.4zM531.5,561.6L531.3,564.1M531.1,565.9L530.5,564.0L532.1,564.1zM538.0,562.1L537.6,563.8M537.3,565.4L536.9,563.6L538.4,563.9zM550.9,564.9L550.4,563.8M549.8,562.7L551.1,563.4L549.6,564.1zM557.0,565.5L556.7,563.8M556.4,562.0L557.5,563.7L555.9,563.9zM563.2,566.0L563.0,563.4M562.9,561.5L563.8,563.4L562.2,563.5zM569.5,566.2L569.4,563.2M569.3,561.3L570.2,563.2L568.6,563.3zM353.5,572.5L353.5,569.6M353.5,567.7L354.3,569.6L352.7,569.5zM359.9,572.5L359.8,569.6M359.8,567.7L360.6,569.5L359.0,569.6zM366.4,572.3L366.2,569.8M366.0,567.9L367.0,569.8L365.4,569.9zM372.8,571.7L372.6,570.1M372.3,568.5L373.3,570.0L371.8,570.2zM385.7,569.0L385.2,570.1M384.8,571.2L384.5,569.8L386.0,570.4zM391.9,568.3L391.6,570.1M391.3,571.9L390.8,570.0L392.4,570.2zM398.1,567.9L397.9,570.5M397.8,572.3L397.1,570.4L398.7,570.5zM404.4,567.7L404.3,570.6M404.2,572.5L403.5,570.6L405.1,570.7zM410.6,567.7L410.7,570.6M410.7,572.5L409.9,570.7L411.5,570.6zM416.9,567.7L417.0,570.6M417.1,572.5L416.2,570.7L417.8,570.6zM423.1,568.1L423.4,570.2M423.6,572.1L422.6,570.3L424.2,570.1zM429.4,568.7L429.7,570.1M430.0,571.5L428.9,570.3L430.5,569.9zM442.0,571.4L442.4,570.1M442.8,568.8L443.2,570.3L441.6,569.9zM448.5,572.0L448.8,570.0M449.0,568.2L449.6,570.1L448.0,570.0zM455.0,572.5L455.1,569.6M455.2,567.7L455.9,569.7L454.3,569.6zM461.4,572.5L461.5,569.6M461.5,567.7L462.3,569.6L460.7,569.5zM467.9,572.5L467.8,569.6M467.7,567.7L468.6,569.5L467.0,569.6zM474.3,572.4L474.1,569.7M474.0,567.8L474.9,569.6L473.3,569.7zM480.8,571.9L480.5,570.1M480.2,568.3L481.3,570.0L479.7,570.2zM487.3,571.3L486.9,570.1M486.4,568.9L487.6,569.8L486.1,570.4zM499.9,568.5L499.5,570.1M499.2,571.7L498.8,569.9L500.3,570.3zM506.1,568.0L505.9,570.3M505.7,572.2L505.1,570.2L506.7,570.4zM512.3,567.7L512.2,570.6M512.2,572.5L511.4,570.6L513.0,570.7zM518.6,567.7L518.6,570.6M518.6,572.5L517.8,570.6L519.4,570.7zM524.9,567.7L525.0,570.6M525.0,572.5L524.2,570.7L525.8,570.6zM531.1,567.9L531.3,570.4M531.5,572.3L530.5,570.4L532.1,570.3zM537.4,568.5L537.6,570.1M537.9,571.7L536.9,570.2L538.4,570.0zM549.9,571.2L550.4,570.1M550.8,569.0L551.1,570.4L549.6,569.8zM556.4,571.9L556.7,570.1M557.0,568.3L557.5,570.2L555.9,570.0zM562.9,572.4L563.1,569.7M563.2,567.8L563.9,569.8L562.3,569.7zM569.3,572.5L569.4,569.6M569.5,567.7L570.2,569.6L568.6,569.5zM353.5,578.9L353.5,575.9M353.5,574.0L354.3,575.9L352.7,575.9zM360.1,578.8L359.8,575.9M359.6,574.0L360.6,575.8L359.0,576.0zM366.8,578.5L366.1,576.2M365.6,574.3L366.9,576.0L365.4,576.4zM373.4,577.9L372.6,576.4M371.7,574.9L373.2,576.0L371.9,576.8zM380.1,577.0L378.9,576.4M377.7,575.8L379.2,575.7L378.6,577.1zM386.4,575.6L385.2,576.4M384.1,577.2L384.8,575.8L385.7,577.1zM392.4,574.8L391.6,576.4M390.8,578.1L390.9,576.1L392.3,576.8zM398.5,574.3L397.9,576.7M397.4,578.6L397.1,576.5L398.7,576.9zM404.5,574.0L404.3,577.0M404.1,578.9L403.5,576.9L405.0,577.0zM410.6,574.0L410.7,577.0M410.7,578.9L409.9,577.0L411.5,576.9zM416.6,574.1L417.1,576.9M417.4,578.7L416.3,577.0L417.9,576.7zM422.7,574.5L423.4,576.5M424.0,578.3L422.6,576.8L424.1,576.3zM428.7,575.2L429.7,576.4M430.7,577.7L429.1,576.9L430.3,575.9zM434.7,576.3L436.1,576.4M437.4,576.5L436.0,577.2L436.1,575.6zM441.4,577.6L442.4,576.4M443.4,575.3L443.0,577.0L441.8,575.9zM448.1,578.3L448.8,576.4M449.4,574.6L449.5,576.6L448.0,576.1zM454.7,578.7L455.2,576.0M455.5,574.1L456.0,576.2L454.4,575.9zM461.3,578.9L461.5,575.9M461.6,574.0L462.3,575.9L460.7,575.8zM468.0,578.9L467.8,575.9M467.6,574.0L468.6,575.8L467.0,575.9zM474.6,578.6L474.1,576.1M473.7,574.2L474.9,575.9L473.3,576.2zM481.3,578.1L480.5,576.4M479.7,574.7L481.2,576.1L479.8,576.7zM488.0,577.4L486.9,576.4M485.7,575.5L487.4,575.8L486.3,577.0zM494.5,576.0L493.2,576.4M491.9,576.8L493.0,575.7L493.4,577.2zM500.5,575.0L499.5,576.4M498.6,577.8L498.9,576.0L500.2,576.9zM506.5,574.4L505.8,576.6M505.3,578.4L505.1,576.4L506.6,576.8zM512.6,574.0L512.2,576.9M511.9,578.8L511.4,576.8L513.0,577.0zM518.6,574.0L518.6,577.0M518.6,578.9L517.8,577.0L519.4,577.0zM524.7,574.0L525.0,576.9M525.2,578.8L524.2,577.0L525.8,576.9zM530.7,574.3L531.4,576.7M531.9,578.5L530.6,576.9L532.1,576.4zM536.8,574.9L537.6,576.4M538.5,577.9L537.0,576.8L538.3,576.0zM542.8,575.9L544.0,576.4M545.2,577.0L543.7,577.1L544.3,575.7zM549.2,577.2L550.4,576.4M551.5,575.6L550.8,577.1L549.9,575.8zM555.9,578.1L556.7,576.4M557.5,574.8L557.4,576.8L556.0,576.1zM562.6,578.6L563.1,576.1M563.5,574.3L563.9,576.3L562.3,575.9zM569.2,578.9L569.4,575.9M569.6,574.0L570.2,575.9L568.6,575.8zM353.5,585.0L353.5,582.3M353.5,580.4L354.3,582.3L352.7,582.3zM360.3,584.9L359.8,582.4M359.4,580.5L360.6,582.2L359.0,582.6zM367.1,584.6L366.1,582.6M365.3,580.9L366.8,582.2L365.4,582.9zM373.9,584.0L372.6,582.7M371.2,581.5L373.1,582.2L372.0,583.3zM380.6,583.2L378.9,582.7M377.2,582.3L379.1,582.0L378.7,583.5zM386.9,582.2L385.2,582.7M383.6,583.3L385.0,582.0L385.5,583.5zM392.9,581.3L391.6,582.7M390.3,584.1L391.0,582.2L392.2,583.3zM398.8,580.8L397.9,582.9M397.1,584.7L397.1,582.6L398.6,583.3zM404.7,580.5L404.2,583.1M403.9,585.0L403.4,583.0L405.0,583.2zM410.5,580.4L410.7,583.1M410.8,585.0L409.9,583.2L411.5,583.1zM416.4,580.6L417.1,583.0M417.6,584.9L416.3,583.3L417.9,582.8zM422.3,581.0L423.4,582.8M424.4,584.4L422.7,583.3L424.1,582.4zM428.2,581.7L429.7,582.7M431.2,583.8L429.3,583.4L430.1,582.1zM434.4,582.7L436.1,582.7M437.7,582.8L436.0,583.5L436.1,581.9zM440.9,583.6L442.4,582.7M443.9,581.8L442.8,583.4L442.0,582.0zM447.6,584.4L448.8,582.7M449.9,581.1L449.4,583.1L448.1,582.2zM454.4,584.8L455.2,582.5M455.8,580.7L455.9,582.7L454.4,582.2zM461.2,585.0L461.5,582.3M461.7,580.5L462.3,582.4L460.7,582.3zM468.1,585.0L467.7,582.4M467.5,580.5L468.5,582.3L467.0,582.5zM474.9,584.7L474.1,582.5M473.4,580.7L474.8,582.2L473.3,582.8zM481.7,584.2L480.5,582.7M479.3,581.2L481.1,582.2L479.9,583.2zM488.4,583.5L486.9,582.7M485.3,582.0L487.2,582.0L486.5,583.5zM494.9,582.5L493.2,582.7M491.5,583.0L493.1,582.0L493.3,583.5zM501.0,581.6L499.5,582.7M498.1,583.9L499.0,582.1L500.1,583.4zM506.9,580.9L505.8,582.9M504.9,584.5L505.1,582.5L506.5,583.3zM512.8,580.6L512.2,583.1M511.7,584.9L511.4,582.9L512.9,583.3zM518.6,580.4L518.6,583.1M518.6,585.0L517.8,583.1L519.4,583.2zM524.5,580.5L525.0,583.1M525.4,584.9L524.2,583.3L525.8,582.9zM530.4,580.9L531.4,582.9M532.2,584.6L530.7,583.3L532.1,582.5zM536.3,581.5L537.6,582.7M539.0,584.0L537.1,583.3L538.2,582.2zM542.3,582.3L544.0,582.7M545.7,583.1L543.8,583.5L544.2,582.0zM548.7,583.3L550.4,582.7M552.0,582.1L550.6,583.5L550.1,582.0zM555.4,584.2L556.7,582.7M558.0,581.3L557.3,583.3L556.1,582.2zM562.2,584.7L563.1,582.5M563.9,580.8L563.9,582.8L562.4,582.2zM569.0,585.0L569.5,582.4M569.8,580.5L570.2,582.5L568.7,582.2zM353.4,591.0L353.5,589.0M353.6,587.1L354.3,589.1L352.7,589.0zM360.6,590.9L359.8,589.0M359.1,587.2L360.6,588.7L359.1,589.3zM367.6,590.5L366.1,589.0M364.8,587.6L366.7,588.4L365.6,589.5zM374.4,590.0L372.4,589.0M370.7,588.1L372.8,588.3L372.1,589.7zM380.9,589.3L378.7,589.0M376.9,588.8L378.8,588.2L378.6,589.8zM387.3,588.7L385.1,589.1M383.2,589.5L384.9,588.3L385.2,589.9zM393.4,588.0L391.5,589.1M389.8,590.1L391.1,588.4L391.9,589.8zM399.2,587.5L397.9,589.1M396.7,590.6L397.3,588.6L398.5,589.6zM404.9,587.2L404.3,589.1M403.7,590.9L403.5,588.9L405.1,589.3zM410.4,587.1L410.7,589.1M410.9,591.0L409.9,589.2L411.4,589.0zM416.1,587.3L417.0,589.1M417.9,590.8L416.3,589.5L417.7,588.7zM421.8,587.8L423.4,589.1M424.9,590.4L422.9,589.7L423.9,588.5zM427.8,588.4L429.8,589.1M431.6,589.8L429.6,589.9L430.1,588.4zM434.0,589.0L436.2,589.1M438.1,589.1L436.2,589.9L436.2,588.3zM440.4,589.7L442.5,589.0M444.4,588.4L442.8,589.8L442.3,588.3zM447.1,590.3L448.8,589.0M450.4,587.8L449.3,589.6L448.4,588.4zM454.1,590.7L455.1,589.0M456.1,587.4L455.8,589.4L454.5,588.6zM461.1,591.0L461.5,589.0M461.8,587.1L462.2,589.2L460.7,588.9zM468.3,590.9L467.8,589.0M467.3,587.2L468.6,588.8L467.0,589.2zM475.3,590.7L474.1,589.0M473.0,587.5L474.8,588.5L473.5,589.5zM482.2,590.2L480.4,589.0M478.8,588.0L480.8,588.3L480.0,589.7zM488.8,589.5L486.7,589.0M484.9,588.6L486.9,588.2L486.5,589.8zM495.3,588.9L493.0,589.1M491.1,589.2L493.0,588.3L493.1,589.9zM501.4,588.2L499.4,589.1M497.7,589.9L499.1,588.4L499.7,589.8zM507.3,587.7L505.8,589.1M504.5,590.4L505.3,588.6L506.4,589.7zM513.1,587.3L512.2,589.1M511.4,590.8L511.5,588.8L513.0,589.4zM518.6,587.1L518.6,589.1M518.6,591.0L517.8,589.1L519.4,589.1zM524.2,587.2L525.0,589.1M525.7,590.9L524.2,589.4L525.7,588.8zM529.9,587.6L531.4,589.1M532.7,590.5L530.8,589.7L531.9,588.6zM535.8,588.2L537.8,589.1M539.5,590.0L537.4,589.8L538.1,588.4zM542.0,588.8L544.2,589.1M546.0,589.3L544.1,589.9L544.3,588.3zM548.3,589.5L550.5,589.0M552.4,588.7L550.7,589.8L550.3,588.2zM555.0,590.1L556.8,589.0M558.4,588.0L557.2,589.7L556.4,588.3zM561.8,590.6L563.1,589.0M564.3,587.5L563.7,589.5L562.5,588.5zM568.8,590.9L569.4,589.0M570.0,587.2L570.2,589.2L568.6,588.8zM361.1,595.8L359.9,595.4M358.6,595.0L360.1,594.6L359.6,596.1zM368.0,595.6L366.2,595.4M364.4,595.2L366.3,594.6L366.1,596.2zM374.8,595.5L372.2,595.4M370.3,595.3L372.3,594.6L372.2,596.2zM381.3,595.4L378.4,595.4M376.5,595.3L378.4,594.6L378.4,596.2zM387.7,595.3L384.7,595.4M382.8,595.4L384.7,594.6L384.8,596.2zM393.8,595.2L391.3,595.4M389.4,595.5L391.3,594.6L391.4,596.2zM399.7,595.1L397.9,595.4M396.2,595.6L397.8,594.6L398.1,596.2zM405.5,595.0L404.3,595.4M403.1,595.8L404.0,594.6L404.6,596.1zM415.5,595.1L417.0,595.4M418.5,595.7L416.8,596.2L417.2,594.6zM421.4,595.2L423.4,595.4M425.3,595.6L423.4,596.2L423.5,594.6zM427.4,595.3L430.1,595.4M432.0,595.5L430.1,596.2L430.2,594.6zM433.6,595.4L436.6,595.4M438.5,595.4L436.6,596.2L436.6,594.6zM440.1,595.5L442.8,595.4M444.7,595.3L442.9,596.2L442.8,594.6zM446.7,595.6L448.9,595.4M450.8,595.2L449.0,596.2L448.8,594.6zM453.5,595.7L455.1,595.4M456.7,595.1L455.2,596.2L455.0,594.6zM468.8,595.9L467.8,595.4M466.8,594.9L468.1,594.7L467.5,596.1zM475.8,595.6L474.1,595.4M472.5,595.1L474.3,594.6L474.0,596.2zM482.6,595.5L480.3,595.4M478.4,595.2L480.3,594.6L480.2,596.2zM489.2,595.4L486.4,595.4M484.5,595.3L486.4,594.6L486.3,596.2zM495.6,595.4L492.7,595.4M490.8,595.4L492.7,594.6L492.7,596.2zM501.8,595.3L499.2,595.4M497.3,595.5L499.1,594.6L499.2,596.2zM507.8,595.2L505.9,595.4M504.0,595.6L505.8,594.6L506.0,596.2zM513.6,595.0L512.2,595.4M510.9,595.7L512.1,594.6L512.4,596.2zM523.7,595.0L525.0,595.4M526.2,595.7L524.7,596.1L525.2,594.6zM529.5,595.2L531.3,595.4M533.1,595.6L531.2,596.2L531.4,594.6zM535.4,595.3L538.0,595.4M539.9,595.5L537.9,596.2L538.0,594.6zM541.6,595.3L544.5,595.4M546.4,595.4L544.5,596.2L544.5,594.6zM547.9,595.4L550.9,595.4M552.8,595.3L550.9,596.2L550.8,594.6zM554.5,595.5L557.0,595.4M558.9,595.2L557.0,596.2L556.9,594.6zM561.3,595.6L563.0,595.4M564.8,595.1L563.2,596.2L562.9,594.6zM568.3,595.8L569.4,595.4M570.5,595.0L569.7,596.1L569.1,594.6z" fill="#000" stroke="#000" stroke-width="0.55" stroke-linejoin="round"/>
<path d="M378.1,544.1h1.5v1.5h-1.5zM409.9,544.1h1.5v1.5h-1.5zM448.0,544.1h1.5v1.5h-1.5zM473.4,544.1h1.5v1.5h-1.5zM479.8,544.1h1.5v1.5h-1.5zM511.5,544.1h1.5v1.5h-1.5zM543.2,544.1h1.5v1.5h-1.5zM378.1,563.0h1.5v1.5h-1.5zM435.3,563.0h1.5v1.5h-1.5zM492.4,563.0h1.5v1.5h-1.5zM543.2,563.0h1.5v1.5h-1.5zM378.1,569.4h1.5v1.5h-1.5zM435.3,569.4h1.5v1.5h-1.5zM492.4,569.4h1.5v1.5h-1.5zM543.2,569.4h1.5v1.5h-1.5zM352.8,594.6h1.5v1.5h-1.5zM409.9,594.6h1.5v1.5h-1.5zM460.7,594.6h1.5v1.5h-1.5zM517.9,594.6h1.5v1.5h-1.5z" fill="#000"/>
<path d="M352.2,636.9L352.7,634.5M353.0,632.7L353.4,634.7L351.9,634.4zM358.7,632.7L359.2,635.1M359.5,636.9L358.4,635.2L360.0,634.9zM366.0,632.5L365.6,635.2M365.3,637.1L364.8,635.1L366.4,635.4zM372.7,636.7L372.1,634.7M371.7,632.9L372.9,634.5L371.4,634.9zM378.4,637.2L378.7,634.3M379.0,632.4L379.5,634.3L377.9,634.2zM384.6,633.2L385.2,634.8M385.8,636.4L384.4,635.1L386.0,634.5zM391.9,632.4L391.7,635.3M391.5,637.2L390.9,635.3L392.5,635.4zM399.0,636.1L398.2,634.8M397.5,633.5L398.9,634.4L397.5,635.2zM404.6,637.2L404.8,634.3M404.9,632.4L405.6,634.3L404.0,634.2zM410.4,633.9L411.3,634.8M412.2,635.7L410.7,635.3L411.9,634.3zM417.9,632.4L417.8,635.3M417.7,637.2L417.0,635.3L418.6,635.4zM425.4,635.1L424.3,634.8M423.2,634.5L424.6,634.0L424.1,635.6zM430.8,637.2L430.8,634.3M430.8,632.4L431.6,634.2L430.0,634.3zM436.3,635.3L437.4,634.8M438.4,634.3L437.7,635.5L437.0,634.1zM443.8,632.4L443.9,635.3M444.0,637.2L443.1,635.4L444.7,635.3zM451.2,633.8L450.4,634.8M449.6,635.8L449.8,634.3L451.0,635.3zM457.1,637.2L456.9,634.3M456.8,632.4L457.7,634.2L456.1,634.3zM462.8,636.2L463.4,634.8M464.1,633.4L464.2,635.2L462.7,634.4zM469.7,632.4L470.0,635.3M470.2,637.2L469.2,635.4L470.8,635.3zM477.1,633.1L476.5,634.8M475.9,636.5L475.7,634.5L477.2,635.1zM483.3,637.2L482.9,634.3M482.7,632.4L483.7,634.2L482.1,634.4zM489.0,636.8L489.5,634.7M490.0,632.8L490.3,634.9L488.8,634.5zM495.7,632.5L496.1,635.2M496.4,637.1L495.3,635.3L496.9,635.1zM503.0,632.6L502.5,635.1M502.2,637.0L501.7,635.0L503.3,635.3zM509.5,636.9L509.0,634.6M508.6,632.7L509.8,634.4L508.3,634.8zM515.3,637.2L515.7,634.3M515.9,632.4L516.5,634.4L514.9,634.2zM521.6,633.0L522.1,634.8M522.6,636.6L521.4,635.0L522.9,634.6zM528.9,632.4L528.6,635.3M528.4,637.2L527.8,635.3L529.4,635.4zM535.8,636.4L535.2,634.8M534.5,633.2L535.9,634.5L534.4,635.1zM541.5,637.2L541.7,634.3M541.9,632.4L542.5,634.3L540.9,634.2zM547.4,633.6L548.2,634.8M549.0,636.0L547.5,635.2L548.9,634.4zM554.8,632.4L554.7,635.3M554.6,637.2L553.9,635.3L555.5,635.4zM562.2,635.6L561.2,634.8M560.3,634.0L561.7,634.2L560.7,635.4zM567.7,637.2L567.8,634.3M567.8,632.4L568.6,634.3L567.0,634.2zM351.8,643.5L352.7,641.1M353.4,639.3L353.5,641.4L352.0,640.8zM358.3,639.3L359.3,641.7M360.0,643.5L358.5,642.0L360.0,641.4zM366.3,639.1L365.5,641.9M364.9,643.7L364.7,641.6L366.3,642.1zM373.1,643.2L372.1,641.2M371.2,639.6L372.8,640.9L371.4,641.6zM378.1,643.8L378.8,640.9M379.2,639.0L379.6,641.0L378.0,640.7zM384.1,639.9L385.2,641.4M386.3,642.9L384.6,641.9L385.9,640.9zM392.1,639.0L391.6,641.9M391.3,643.8L390.8,641.8L392.4,642.1zM399.5,642.6L398.2,641.4M397.0,640.2L398.8,640.8L397.7,642.0zM404.5,643.8L404.8,640.9M405.0,639.0L405.6,640.9L404.0,640.8zM409.9,640.6L411.3,641.4M412.7,642.2L410.9,642.1L411.7,640.7zM417.9,639.0L417.8,641.9M417.7,643.8L417.0,641.9L418.6,642.0zM425.8,641.6L424.3,641.4M422.8,641.2L424.4,640.6L424.2,642.2zM430.9,643.8L430.8,640.9M430.8,639.0L431.6,640.8L430.0,640.9zM435.9,641.7L437.4,641.4M438.9,641.1L437.5,642.2L437.2,640.6zM443.7,639.0L443.9,641.9M444.0,643.8L443.1,642.0L444.7,641.9zM451.8,640.6L450.4,641.4M449.0,642.2L450.0,640.7L450.8,642.1zM457.2,643.8L456.9,640.9M456.6,639.0L457.7,640.8L456.1,640.9zM462.2,642.7L463.4,641.4M464.7,640.1L464.0,642.0L462.9,640.8zM469.5,639.0L470.1,641.9M470.4,643.8L469.3,642.1L470.8,641.8zM477.6,639.8L476.5,641.4M475.4,643.0L475.8,641.0L477.1,641.9zM483.6,643.8L482.9,640.9M482.4,639.0L483.6,640.7L482.1,641.1zM488.6,643.3L489.6,641.2M490.5,639.5L490.3,641.6L488.9,640.8zM495.3,639.1L496.2,641.8M496.8,643.7L495.4,642.1L496.9,641.6zM503.4,639.3L502.4,641.8M501.8,643.5L501.7,641.5L503.2,642.0zM510.0,643.4L509.0,641.1M508.2,639.4L509.7,640.8L508.2,641.4zM514.9,643.8L515.7,640.9M516.3,639.0L516.5,641.1L515.0,640.7zM521.1,639.6L522.2,641.5M523.1,643.2L521.5,641.9L522.9,641.1zM529.1,639.0L528.5,641.9M528.1,643.8L527.7,641.8L529.3,642.1zM536.3,642.8L535.2,641.4M534.0,640.0L535.8,640.9L534.5,641.9zM541.3,643.8L541.8,640.9M542.0,639.0L542.5,641.0L541.0,640.7zM546.9,640.3L548.2,641.4M549.5,642.5L547.7,642.0L548.7,640.8zM554.9,639.0L554.7,641.9M554.5,643.8L553.9,641.9L555.5,642.0zM562.7,642.0L561.2,641.4M559.8,640.8L561.5,640.7L560.9,642.1zM567.7,643.8L567.8,640.9M567.8,639.0L568.6,640.9L567.0,640.8zM352.0,649.5L352.6,648.0M353.2,646.5L353.3,648.3L351.9,647.7zM358.5,646.5L359.1,648.0M359.7,649.5L358.4,648.3L359.9,647.7zM366.1,646.4L365.6,648.0M365.2,649.6L364.9,647.8L366.4,648.2zM372.9,649.3L372.2,648.0M371.5,646.7L372.9,647.6L371.5,648.4zM378.3,649.7L378.7,648.0M379.1,646.3L379.5,648.2L377.9,647.8zM384.4,646.9L385.2,648.0M386.0,649.1L384.6,648.5L385.8,647.5zM392.0,646.2L391.7,648.0M391.4,649.8L390.9,647.9L392.5,648.1zM399.2,648.9L398.2,648.0M397.3,647.1L398.8,647.4L397.7,648.6zM404.6,649.8L404.8,648.0M404.9,646.2L405.6,648.1L404.0,647.9zM410.2,647.4L411.3,648.0M412.4,648.6L410.9,648.7L411.7,647.3zM417.9,646.1L417.8,648.0M417.7,649.9L417.0,648.0L418.6,648.0zM425.5,648.2L424.3,648.0M423.2,647.8L424.4,647.2L424.2,648.8zM430.8,649.9L430.8,648.0M430.8,646.1L431.6,648.0L430.0,648.0zM436.2,648.3L437.4,648.0M438.5,647.7L437.5,648.8L437.2,647.2zM443.8,646.1L443.9,648.0M444.0,649.9L443.1,648.0L444.7,648.0zM451.5,647.4L450.4,648.0M449.3,648.6L450.0,647.3L450.8,648.7zM457.1,649.8L456.9,648.0M456.7,646.2L457.7,647.9L456.1,648.1zM462.5,648.9L463.4,648.0M464.4,647.1L464.0,648.6L462.9,647.4zM469.7,646.2L470.0,648.0M470.3,649.8L469.2,648.1L470.7,647.9zM477.3,646.8L476.5,648.0M475.7,649.2L475.8,647.6L477.1,648.4zM483.4,649.7L483.0,648.0M482.6,646.3L483.8,647.8L482.2,648.2zM488.8,649.3L489.5,648.0M490.2,646.7L490.2,648.4L488.8,647.6zM495.5,646.4L496.0,648.0M496.5,649.6L495.3,648.2L496.8,647.8zM503.1,646.5L502.6,648.0M502.0,649.5L501.8,647.7L503.3,648.3zM509.7,649.4L509.1,648.0M508.5,646.6L509.8,647.7L508.3,648.3zM515.1,649.6L515.6,648.0M516.1,646.4L516.4,648.2L514.8,647.8zM521.4,646.7L522.1,648.0M522.8,649.3L521.4,648.4L522.8,647.6zM529.0,646.3L528.6,648.0M528.3,649.7L527.9,647.8L529.4,648.2zM536.0,649.1L535.2,648.0M534.3,646.9L535.8,647.5L534.5,648.5zM541.4,649.8L541.7,648.0M541.9,646.2L542.5,648.1L540.9,647.9zM547.2,647.2L548.2,648.0M549.2,648.8L547.7,648.6L548.7,647.4zM554.9,646.2L554.7,648.0M554.6,649.8L553.9,647.9L555.5,648.1zM562.3,648.5L561.2,648.0M560.1,647.5L561.5,647.3L560.9,648.7zM567.7,649.9L567.8,648.0M567.8,646.1L568.6,648.0L567.0,648.0z" fill="#000" stroke="#000" stroke-width="0.55" stroke-linejoin="round"/>
<path d="M351.9,653.8h1.5v1.5h-1.5zM358.4,653.8h1.5v1.5h-1.5zM364.9,653.8h1.5v1.5h-1.5zM371.4,653.8h1.5v1.5h-1.5zM377.9,653.8h1.5v1.5h-1.5zM384.5,653.8h1.5v1.5h-1.5zM391.0,653.8h1.5v1.5h-1.5zM397.5,653.8h1.5v1.5h-1.5zM404.0,653.8h1.5v1.5h-1.5zM410.5,653.8h1.5v1.5h-1.5zM417.1,653.8h1.5v1.5h-1.5zM423.6,653.8h1.5v1.5h-1.5zM430.1,653.8h1.5v1.5h-1.5zM436.6,653.8h1.5v1.5h-1.5zM443.1,653.8h1.5v1.5h-1.5zM449.7,653.8h1.5v1.5h-1.5zM456.2,653.8h1.5v1.5h-1.5zM462.7,653.8h1.5v1.5h-1.5zM469.2,653.8h1.5v1.5h-1.5zM475.7,653.8h1.5v1.5h-1.5zM482.2,653.8h1.5v1.5h-1.5zM488.8,653.8h1.5v1.5h-1.5zM495.3,653.8h1.5v1.5h-1.5zM501.8,653.8h1.5v1.5h-1.5zM508.3,653.8h1.5v1.5h-1.5zM514.9,653.8h1.5v1.5h-1.5zM521.4,653.8h1.5v1.5h-1.5zM527.9,653.8h1.5v1.5h-1.5zM534.4,653.8h1.5v1.5h-1.5zM540.9,653.8h1.5v1.5h-1.5zM547.5,653.8h1.5v1.5h-1.5zM554.0,653.8h1.5v1.5h-1.5zM560.5,653.8h1.5v1.5h-1.5zM567.0,653.8h1.5v1.5h-1.5zM351.9,660.4h1.5v1.5h-1.5zM358.4,660.4h1.5v1.5h-1.5zM364.9,660.4h1.5v1.5h-1.5zM371.4,660.4h1.5v1.5h-1.5zM377.9,660.4h1.5v1.5h-1.5zM384.5,660.4h1.5v1.5h-1.5zM391.0,660.4h1.5v1.5h-1.5zM397.5,660.4h1.5v1.5h-1.5zM404.0,660.4h1.5v1.5h-1.5zM410.5,660.4h1.5v1.5h-1.5zM417.1,660.4h1.5v1.5h-1.5zM423.6,660.4h1.5v1.5h-1.5zM430.1,660.4h1.5v1.5h-1.5zM436.6,660.4h1.5v1.5h-1.5zM443.1,660.4h1.5v1.5h-1.5zM449.7,660.4h1.5v1.5h-1.5zM456.2,660.4h1.5v1.5h-1.5zM462.7,660.4h1.5v1.5h-1.5zM469.2,660.4h1.5v1.5h-1.5zM475.7,660.4h1.5v1.5h-1.5zM482.2,660.4h1.5v1.5h-1.5zM488.8,660.4h1.5v1.5h-1.5zM495.3,660.4h1.5v1.5h-1.5zM501.8,660.4h1.5v1.5h-1.5zM508.3,660.4h1.5v1.5h-1.5zM514.9,660.4h1.5v1.5h-1.5zM521.4,660.4h1.5v1.5h-1.5zM527.9,660.4h1.5v1.5h-1.5zM534.4,660.4h1.5v1.5h-1.5zM540.9,660.4h1.5v1.5h-1.5zM547.5,660.4h1.5v1.5h-1.5zM554.0,660.4h1.5v1.5h-1.5zM560.5,660.4h1.5v1.5h-1.5zM567.0,660.4h1.5v1.5h-1.5zM351.9,667.0h1.5v1.5h-1.5zM358.4,667.0h1.5v1.5h-1.5zM364.9,667.0h1.5v1.5h-1.5zM371.4,667.0h1.5v1.5h-1.5zM377.9,667.0h1.5v1.5h-1.5zM384.5,667.0h1.5v1.5h-1.5zM391.0,667.0h1.5v1.5h-1.5zM397.5,667.0h1.5v1.5h-1.5zM404.0,667.0h1.5v1.5h-1.5zM410.5,667.0h1.5v1.5h-1.5zM417.1,667.0h1.5v1.5h-1.5zM423.6,667.0h1.5v1.5h-1.5zM430.1,667.0h1.5v1.5h-1.5zM436.6,667.0h1.5v1.5h-1.5zM443.1,667.0h1.5v1.5h-1.5zM449.7,667.0h1.5v1.5h-1.5zM456.2,667.0h1.5v1.5h-1.5zM462.7,667.0h1.5v1.5h-1.5zM469.2,667.0h1.5v1.5h-1.5zM475.7,667.0h1.5v1.5h-1.5zM482.2,667.0h1.5v1.5h-1.5zM488.8,667.0h1.5v1.5h-1.5zM495.3,667.0h1.5v1.5h-1.5zM501.8,667.0h1.5v1.5h-1.5zM508.3,667.0h1.5v1.5h-1.5zM514.9,667.0h1.5v1.5h-1.5zM521.4,667.0h1.5v1.5h-1.5zM527.9,667.0h1.5v1.5h-1.5zM534.4,667.0h1.5v1.5h-1.5zM540.9,667.0h1.5v1.5h-1.5zM547.5,667.0h1.5v1.5h-1.5zM554.0,667.0h1.5v1.5h-1.5zM560.5,667.0h1.5v1.5h-1.5zM567.0,667.0h1.5v1.5h-1.5zM351.9,673.6h1.5v1.5h-1.5zM358.4,673.6h1.5v1.5h-1.5zM364.9,673.6h1.5v1.5h-1.5zM371.4,673.6h1.5v1.5h-1.5zM377.9,673.6h1.5v1.5h-1.5zM384.5,673.6h1.5v1.5h-1.5zM391.0,673.6h1.5v1.5h-1.5zM397.5,673.6h1.5v1.5h-1.5zM404.0,673.6h1.5v1.5h-1.5zM410.5,673.6h1.5v1.5h-1.5zM417.1,673.6h1.5v1.5h-1.5zM423.6,673.6h1.5v1.5h-1.5zM430.1,673.6h1.5v1.5h-1.5zM436.6,673.6h1.5v1.5h-1.5zM443.1,673.6h1.5v1.5h-1.5zM449.7,673.6h1.5v1.5h-1.5zM456.2,673.6h1.5v1.5h-1.5zM462.7,673.6h1.5v1.5h-1.5zM469.2,673.6h1.5v1.5h-1.5zM475.7,673.6h1.5v1.5h-1.5zM482.2,673.6h1.5v1.5h-1.5zM488.8,673.6h1.5v1.5h-1.5zM495.3,673.6h1.5v1.5h-1.5zM501.8,673.6h1.5v1.5h-1.5zM508.3,673.6h1.5v1.5h-1.5zM514.9,673.6h1.5v1.5h-1.5zM521.4,673.6h1.5v1.5h-1.5zM527.9,673.6h1.5v1.5h-1.5zM534.4,673.6h1.5v1.5h-1.5zM540.9,673.6h1.5v1.5h-1.5zM547.5,673.6h1.5v1.5h-1.5zM554.0,673.6h1.5v1.5h-1.5zM560.5,673.6h1.5v1.5h-1.5zM567.0,673.6h1.5v1.5h-1.5zM351.9,680.2h1.5v1.5h-1.5zM358.4,680.2h1.5v1.5h-1.5zM364.9,680.2h1.5v1.5h-1.5zM371.4,680.2h1.5v1.5h-1.5zM377.9,680.2h1.5v1.5h-1.5zM384.5,680.2h1.5v1.5h-1.5zM391.0,680.2h1.5v1.5h-1.5zM397.5,680.2h1.5v1.5h-1.5zM404.0,680.2h1.5v1.5h-1.5zM410.5,680.2h1.5v1.5h-1.5zM417.1,680.2h1.5v1.5h-1.5zM423.6,680.2h1.5v1.5h-1.5zM430.1,680.2h1.5v1.5h-1.5zM436.6,680.2h1.5v1.5h-1.5zM443.1,680.2h1.5v1.5h-1.5zM449.7,680.2h1.5v1.5h-1.5zM456.2,680.2h1.5v1.5h-1.5zM462.7,680.2h1.5v1.5h-1.5zM469.2,680.2h1.5v1.5h-1.5zM475.7,680.2h1.5v1.5h-1.5zM482.2,680.2h1.5v1.5h-1.5zM488.8,680.2h1.5v1.5h-1.5zM495.3,680.2h1.5v1.5h-1.5zM501.8,680.2h1.5v1.5h-1.5zM508.3,680.2h1.5v1.5h-1.5zM514.9,680.2h1.5v1.5h-1.5zM521.4,680.2h1.5v1.5h-1.5zM527.9,680.2h1.5v1.5h-1.5zM534.4,680.2h1.5v1.5h-1.5zM540.9,680.2h1.5v1.5h-1.5zM547.5,680.2h1.5v1.5h-1.5zM554.0,680.2h1.5v1.5h-1.5zM560.5,680.2h1.5v1.5h-1.5zM567.0,680.2h1.5v1.5h-1.5zM351.9,686.8h1.5v1.5h-1.5zM358.4,686.8h1.5v1.5h-1.5zM364.9,686.8h1.5v1.5h-1.5zM371.4,686.8h1.5v1.5h-1.5zM377.9,686.8h1.5v1.5h-1.5zM384.5,686.8h1.5v1.5h-1.5zM391.0,686.8h1.5v1.5h-1.5zM397.5,686.8h1.5v1.5h-1.5zM404.0,686.8h1.5v1.5h-1.5zM410.5,686.8h1.5v1.5h-1.5zM417.1,686.8h1.5v1.5h-1.5zM423.6,686.8h1.5v1.5h-1.5zM430.1,686.8h1.5v1.5h-1.5zM436.6,686.8h1.5v1.5h-1.5zM443.1,686.8h1.5v1.5h-1.5zM449.7,686.8h1.5v1.5h-1.5zM456.2,686.8h1.5v1.5h-1.5zM462.7,686.8h1.5v1.5h-1.5zM469.2,686.8h1.5v1.5h-1.5zM475.7,686.8h1.5v1.5h-1.5zM482.2,686.8h1.5v1.5h-1.5zM488.8,686.8h1.5v1.5h-1.5zM495.3,686.8h1.5v1.5h-1.5zM501.8,686.8h1.5v1.5h-1.5zM508.3,686.8h1.5v1.5h-1.5zM514.9,686.8h1.5v1.5h-1.5zM521.4,686.8h1.5v1.5h-1.5zM527.9,686.8h1.5v1.5h-1.5zM534.4,686.8h1.5v1.5h-1.5zM540.9,686.8h1.5v1.5h-1.5zM547.5,686.8h1.5v1.5h-1.5zM554.0,686.8h1.5v1.5h-1.5zM560.5,686.8h1.5v1.5h-1.5zM567.0,686.8h1.5v1.5h-1.5zM351.9,693.4h1.5v1.5h-1.5zM358.4,693.4h1.5v1.5h-1.5zM364.9,693.4h1.5v1.5h-1.5zM371.4,693.4h1.5v1.5h-1.5zM377.9,693.4h1.5v1.5h-1.5zM384.5,693.4h1.5v1.5h-1.5zM391.0,693.4h1.5v1.5h-1.5zM397.5,693.4h1.5v1.5h-1.5zM404.0,693.4h1.5v1.5h-1.5zM410.5,693.4h1.5v1.5h-1.5zM417.1,693.4h1.5v1.5h-1.5zM423.6,693.4h1.5v1.5h-1.5zM430.1,693.4h1.5v1.5h-1.5zM436.6,693.4h1.5v1.5h-1.5zM443.1,693.4h1.5v1.5h-1.5zM449.7,693.4h1.5v1.5h-1.5zM456.2,693.4h1.5v1.5h-1.5zM462.7,693.4h1.5v1.5h-1.5zM469.2,693.4h1.5v1.5h-1.5zM475.7,693.4h1.5v1.5h-1.5zM482.2,693.4h1.5v1.5h-1.5zM488.8,693.4h1.5v1.5h-1.5zM495.3,693.4h1.5v1.5h-1.5zM501.8,693.4h1.5v1.5h-1.5zM508.3,693.4h1.5v1.5h-1.5zM514.9,693.4h1.5v1.5h-1.5zM521.4,693.4h1.5v1.5h-1.5zM527.9,693.4h1.5v1.5h-1.5zM534.4,693.4h1.5v1.5h-1.5zM540.9,693.4h1.5v1.5h-1.5zM547.5,693.4h1.5v1.5h-1.5zM554.0,693.4h1.5v1.5h-1.5zM560.5,693.4h1.5v1.5h-1.5zM567.0,693.4h1.5v1.5h-1.5z" fill="#000"/>
<text x="384.4" y="428.8" font-size="10" fill="#222">0 nm</text>
<text x="373.6" y="525.9" font-size="10" fill="#222">100 nm</text>
<text x="372.6" y="623.1" font-size="10" fill="#222">200 nm</text>
<text x="327.5" y="417.8" font-size="10" font-weight="bold" fill="#111">d</text>
<text x="326.5" y="516.7" font-size="10" font-weight="bold" fill="#111">e</text>
<text x="326.8" y="613.5" font-size="10" font-weight="bold" fill="#111">f</text>
<text x="471.5" y="400.6" font-size="10" text-anchor="middle" fill="#222">Simulations – Cross section</text>
<text x="640.8" y="398.8" font-size="10" text-anchor="middle" fill="#222">MFM</text>
<text x="641.3" y="496.5" font-size="10" text-anchor="middle" fill="#222">0 mW</text>
<text x="643" y="595.3" font-size="10" text-anchor="middle" fill="#222">28 mW</text>
<text x="642.4" y="691.2" font-size="10" text-anchor="middle" fill="#222">31 mW</text>
<defs>
<filter id="fnoise" x="0" y="0" width="1" height="1" color-interpolation-filters="sRGB">
  <feTurbulence type="fractalNoise" baseFrequency="0.7" numOctaves="2" seed="13" result="n"/>
  <feColorMatrix in="n" type="matrix" values="1.6 0 0 0 -0.3  1.6 0 0 0 -0.3  1.6 0 0 0 -0.3  0 0 0 0 1"/>
</filter>
<filter id="fblur1" x="-0.2" y="-0.2" width="1.4" height="1.4"><feGaussianBlur stdDeviation="1.0"/></filter>
<filter id="fblur2" x="-0.2" y="-0.2" width="1.4" height="1.4"><feGaussianBlur stdDeviation="1.4"/></filter>
<filter id="fdisp_e" x="-0.1" y="-0.1" width="1.2" height="1.2" color-interpolation-filters="sRGB">
  <feTurbulence type="fractalNoise" baseFrequency="0.07 0.05" numOctaves="2" seed="23" result="t"/>
  <feDisplacementMap in="SourceGraphic" in2="t" scale="6" xChannelSelector="R" yChannelSelector="G" result="d"/>
  <feGaussianBlur in="d" stdDeviation="0.6"/>
</filter>
<linearGradient id="gmd" gradientUnits="userSpaceOnUse" x1="613.3" y1="415.3" x2="639.2" y2="404.2" spreadMethod="repeat">
  <stop offset="0" stop-color="#5e1400"/><stop offset="0.13" stop-color="#6e1c02"/><stop offset="0.22" stop-color="#c07032"/><stop offset="0.31" stop-color="#f6d8a2"/><stop offset="0.48" stop-color="#fce8c0"/><stop offset="0.64" stop-color="#f4d29a"/><stop offset="0.74" stop-color="#a8481a"/><stop offset="0.86" stop-color="#6a1a02"/><stop offset="1" stop-color="#5e1400"/>
</linearGradient>
<clipPath id="cmd"><rect x="607.1" y="415.3" width="68.6" height="69"/></clipPath>
<clipPath id="cme"><rect x="608.1" y="513.7" width="68.6" height="69"/></clipPath>
<clipPath id="cmf"><rect x="608.1" y="611.1" width="68.6" height="68.6"/></clipPath>
</defs>
<g clip-path="url(#cmd)">
<rect x="607.1" y="415.3" width="68.6" height="69" fill="url(#gmd)"/>
<rect x="607.1" y="415.3" width="68.6" height="69" filter="url(#fnoise)" style="mix-blend-mode:overlay" opacity="0.25"/>
</g>
<rect x="653.3" y="477.3" width="15.8" height="2.8" fill="#000"/>
<g clip-path="url(#cme)">
<rect x="608.1" y="513.7" width="68.6" height="69" fill="#762404"/>
<g filter="url(#fdisp_e)">
<path d="M543.0,590.0 L543.4,588.6 L543.9,587.1 L544.3,585.7 L544.8,584.3 L545.2,582.8 L545.7,581.4 L546.1,580.0 L546.5,578.5 L547.0,577.1 L547.4,575.7 L547.9,574.2 L548.3,572.8 L548.8,571.4 L549.2,569.9 L549.6,568.5 L550.1,567.1 L550.5,565.6 L551.0,564.2 L551.4,562.8 L551.9,561.3 L552.3,559.9 L552.8,558.5 L553.2,557.0 L553.6,555.6 L554.1,554.2 L554.5,552.7 L555.0,551.3 L555.4,549.9 L555.9,548.4 L556.3,547.0 L556.7,545.6 L557.2,544.1 L557.6,542.7 L558.1,541.3 L558.5,539.8 L559.0,538.4 L559.4,537.0 L559.8,535.5 L560.3,534.1 L560.7,532.7 L561.2,531.2 L561.6,529.8 L562.1,528.4 L562.5,526.9 L562.9,525.5 L563.4,524.1 L563.8,522.6 L564.3,521.2 L564.7,519.8 L565.2,518.3 L565.6,516.9 L566.1,515.5 L566.5,514.1 L566.9,512.6 L567.4,511.2 L567.8,509.8 L568.3,508.3 L568.7,506.9 L569.2,505.5 L569.6,504.0M552.0,590.0 L552.4,588.6 L552.9,587.1 L553.3,585.7 L553.8,584.3 L554.2,582.8 L554.7,581.4 L555.1,580.0 L555.5,578.5 L556.0,577.1 L556.4,575.7 L556.9,574.2 L557.3,572.8 L557.8,571.4 L558.2,569.9 L558.6,568.5 L559.1,567.1 L559.5,565.6 L560.0,564.2 L560.4,562.8 L560.9,561.3 L561.3,559.9 L561.8,558.5 L562.2,557.0 L562.6,555.6 L563.1,554.2 L563.5,552.7 L564.0,551.3 L564.4,549.9 L564.9,548.4 L565.3,547.0 L565.7,545.6 L566.2,544.1 L566.6,542.7 L567.1,541.3 L567.5,539.8 L568.0,538.4 L568.4,537.0 L568.8,535.5 L569.3,534.1 L569.7,532.7 L570.2,531.2 L570.6,529.8 L571.1,528.4 L571.5,526.9 L571.9,525.5 L572.4,524.1 L572.8,522.6 L573.3,521.2 L573.7,519.8 L574.2,518.3 L574.6,516.9 L575.1,515.5 L575.5,514.1 L575.9,512.6 L576.4,511.2 L576.8,509.8 L577.3,508.3 L577.7,506.9 L578.2,505.5 L578.6,504.0M561.0,590.0 L561.4,588.6 L561.9,587.1 L562.3,585.7 L562.8,584.3 L563.2,582.8 L563.7,581.4 L564.1,580.0 L564.5,578.5 L565.0,577.1 L565.4,575.7 L565.9,574.2 L566.3,572.8 L566.8,571.4 L567.2,569.9 L567.6,568.5 L568.1,567.1 L568.5,565.6 L569.0,564.2 L569.4,562.8 L569.9,561.3 L570.3,559.9 L570.8,558.5 L571.2,557.0 L571.6,555.6 L572.1,554.2 L572.5,552.7 L573.0,551.3 L573.4,549.9 L573.9,548.4 L574.3,547.0 L574.7,545.6 L575.2,544.1 L575.6,542.7 L576.1,541.3 L576.5,539.8 L577.0,538.4 L577.4,537.0 L577.8,535.5 L578.3,534.1 L578.7,532.7 L579.2,531.2 L579.6,529.8 L580.1,528.4 L580.5,526.9 L580.9,525.5 L581.4,524.1 L581.8,522.6 L582.3,521.2 L582.7,519.8 L583.2,518.3 L583.6,516.9 L584.1,515.5 L584.5,514.1 L584.9,512.6 L585.4,511.2 L585.8,509.8 L586.3,508.3 L586.7,506.9 L587.2,505.5 L587.6,504.0M570.0,590.0 L570.4,588.6 L570.9,587.1 L571.3,585.7 L571.8,584.3 L572.2,582.8 L572.7,581.4 L573.1,580.0 L573.5,578.5 L574.0,577.1 L574.4,575.7 L574.9,574.2 L575.3,572.8 L575.8,571.4 L576.2,569.9 L576.6,568.5 L577.1,567.1 L577.5,565.6 L578.0,564.2 L578.4,562.8 L578.9,561.3 L579.3,559.9 L579.8,558.5 L580.2,557.0 L580.6,555.6 L581.1,554.2 L581.5,552.7 L582.0,551.3 L582.4,549.9 L582.9,548.4 L583.3,547.0 L583.7,545.6 L584.2,544.1 L584.6,542.7 L585.1,541.3 L585.5,539.8 L586.0,538.4 L586.4,537.0 L586.8,535.5 L587.3,534.1 L587.7,532.7 L588.2,531.2 L588.6,529.8 L589.1,528.4 L589.5,526.9 L589.9,525.5 L590.4,524.1 L590.8,522.6 L591.3,521.2 L591.7,519.8 L592.2,518.3 L592.6,516.9 L593.1,515.5 L593.5,514.1 L593.9,512.6 L594.4,511.2 L594.8,509.8 L595.3,508.3 L595.7,506.9 L596.2,505.5 L596.6,504.0M579.0,590.0 L579.4,588.6 L579.9,587.1 L580.3,585.7 L580.8,584.3 L581.2,582.8 L581.7,581.4 L582.1,580.0 L582.5,578.5 L583.0,577.1 L583.4,575.7 L583.9,574.2 L584.3,572.8 L584.8,571.4 L585.2,569.9 L585.6,568.5 L586.1,567.1 L586.5,565.6 L587.0,564.2 L587.4,562.8 L587.9,561.3 L588.3,559.9 L588.8,558.5 L589.2,557.0 L589.6,555.6 L590.1,554.2 L590.5,552.7 L591.0,551.3 L591.4,549.9 L591.9,548.4 L592.3,547.0 L592.7,545.6 L593.2,544.1 L593.6,542.7 L594.1,541.3 L594.5,539.8 L595.0,538.4 L595.4,537.0 L595.8,535.5 L596.3,534.1 L596.7,532.7 L597.2,531.2 L597.6,529.8 L598.1,528.4 L598.5,526.9 L598.9,525.5 L599.4,524.1 L599.8,522.6 L600.3,521.2 L600.7,519.8 L601.2,518.4 L601.6,516.9 L602.1,515.5 L602.5,514.1 L602.9,512.6 L603.4,511.2 L603.8,509.8 L604.3,508.3 L604.7,506.9 L605.2,505.5 L605.6,504.0M588.0,590.0 L588.4,588.6 L588.9,587.1 L589.3,585.7 L589.8,584.3 L590.2,582.8 L590.7,581.4 L591.1,580.0 L591.5,578.5 L592.0,577.1 L592.4,575.7 L592.9,574.2 L593.3,572.8 L593.8,571.4 L594.2,569.9 L594.6,568.5 L595.1,567.1 L595.5,565.6 L596.0,564.2 L596.4,562.8 L596.9,561.3 L597.3,559.9 L597.8,558.5 L598.2,557.0 L598.6,555.6 L599.1,554.2 L599.5,552.7 L600.0,551.3 L600.4,549.9 L600.9,548.4 L601.3,547.0 L601.7,545.6 L602.2,544.1 L602.6,542.7 L603.1,541.3 L603.5,539.8 L604.0,538.4 L604.4,537.0 L604.8,535.5 L605.3,534.1 L605.7,532.7 L606.2,531.2 L606.6,529.8 L607.1,528.4 L607.5,526.9 L608.0,525.5 L608.4,524.1 L608.8,522.7 L609.3,521.2 L609.7,519.8 L610.2,518.4 L610.6,516.9 L611.1,515.5 L611.5,514.1 L612.0,512.6 L612.4,511.2 L612.8,509.8 L613.3,508.3 L613.7,506.9 L614.2,505.5 L614.6,504.0M597.0,590.0 L597.4,588.6 L597.9,587.1 L598.3,585.7 L598.8,584.3 L599.2,582.8 L599.7,581.4 L600.1,580.0 L600.5,578.5 L601.0,577.1 L601.4,575.7 L601.9,574.2 L602.3,572.8 L602.8,571.4 L603.2,569.9 L603.6,568.5 L604.1,567.1 L604.5,565.6 L605.0,564.2 L605.4,562.8 L605.9,561.3 L606.3,559.9 L606.8,558.5 L607.2,557.0 L607.6,555.6 L608.1,554.2 L608.5,552.7 L609.0,551.3 L609.4,549.9 L609.9,548.4 L610.3,547.0 L610.7,545.6 L611.2,544.1 L611.6,542.7 L612.1,541.3 L612.5,539.8 L613.0,538.4 L613.4,537.0 L613.9,535.5 L614.3,534.1 L614.7,532.7 L615.2,531.3 L615.6,529.8 L616.1,528.4 L616.5,527.0 L617.0,525.5 L617.4,524.1 L617.9,522.7 L618.3,521.2 L618.8,519.8 L619.2,518.4 L619.7,516.9 L620.1,515.5 L620.6,514.1 L621.0,512.6 L621.5,511.2 L621.9,509.8 L622.4,508.4 L622.8,506.9 L623.3,505.5 L623.7,504.1M606.0,590.0 L606.4,588.6 L606.9,587.1 L607.3,585.7 L607.8,584.3 L608.2,582.8 L608.7,581.4 L609.1,580.0 L609.5,578.5 L610.0,577.1 L610.4,575.7 L610.9,574.2 L611.3,572.8 L611.8,571.4 L612.2,569.9 L612.6,568.5 L613.1,567.1 L613.5,565.6 L614.0,564.2 L614.4,562.8 L614.9,561.3 L615.3,559.9 L615.8,558.5 L616.2,557.0 L616.6,555.6 L617.1,554.2 L617.5,552.7 L618.0,551.3 L618.4,549.9 L618.9,548.4 L619.3,547.0 L619.8,545.6 L620.2,544.1 L620.6,542.7 L621.1,541.3 L621.5,539.9 L622.0,538.4 L622.4,537.0 L622.9,535.6 L623.4,534.1 L623.8,532.7 L624.3,531.3 L624.7,529.8 L625.2,528.4 L625.6,527.0 L626.1,525.6 L626.6,524.1 L627.0,522.7 L627.5,521.3 L628.0,519.9 L628.5,518.4 L629.0,517.0 L629.4,515.6 L629.9,514.2 L630.4,512.8 L630.9,511.4 L631.4,509.9 L631.9,508.5 L632.4,507.1 L633.0,505.7 L633.5,504.3M615.0,590.0 L615.4,588.6 L615.9,587.1 L616.3,585.7 L616.8,584.3 L617.2,582.8 L617.7,581.4 L618.1,580.0 L618.5,578.5 L619.0,577.1 L619.4,575.7 L619.9,574.2 L620.3,572.8 L620.8,571.4 L621.2,569.9 L621.6,568.5 L622.1,567.1 L622.5,565.6 L623.0,564.2 L623.4,562.8 L623.9,561.3 L624.3,559.9 L624.8,558.5 L625.2,557.0 L625.6,555.6 L626.1,554.2 L626.5,552.7 L627.0,551.3 L627.4,549.9 L627.9,548.5 L628.3,547.0 L628.8,545.6 L629.3,544.2 L629.7,542.7 L630.2,541.3 L630.7,539.9 L631.2,538.5 L631.7,537.1 L632.2,535.6 L632.7,534.2 L633.2,532.8 L633.7,531.4 L634.3,530.0 L634.8,528.6 L635.4,527.2 L635.9,525.9 L636.5,524.5 L637.1,523.1 L637.7,521.7 L638.4,520.4 L639.1,519.0 L639.7,517.7 L640.4,516.4 L641.2,515.1 L642.0,513.8 L642.8,512.5 L643.6,511.3 L644.5,510.0 L645.4,508.9 L646.3,507.7 L647.3,506.6 L648.4,505.5 L649.4,504.4M624.0,590.0 L624.4,588.6 L624.9,587.1 L625.3,585.7 L625.8,584.3 L626.2,582.8 L626.7,581.4 L627.1,580.0 L627.5,578.5 L628.0,577.1 L628.4,575.7 L628.9,574.2 L629.3,572.8 L629.8,571.4 L630.2,569.9 L630.7,568.5 L631.1,567.1 L631.5,565.6 L632.0,564.2 L632.4,562.8 L632.9,561.3 L633.3,559.9 L633.8,558.5 L634.2,557.0 L634.7,555.6 L635.1,554.2 L635.6,552.8 L636.1,551.3 L636.5,549.9 L637.0,548.5 L637.5,547.1 L638.0,545.7 L638.6,544.3 L639.2,542.9 L639.7,541.5 L640.4,540.1 L641.0,538.8 L641.7,537.5 L642.5,536.2 L643.2,534.9 L644.0,533.6 L644.9,532.4 L645.8,531.2 L646.7,530.0 L647.7,528.9 L648.8,527.8 L649.8,526.7 L650.9,525.7 L652.1,524.8 L653.2,523.8 L654.4,522.9 L655.7,522.0 L656.9,521.2 L658.1,520.3 L659.4,519.5 L660.7,518.7 L661.9,517.9 L663.2,517.1 L664.5,516.4 L665.8,515.6 L667.1,514.8 L668.4,514.1 L669.7,513.3 L671.0,512.6 L672.3,511.8 L673.6,511.1 L674.8,510.3 L676.1,509.6 L677.4,508.8 L678.7,508.1 L680.0,507.3 L681.3,506.6 L682.6,505.8 L683.9,505.1 L685.3,504.3M633.0,590.0 L633.4,588.6 L633.9,587.1 L634.3,585.7 L634.8,584.3 L635.2,582.8 L635.7,581.4 L636.1,580.0 L636.5,578.5 L637.0,577.1 L637.4,575.7 L637.9,574.2 L638.3,572.8 L638.8,571.4 L639.2,569.9 L639.7,568.5 L640.1,567.1 L640.5,565.6 L641.0,564.2 L641.4,562.8 L641.9,561.4 L642.4,559.9 L642.8,558.5 L643.3,557.1 L643.8,555.6 L644.3,554.2 L644.8,552.8 L645.3,551.4 L645.9,550.0 L646.5,548.7 L647.1,547.3 L647.8,546.0 L648.5,544.7 L649.3,543.4 L650.2,542.2 L651.1,541.0 L652.1,539.8 L653.1,538.7 L654.1,537.7 L655.2,536.6 L656.4,535.7 L657.5,534.7 L658.7,533.8 L659.9,532.9 L661.2,532.0 L662.4,531.2 L663.6,530.4 L664.9,529.5 L666.2,528.7 L667.4,527.9 L668.7,527.2 L670.0,526.4 L671.3,525.6 L672.6,524.8 L673.9,524.1 L675.2,523.3 L676.4,522.5 L677.7,521.8 L679.0,521.0 L680.3,520.3 L681.6,519.5 L682.9,518.8 L684.2,518.0 L685.5,517.3 L686.8,516.5 L688.1,515.8 L689.4,515.0 L690.7,514.3 L692.0,513.5 L693.3,512.8 L694.6,512.0 L695.9,511.3 L697.2,510.5 L698.5,509.8 L699.8,509.0 L701.1,508.3 L702.4,507.5 L703.7,506.8 L705.0,506.0 L706.3,505.3 L707.6,504.5M642.0,590.0 L642.4,588.6 L642.9,587.1 L643.3,585.7 L643.8,584.3 L644.2,582.8 L644.7,581.4 L645.1,580.0 L645.5,578.5 L646.0,577.1 L646.4,575.7 L646.9,574.2 L647.3,572.8 L647.8,571.4 L648.2,569.9 L648.7,568.5 L649.1,567.1 L649.6,565.6 L650.0,564.2 L650.5,562.8 L650.9,561.4 L651.4,559.9 L651.9,558.5 L652.4,557.1 L652.9,555.7 L653.5,554.3 L654.0,552.9 L654.6,551.5 L655.3,550.2 L655.9,548.8 L656.7,547.5 L657.5,546.3 L658.3,545.0 L659.2,543.8 L660.2,542.7 L661.2,541.6 L662.3,540.5 L663.3,539.5 L664.5,538.5 L665.6,537.5 L666.8,536.6 L668.0,535.7 L669.2,534.8 L670.4,534.0 L671.7,533.1 L672.9,532.3 L674.2,531.5 L675.4,530.6 L676.7,529.8 L678.0,529.1 L679.3,528.3 L680.6,527.5 L681.8,526.7 L683.1,525.9 L684.4,525.2 L685.7,524.4 L687.0,523.6 L688.3,522.9 L689.6,522.1 L690.9,521.4 L692.2,520.6 L693.5,519.9 L694.8,519.1 L696.1,518.4 L697.4,517.6 L698.7,516.9 L700.0,516.1 L701.3,515.4 L702.6,514.6 L703.9,513.9 L705.2,513.1 L706.5,512.4 L707.8,511.6 L709.1,510.9 L710.4,510.1 L711.7,509.4 L713.0,508.6 L714.3,507.9 L715.6,507.1 L716.9,506.4 L718.2,505.6 L719.5,504.9M651.0,590.0 L651.4,588.6 L651.9,587.1 L652.3,585.7 L652.8,584.3 L653.2,582.8 L653.7,581.4 L654.1,580.0 L654.5,578.5 L655.0,577.1 L655.4,575.7 L655.9,574.2 L656.3,572.8 L656.8,571.4 L657.2,569.9 L657.7,568.5 L658.1,567.1 L658.6,565.7 L659.0,564.2 L659.5,562.8 L660.0,561.4 L660.5,560.0 L661.0,558.5 L661.5,557.1 L662.0,555.7 L662.5,554.3 L663.1,552.9 L663.7,551.6 L664.4,550.2 L665.1,548.9 L665.9,547.6 L666.7,546.4 L667.5,545.1 L668.5,544.0 L669.5,542.8 L670.5,541.7 L671.5,540.7 L672.6,539.6 L673.8,538.7 L674.9,537.7 L676.1,536.8 L677.3,535.9 L678.5,535.0 L679.8,534.1 L681.0,533.3 L682.3,532.5 L683.5,531.7 L684.8,530.8 L686.0,530.0 L687.3,529.3 L688.6,528.5 L689.9,527.7 L691.2,526.9 L692.4,526.1 L693.7,525.4 L695.0,524.6 L696.3,523.8 L697.6,523.1 L698.9,522.3 L700.2,521.6 L701.5,520.8 L702.8,520.1 L704.1,519.3 L705.4,518.6 L706.7,517.8 L708.0,517.0 L709.3,516.3 L710.6,515.6 L711.9,514.8 L713.2,514.1 L714.5,513.3 L715.8,512.6 L717.1,511.8 L718.4,511.1 L719.7,510.3 L721.0,509.6 L722.3,508.8 L723.6,508.1 L724.9,507.3 L726.2,506.6 L727.5,505.8 L728.8,505.1 L730.1,504.3M660.0,590.0 L660.4,588.6 L660.9,587.1 L661.3,585.7 L661.8,584.3 L662.2,582.8 L662.7,581.4 L663.1,580.0 L663.5,578.5 L664.0,577.1 L664.4,575.7 L664.9,574.2 L665.3,572.8 L665.8,571.4 L666.2,569.9 L666.7,568.5 L667.1,567.1 L667.6,565.7 L668.0,564.2 L668.5,562.8 L669.0,561.4 L669.5,560.0 L670.0,558.5 L670.5,557.1 L671.0,555.7 L671.6,554.3 L672.1,553.0 L672.8,551.6 L673.4,550.2 L674.1,548.9 L674.9,547.6 L675.7,546.4 L676.6,545.2 L677.5,544.0 L678.5,542.8 L679.5,541.7 L680.6,540.7 L681.7,539.7 L682.8,538.7 L684.0,537.7 L685.2,536.8 L686.4,535.9 L687.6,535.0 L688.8,534.2 L690.1,533.3 L691.3,532.5 L692.6,531.7 L693.8,530.9 L695.1,530.1 L696.4,529.3 L697.6,528.5 L698.9,527.7 L700.2,526.9 L701.5,526.2 L702.8,525.4 L704.1,524.6 L705.4,523.9 L706.7,523.1 L708.0,522.4 L709.2,521.6 L710.5,520.8 L711.8,520.1 L713.1,519.3 L714.4,518.6 L715.7,517.8 L717.0,517.1 L718.3,516.3 L719.6,515.6 L720.9,514.8 L722.2,514.1 L723.5,513.3 L724.8,512.6 L726.1,511.8 L727.4,511.1 L728.7,510.3 L730.0,509.6 L731.3,508.9 L732.6,508.1 L733.9,507.4 L735.2,506.6 L736.5,505.9 L737.8,505.1 L739.1,504.4M669.0,590.0 L669.4,588.6 L669.9,587.1 L670.3,585.7 L670.8,584.3 L671.2,582.8 L671.7,581.4 L672.1,580.0 L672.5,578.5 L673.0,577.1 L673.4,575.7 L673.9,574.2 L674.3,572.8 L674.8,571.4 L675.2,569.9 L675.7,568.5 L676.1,567.1 L676.6,565.7 L677.0,564.2 L677.5,562.8 L678.0,561.4 L678.5,560.0 L679.0,558.5 L679.5,557.1 L680.0,555.7 L680.6,554.3 L681.1,553.0 L681.8,551.6 L682.4,550.2 L683.1,548.9 L683.9,547.6 L684.7,546.4 L685.6,545.2 L686.5,544.0 L687.5,542.8 L688.5,541.8 L689.6,540.7 L690.7,539.7 L691.8,538.7 L693.0,537.8 L694.2,536.8 L695.4,535.9 L696.6,535.0 L697.8,534.2 L699.1,533.3 L700.3,532.5 L701.6,531.7 L702.8,530.9 L704.1,530.1 L705.4,529.3 L706.7,528.5 L707.9,527.7 L709.2,526.9 L710.5,526.2 L711.8,525.4 L713.1,524.6 L714.4,523.9 L715.7,523.1 L717.0,522.4 L718.3,521.6 L719.6,520.8 L720.9,520.1 L722.1,519.3 L723.4,518.6 L724.7,517.8 L726.0,517.1 L727.3,516.3 L728.6,515.6 L729.9,514.8 L731.2,514.1 L732.5,513.3 L733.8,512.6 L735.1,511.8 L736.4,511.1 L737.7,510.4 L739.0,509.6 L740.3,508.9 L741.6,508.1 L742.9,507.4 L744.2,506.6 L745.5,505.9 L746.8,505.1 L748.1,504.4M678.0,590.0 L678.4,588.6 L678.9,587.1 L679.3,585.7 L679.8,584.3 L680.2,582.8 L680.7,581.4 L681.1,580.0 L681.5,578.5 L682.0,577.1 L682.4,575.7 L682.9,574.2 L683.3,572.8 L683.8,571.4 L684.2,569.9 L684.7,568.5 L685.1,567.1 L685.6,565.7 L686.0,564.2 L686.5,562.8 L687.0,561.4 L687.5,560.0 L688.0,558.5 L688.5,557.1 L689.0,555.7 L689.6,554.3 L690.1,553.0 L690.8,551.6 L691.4,550.2 L692.1,548.9 L692.9,547.6 L693.7,546.4 L694.6,545.2 L695.5,544.0 L696.5,542.8 L697.5,541.8 L698.6,540.7 L699.7,539.7 L700.8,538.7 L702.0,537.8 L703.2,536.8 L704.4,535.9 L705.6,535.1 L706.8,534.2 L708.1,533.3 L709.3,532.5 L710.6,531.7 L711.8,530.9 L713.1,530.1 L714.4,529.3 L715.7,528.5 L716.9,527.7 L718.2,526.9 L719.5,526.2 L720.8,525.4 L722.1,524.6 L723.4,523.9 L724.7,523.1 L726.0,522.4 L727.3,521.6 L728.6,520.8 L729.9,520.1 L731.2,519.3 L732.4,518.6 L733.7,517.8 L735.0,517.1 L736.3,516.3 L737.6,515.6 L738.9,514.8 L740.2,514.1 L741.5,513.3 L742.8,512.6 L744.1,511.8 L745.4,511.1 L746.7,510.4 L748.0,509.6 L749.3,508.9 L750.6,508.1 L751.9,507.4 L753.2,506.6 L754.5,505.9 L755.9,505.1 L757.2,504.4M687.0,590.0 L687.4,588.6 L687.9,587.1 L688.3,585.7 L688.8,584.3 L689.2,582.8 L689.7,581.4 L690.1,580.0 L690.5,578.5 L691.0,577.1 L691.4,575.7 L691.9,574.2 L692.3,572.8 L692.8,571.4 L693.2,569.9 L693.7,568.5 L694.1,567.1 L694.6,565.7 L695.0,564.2 L695.5,562.8 L696.0,561.4 L696.5,560.0 L697.0,558.5 L697.5,557.1 L698.0,555.7 L698.6,554.3 L699.1,553.0 L699.8,551.6 L700.4,550.2 L701.1,548.9 L701.9,547.6 L702.7,546.4 L703.6,545.2 L704.5,544.0 L705.5,542.8 L706.5,541.8 L707.6,540.7 L708.7,539.7 L709.8,538.7 L711.0,537.8 L712.2,536.8 L713.4,535.9 L714.6,535.1 L715.8,534.2 L717.1,533.3 L718.3,532.5 L719.6,531.7 L720.8,530.9 L722.1,530.1 L723.4,529.3 L724.7,528.5 L725.9,527.7 L727.2,526.9 L728.5,526.2 L729.8,525.4 L731.1,524.6 L732.4,523.9 L733.7,523.1 L735.0,522.4 L736.3,521.6 L737.6,520.8 L738.9,520.1 L740.2,519.3 L741.4,518.6 L742.7,517.8 L744.0,517.1 L745.3,516.3 L746.6,515.6 L747.9,514.8 L749.2,514.1 L750.5,513.3 L751.8,512.6 L753.1,511.8 L754.4,511.1 L755.7,510.4 L757.0,509.6 L758.3,508.9 L759.6,508.1 L760.9,507.4 L762.2,506.6 L763.5,505.9 L764.9,505.1 L766.2,504.4" fill="none" stroke="#c0602a" stroke-width="5.0"/>
<path d="M543.0,590.0 L543.4,588.6 L543.9,587.1 L544.3,585.7 L544.8,584.3 L545.2,582.8 L545.7,581.4 L546.1,580.0 L546.5,578.5 L547.0,577.1 L547.4,575.7 L547.9,574.2 L548.3,572.8 L548.8,571.4 L549.2,569.9 L549.6,568.5 L550.1,567.1 L550.5,565.6 L551.0,564.2 L551.4,562.8 L551.9,561.3 L552.3,559.9 L552.8,558.5 L553.2,557.0 L553.6,555.6 L554.1,554.2 L554.5,552.7 L555.0,551.3 L555.4,549.9 L555.9,548.4 L556.3,547.0 L556.7,545.6 L557.2,544.1 L557.6,542.7 L558.1,541.3 L558.5,539.8 L559.0,538.4 L559.4,537.0 L559.8,535.5 L560.3,534.1 L560.7,532.7 L561.2,531.2 L561.6,529.8 L562.1,528.4 L562.5,526.9 L562.9,525.5 L563.4,524.1 L563.8,522.6 L564.3,521.2 L564.7,519.8 L565.2,518.3 L565.6,516.9 L566.1,515.5 L566.5,514.1 L566.9,512.6 L567.4,511.2 L567.8,509.8 L568.3,508.3 L568.7,506.9 L569.2,505.5 L569.6,504.0M552.0,590.0 L552.4,588.6 L552.9,587.1 L553.3,585.7 L553.8,584.3 L554.2,582.8 L554.7,581.4 L555.1,580.0 L555.5,578.5 L556.0,577.1 L556.4,575.7 L556.9,574.2 L557.3,572.8 L557.8,571.4 L558.2,569.9 L558.6,568.5 L559.1,567.1 L559.5,565.6 L560.0,564.2 L560.4,562.8 L560.9,561.3 L561.3,559.9 L561.8,558.5 L562.2,557.0 L562.6,555.6 L563.1,554.2 L563.5,552.7 L564.0,551.3 L564.4,549.9 L564.9,548.4 L565.3,547.0 L565.7,545.6 L566.2,544.1 L566.6,542.7 L567.1,541.3 L567.5,539.8 L568.0,538.4 L568.4,537.0 L568.8,535.5 L569.3,534.1 L569.7,532.7 L570.2,531.2 L570.6,529.8 L571.1,528.4 L571.5,526.9 L571.9,525.5 L572.4,524.1 L572.8,522.6 L573.3,521.2 L573.7,519.8 L574.2,518.3 L574.6,516.9 L575.1,515.5 L575.5,514.1 L575.9,512.6 L576.4,511.2 L576.8,509.8 L577.3,508.3 L577.7,506.9 L578.2,505.5 L578.6,504.0M561.0,590.0 L561.4,588.6 L561.9,587.1 L562.3,585.7 L562.8,584.3 L563.2,582.8 L563.7,581.4 L564.1,580.0 L564.5,578.5 L565.0,577.1 L565.4,575.7 L565.9,574.2 L566.3,572.8 L566.8,571.4 L567.2,569.9 L567.6,568.5 L568.1,567.1 L568.5,565.6 L569.0,564.2 L569.4,562.8 L569.9,561.3 L570.3,559.9 L570.8,558.5 L571.2,557.0 L571.6,555.6 L572.1,554.2 L572.5,552.7 L573.0,551.3 L573.4,549.9 L573.9,548.4 L574.3,547.0 L574.7,545.6 L575.2,544.1 L575.6,542.7 L576.1,541.3 L576.5,539.8 L577.0,538.4 L577.4,537.0 L577.8,535.5 L578.3,534.1 L578.7,532.7 L579.2,531.2 L579.6,529.8 L580.1,528.4 L580.5,526.9 L580.9,525.5 L581.4,524.1 L581.8,522.6 L582.3,521.2 L582.7,519.8 L583.2,518.3 L583.6,516.9 L584.1,515.5 L584.5,514.1 L584.9,512.6 L585.4,511.2 L585.8,509.8 L586.3,508.3 L586.7,506.9 L587.2,505.5 L587.6,504.0M570.0,590.0 L570.4,588.6 L570.9,587.1 L571.3,585.7 L571.8,584.3 L572.2,582.8 L572.7,581.4 L573.1,580.0 L573.5,578.5 L574.0,577.1 L574.4,575.7 L574.9,574.2 L575.3,572.8 L575.8,571.4 L576.2,569.9 L576.6,568.5 L577.1,567.1 L577.5,565.6 L578.0,564.2 L578.4,562.8 L578.9,561.3 L579.3,559.9 L579.8,558.5 L580.2,557.0 L580.6,555.6 L581.1,554.2 L581.5,552.7 L582.0,551.3 L582.4,549.9 L582.9,548.4 L583.3,547.0 L583.7,545.6 L584.2,544.1 L584.6,542.7 L585.1,541.3 L585.5,539.8 L586.0,538.4 L586.4,537.0 L586.8,535.5 L587.3,534.1 L587.7,532.7 L588.2,531.2 L588.6,529.8 L589.1,528.4 L589.5,526.9 L589.9,525.5 L590.4,524.1 L590.8,522.6 L591.3,521.2 L591.7,519.8 L592.2,518.3 L592.6,516.9 L593.1,515.5 L593.5,514.1 L593.9,512.6 L594.4,511.2 L594.8,509.8 L595.3,508.3 L595.7,506.9 L596.2,505.5 L596.6,504.0M579.0,590.0 L579.4,588.6 L579.9,587.1 L580.3,585.7 L580.8,584.3 L581.2,582.8 L581.7,581.4 L582.1,580.0 L582.5,578.5 L583.0,577.1 L583.4,575.7 L583.9,574.2 L584.3,572.8 L584.8,571.4 L585.2,569.9 L585.6,568.5 L586.1,567.1 L586.5,565.6 L587.0,564.2 L587.4,562.8 L587.9,561.3 L588.3,559.9 L588.8,558.5 L589.2,557.0 L589.6,555.6 L590.1,554.2 L590.5,552.7 L591.0,551.3 L591.4,549.9 L591.9,548.4 L592.3,547.0 L592.7,545.6 L593.2,544.1 L593.6,542.7 L594.1,541.3 L594.5,539.8 L595.0,538.4 L595.4,537.0 L595.8,535.5 L596.3,534.1 L596.7,532.7 L597.2,531.2 L597.6,529.8 L598.1,528.4 L598.5,526.9 L598.9,525.5 L599.4,524.1 L599.8,522.6 L600.3,521.2 L600.7,519.8 L601.2,518.4 L601.6,516.9 L602.1,515.5 L602.5,514.1 L602.9,512.6 L603.4,511.2 L603.8,509.8 L604.3,508.3 L604.7,506.9 L605.2,505.5 L605.6,504.0M588.0,590.0 L588.4,588.6 L588.9,587.1 L589.3,585.7 L589.8,584.3 L590.2,582.8 L590.7,581.4 L591.1,580.0 L591.5,578.5 L592.0,577.1 L592.4,575.7 L592.9,574.2 L593.3,572.8 L593.8,571.4 L594.2,569.9 L594.6,568.5 L595.1,567.1 L595.5,565.6 L596.0,564.2 L596.4,562.8 L596.9,561.3 L597.3,559.9 L597.8,558.5 L598.2,557.0 L598.6,555.6 L599.1,554.2 L599.5,552.7 L600.0,551.3 L600.4,549.9 L600.9,548.4 L601.3,547.0 L601.7,545.6 L602.2,544.1 L602.6,542.7 L603.1,541.3 L603.5,539.8 L604.0,538.4 L604.4,537.0 L604.8,535.5 L605.3,534.1 L605.7,532.7 L606.2,531.2 L606.6,529.8 L607.1,528.4 L607.5,526.9 L608.0,525.5 L608.4,524.1 L608.8,522.7 L609.3,521.2 L609.7,519.8 L610.2,518.4 L610.6,516.9 L611.1,515.5 L611.5,514.1 L612.0,512.6 L612.4,511.2 L612.8,509.8 L613.3,508.3 L613.7,506.9 L614.2,505.5 L614.6,504.0M597.0,590.0 L597.4,588.6 L597.9,587.1 L598.3,585.7 L598.8,584.3 L599.2,582.8 L599.7,581.4 L600.1,580.0 L600.5,578.5 L601.0,577.1 L601.4,575.7 L601.9,574.2 L602.3,572.8 L602.8,571.4 L603.2,569.9 L603.6,568.5 L604.1,567.1 L604.5,565.6 L605.0,564.2 L605.4,562.8 L605.9,561.3 L606.3,559.9 L606.8,558.5 L607.2,557.0 L607.6,555.6 L608.1,554.2 L608.5,552.7 L609.0,551.3 L609.4,549.9 L609.9,548.4 L610.3,547.0 L610.7,545.6 L611.2,544.1 L611.6,542.7 L612.1,541.3 L612.5,539.8 L613.0,538.4 L613.4,537.0 L613.9,535.5 L614.3,534.1 L614.7,532.7 L615.2,531.3 L615.6,529.8 L616.1,528.4 L616.5,527.0 L617.0,525.5 L617.4,524.1 L617.9,522.7 L618.3,521.2 L618.8,519.8 L619.2,518.4 L619.7,516.9 L620.1,515.5 L620.6,514.1 L621.0,512.6 L621.5,511.2 L621.9,509.8 L622.4,508.4 L622.8,506.9 L623.3,505.5 L623.7,504.1M606.0,590.0 L606.4,588.6 L606.9,587.1 L607.3,585.7 L607.8,584.3 L608.2,582.8 L608.7,581.4 L609.1,580.0 L609.5,578.5 L610.0,577.1 L610.4,575.7 L610.9,574.2 L611.3,572.8 L611.8,571.4 L612.2,569.9 L612.6,568.5 L613.1,567.1 L613.5,565.6 L614.0,564.2 L614.4,562.8 L614.9,561.3 L615.3,559.9 L615.8,558.5 L616.2,557.0 L616.6,555.6 L617.1,554.2 L617.5,552.7 L618.0,551.3 L618.4,549.9 L618.9,548.4 L619.3,547.0 L619.8,545.6 L620.2,544.1 L620.6,542.7 L621.1,541.3 L621.5,539.9 L622.0,538.4 L622.4,537.0 L622.9,535.6 L623.4,534.1 L623.8,532.7 L624.3,531.3 L624.7,529.8 L625.2,528.4 L625.6,527.0 L626.1,525.6 L626.6,524.1 L627.0,522.7 L627.5,521.3 L628.0,519.9 L628.5,518.4 L629.0,517.0 L629.4,515.6 L629.9,514.2 L630.4,512.8 L630.9,511.4 L631.4,509.9 L631.9,508.5 L632.4,507.1 L633.0,505.7 L633.5,504.3M615.0,590.0 L615.4,588.6 L615.9,587.1 L616.3,585.7 L616.8,584.3 L617.2,582.8 L617.7,581.4 L618.1,580.0 L618.5,578.5 L619.0,577.1 L619.4,575.7 L619.9,574.2 L620.3,572.8 L620.8,571.4 L621.2,569.9 L621.6,568.5 L622.1,567.1 L622.5,565.6 L623.0,564.2 L623.4,562.8 L623.9,561.3 L624.3,559.9 L624.8,558.5 L625.2,557.0 L625.6,555.6 L626.1,554.2 L626.5,552.7 L627.0,551.3 L627.4,549.9 L627.9,548.5 L628.3,547.0 L628.8,545.6 L629.3,544.2 L629.7,542.7 L630.2,541.3 L630.7,539.9 L631.2,538.5 L631.7,537.1 L632.2,535.6 L632.7,534.2 L633.2,532.8 L633.7,531.4 L634.3,530.0 L634.8,528.6 L635.4,527.2 L635.9,525.9 L636.5,524.5 L637.1,523.1 L637.7,521.7 L638.4,520.4 L639.1,519.0 L639.7,517.7 L640.4,516.4 L641.2,515.1 L642.0,513.8 L642.8,512.5 L643.6,511.3 L644.5,510.0 L645.4,508.9 L646.3,507.7 L647.3,506.6 L648.4,505.5 L649.4,504.4M624.0,590.0 L624.4,588.6 L624.9,587.1 L625.3,585.7 L625.8,584.3 L626.2,582.8 L626.7,581.4 L627.1,580.0 L627.5,578.5 L628.0,577.1 L628.4,575.7 L628.9,574.2 L629.3,572.8 L629.8,571.4 L630.2,569.9 L630.7,568.5 L631.1,567.1 L631.5,565.6 L632.0,564.2 L632.4,562.8 L632.9,561.3 L633.3,559.9 L633.8,558.5 L634.2,557.0 L634.7,555.6 L635.1,554.2 L635.6,552.8 L636.1,551.3 L636.5,549.9 L637.0,548.5 L637.5,547.1 L638.0,545.7 L638.6,544.3 L639.2,542.9 L639.7,541.5 L640.4,540.1 L641.0,538.8 L641.7,537.5 L642.5,536.2 L643.2,534.9 L644.0,533.6 L644.9,532.4 L645.8,531.2 L646.7,530.0 L647.7,528.9 L648.8,527.8 L649.8,526.7 L650.9,525.7 L652.1,524.8 L653.2,523.8 L654.4,522.9 L655.7,522.0 L656.9,521.2 L658.1,520.3 L659.4,519.5 L660.7,518.7 L661.9,517.9 L663.2,517.1 L664.5,516.4 L665.8,515.6 L667.1,514.8 L668.4,514.1 L669.7,513.3 L671.0,512.6 L672.3,511.8 L673.6,511.1 L674.8,510.3 L676.1,509.6 L677.4,508.8 L678.7,508.1 L680.0,507.3 L681.3,506.6 L682.6,505.8 L683.9,505.1 L685.3,504.3M633.0,590.0 L633.4,588.6 L633.9,587.1 L634.3,585.7 L634.8,584.3 L635.2,582.8 L635.7,581.4 L636.1,580.0 L636.5,578.5 L637.0,577.1 L637.4,575.7 L637.9,574.2 L638.3,572.8 L638.8,571.4 L639.2,569.9 L639.7,568.5 L640.1,567.1 L640.5,565.6 L641.0,564.2 L641.4,562.8 L641.9,561.4 L642.4,559.9 L642.8,558.5 L643.3,557.1 L643.8,555.6 L644.3,554.2 L644.8,552.8 L645.3,551.4 L645.9,550.0 L646.5,548.7 L647.1,547.3 L647.8,546.0 L648.5,544.7 L649.3,543.4 L650.2,542.2 L651.1,541.0 L652.1,539.8 L653.1,538.7 L654.1,537.7 L655.2,536.6 L656.4,535.7 L657.5,534.7 L658.7,533.8 L659.9,532.9 L661.2,532.0 L662.4,531.2 L663.6,530.4 L664.9,529.5 L666.2,528.7 L667.4,527.9 L668.7,527.2 L670.0,526.4 L671.3,525.6 L672.6,524.8 L673.9,524.1 L675.2,523.3 L676.4,522.5 L677.7,521.8 L679.0,521.0 L680.3,520.3 L681.6,519.5 L682.9,518.8 L684.2,518.0 L685.5,517.3 L686.8,516.5 L688.1,515.8 L689.4,515.0 L690.7,514.3 L692.0,513.5 L693.3,512.8 L694.6,512.0 L695.9,511.3 L697.2,510.5 L698.5,509.8 L699.8,509.0 L701.1,508.3 L702.4,507.5 L703.7,506.8 L705.0,506.0 L706.3,505.3 L707.6,504.5M642.0,590.0 L642.4,588.6 L642.9,587.1 L643.3,585.7 L643.8,584.3 L644.2,582.8 L644.7,581.4 L645.1,580.0 L645.5,578.5 L646.0,577.1 L646.4,575.7 L646.9,574.2 L647.3,572.8 L647.8,571.4 L648.2,569.9 L648.7,568.5 L649.1,567.1 L649.6,565.6 L650.0,564.2 L650.5,562.8 L650.9,561.4 L651.4,559.9 L651.9,558.5 L652.4,557.1 L652.9,555.7 L653.5,554.3 L654.0,552.9 L654.6,551.5 L655.3,550.2 L655.9,548.8 L656.7,547.5 L657.5,546.3 L658.3,545.0 L659.2,543.8 L660.2,542.7 L661.2,541.6 L662.3,540.5 L663.3,539.5 L664.5,538.5 L665.6,537.5 L666.8,536.6 L668.0,535.7 L669.2,534.8 L670.4,534.0 L671.7,533.1 L672.9,532.3 L674.2,531.5 L675.4,530.6 L676.7,529.8 L678.0,529.1 L679.3,528.3 L680.6,527.5 L681.8,526.7 L683.1,525.9 L684.4,525.2 L685.7,524.4 L687.0,523.6 L688.3,522.9 L689.6,522.1 L690.9,521.4 L692.2,520.6 L693.5,519.9 L694.8,519.1 L696.1,518.4 L697.4,517.6 L698.7,516.9 L700.0,516.1 L701.3,515.4 L702.6,514.6 L703.9,513.9 L705.2,513.1 L706.5,512.4 L707.8,511.6 L709.1,510.9 L710.4,510.1 L711.7,509.4 L713.0,508.6 L714.3,507.9 L715.6,507.1 L716.9,506.4 L718.2,505.6 L719.5,504.9M651.0,590.0 L651.4,588.6 L651.9,587.1 L652.3,585.7 L652.8,584.3 L653.2,582.8 L653.7,581.4 L654.1,580.0 L654.5,578.5 L655.0,577.1 L655.4,575.7 L655.9,574.2 L656.3,572.8 L656.8,571.4 L657.2,569.9 L657.7,568.5 L658.1,567.1 L658.6,565.7 L659.0,564.2 L659.5,562.8 L660.0,561.4 L660.5,560.0 L661.0,558.5 L661.5,557.1 L662.0,555.7 L662.5,554.3 L663.1,552.9 L663.7,551.6 L664.4,550.2 L665.1,548.9 L665.9,547.6 L666.7,546.4 L667.5,545.1 L668.5,544.0 L669.5,542.8 L670.5,541.7 L671.5,540.7 L672.6,539.6 L673.8,538.7 L674.9,537.7 L676.1,536.8 L677.3,535.9 L678.5,535.0 L679.8,534.1 L681.0,533.3 L682.3,532.5 L683.5,531.7 L684.8,530.8 L686.0,530.0 L687.3,529.3 L688.6,528.5 L689.9,527.7 L691.2,526.9 L692.4,526.1 L693.7,525.4 L695.0,524.6 L696.3,523.8 L697.6,523.1 L698.9,522.3 L700.2,521.6 L701.5,520.8 L702.8,520.1 L704.1,519.3 L705.4,518.6 L706.7,517.8 L708.0,517.0 L709.3,516.3 L710.6,515.6 L711.9,514.8 L713.2,514.1 L714.5,513.3 L715.8,512.6 L717.1,511.8 L718.4,511.1 L719.7,510.3 L721.0,509.6 L722.3,508.8 L723.6,508.1 L724.9,507.3 L726.2,506.6 L727.5,505.8 L728.8,505.1 L730.1,504.3M660.0,590.0 L660.4,588.6 L660.9,587.1 L661.3,585.7 L661.8,584.3 L662.2,582.8 L662.7,581.4 L663.1,580.0 L663.5,578.5 L664.0,577.1 L664.4,575.7 L664.9,574.2 L665.3,572.8 L665.8,571.4 L666.2,569.9 L666.7,568.5 L667.1,567.1 L667.6,565.7 L668.0,564.2 L668.5,562.8 L669.0,561.4 L669.5,560.0 L670.0,558.5 L670.5,557.1 L671.0,555.7 L671.6,554.3 L672.1,553.0 L672.8,551.6 L673.4,550.2 L674.1,548.9 L674.9,547.6 L675.7,546.4 L676.6,545.2 L677.5,544.0 L678.5,542.8 L679.5,541.7 L680.6,540.7 L681.7,539.7 L682.8,538.7 L684.0,537.7 L685.2,536.8 L686.4,535.9 L687.6,535.0 L688.8,534.2 L690.1,533.3 L691.3,532.5 L692.6,531.7 L693.8,530.9 L695.1,530.1 L696.4,529.3 L697.6,528.5 L698.9,527.7 L700.2,526.9 L701.5,526.2 L702.8,525.4 L704.1,524.6 L705.4,523.9 L706.7,523.1 L708.0,522.4 L709.2,521.6 L710.5,520.8 L711.8,520.1 L713.1,519.3 L714.4,518.6 L715.7,517.8 L717.0,517.1 L718.3,516.3 L719.6,515.6 L720.9,514.8 L722.2,514.1 L723.5,513.3 L724.8,512.6 L726.1,511.8 L727.4,511.1 L728.7,510.3 L730.0,509.6 L731.3,508.9 L732.6,508.1 L733.9,507.4 L735.2,506.6 L736.5,505.9 L737.8,505.1 L739.1,504.4M669.0,590.0 L669.4,588.6 L669.9,587.1 L670.3,585.7 L670.8,584.3 L671.2,582.8 L671.7,581.4 L672.1,580.0 L672.5,578.5 L673.0,577.1 L673.4,575.7 L673.9,574.2 L674.3,572.8 L674.8,571.4 L675.2,569.9 L675.7,568.5 L676.1,567.1 L676.6,565.7 L677.0,564.2 L677.5,562.8 L678.0,561.4 L678.5,560.0 L679.0,558.5 L679.5,557.1 L680.0,555.7 L680.6,554.3 L681.1,553.0 L681.8,551.6 L682.4,550.2 L683.1,548.9 L683.9,547.6 L684.7,546.4 L685.6,545.2 L686.5,544.0 L687.5,542.8 L688.5,541.8 L689.6,540.7 L690.7,539.7 L691.8,538.7 L693.0,537.8 L694.2,536.8 L695.4,535.9 L696.6,535.0 L697.8,534.2 L699.1,533.3 L700.3,532.5 L701.6,531.7 L702.8,530.9 L704.1,530.1 L705.4,529.3 L706.7,528.5 L707.9,527.7 L709.2,526.9 L710.5,526.2 L711.8,525.4 L713.1,524.6 L714.4,523.9 L715.7,523.1 L717.0,522.4 L718.3,521.6 L719.6,520.8 L720.9,520.1 L722.1,519.3 L723.4,518.6 L724.7,517.8 L726.0,517.1 L727.3,516.3 L728.6,515.6 L729.9,514.8 L731.2,514.1 L732.5,513.3 L733.8,512.6 L735.1,511.8 L736.4,511.1 L737.7,510.4 L739.0,509.6 L740.3,508.9 L741.6,508.1 L742.9,507.4 L744.2,506.6 L745.5,505.9 L746.8,505.1 L748.1,504.4M678.0,590.0 L678.4,588.6 L678.9,587.1 L679.3,585.7 L679.8,584.3 L680.2,582.8 L680.7,581.4 L681.1,580.0 L681.5,578.5 L682.0,577.1 L682.4,575.7 L682.9,574.2 L683.3,572.8 L683.8,571.4 L684.2,569.9 L684.7,568.5 L685.1,567.1 L685.6,565.7 L686.0,564.2 L686.5,562.8 L687.0,561.4 L687.5,560.0 L688.0,558.5 L688.5,557.1 L689.0,555.7 L689.6,554.3 L690.1,553.0 L690.8,551.6 L691.4,550.2 L692.1,548.9 L692.9,547.6 L693.7,546.4 L694.6,545.2 L695.5,544.0 L696.5,542.8 L697.5,541.8 L698.6,540.7 L699.7,539.7 L700.8,538.7 L702.0,537.8 L703.2,536.8 L704.4,535.9 L705.6,535.1 L706.8,534.2 L708.1,533.3 L709.3,532.5 L710.6,531.7 L711.8,530.9 L713.1,530.1 L714.4,529.3 L715.7,528.5 L716.9,527.7 L718.2,526.9 L719.5,526.2 L720.8,525.4 L722.1,524.6 L723.4,523.9 L724.7,523.1 L726.0,522.4 L727.3,521.6 L728.6,520.8 L729.9,520.1 L731.2,519.3 L732.4,518.6 L733.7,517.8 L735.0,517.1 L736.3,516.3 L737.6,515.6 L738.9,514.8 L740.2,514.1 L741.5,513.3 L742.8,512.6 L744.1,511.8 L745.4,511.1 L746.7,510.4 L748.0,509.6 L749.3,508.9 L750.6,508.1 L751.9,507.4 L753.2,506.6 L754.5,505.9 L755.9,505.1 L757.2,504.4M687.0,590.0 L687.4,588.6 L687.9,587.1 L688.3,585.7 L688.8,584.3 L689.2,582.8 L689.7,581.4 L690.1,580.0 L690.5,578.5 L691.0,577.1 L691.4,575.7 L691.9,574.2 L692.3,572.8 L692.8,571.4 L693.2,569.9 L693.7,568.5 L694.1,567.1 L694.6,565.7 L695.0,564.2 L695.5,562.8 L696.0,561.4 L696.5,560.0 L697.0,558.5 L697.5,557.1 L698.0,555.7 L698.6,554.3 L699.1,553.0 L699.8,551.6 L700.4,550.2 L701.1,548.9 L701.9,547.6 L702.7,546.4 L703.6,545.2 L704.5,544.0 L705.5,542.8 L706.5,541.8 L707.6,540.7 L708.7,539.7 L709.8,538.7 L711.0,537.8 L712.2,536.8 L713.4,535.9 L714.6,535.1 L715.8,534.2 L717.1,533.3 L718.3,532.5 L719.6,531.7 L720.8,530.9 L722.1,530.1 L723.4,529.3 L724.7,528.5 L725.9,527.7 L727.2,526.9 L728.5,526.2 L729.8,525.4 L731.1,524.6 L732.4,523.9 L733.7,523.1 L735.0,522.4 L736.3,521.6 L737.6,520.8 L738.9,520.1 L740.2,519.3 L741.4,518.6 L742.7,517.8 L744.0,517.1 L745.3,516.3 L746.6,515.6 L747.9,514.8 L749.2,514.1 L750.5,513.3 L751.8,512.6 L753.1,511.8 L754.4,511.1 L755.7,510.4 L757.0,509.6 L758.3,508.9 L759.6,508.1 L760.9,507.4 L762.2,506.6 L763.5,505.9 L764.9,505.1 L766.2,504.4" fill="none" stroke="#f9dca0" stroke-width="3.0"/>
</g>
<path d="M649.9,563.5l1,4M660.9,576.3l1,4M657.4,575.0l1,4M611.9,545.8l1,4M670.4,557.5l1,4M667.7,523.2l1,4M640.0,531.8l1,4M644.8,552.7l1,4M610.8,529.9l1,4M627.9,574.6l1,4M659.0,526.2l1,4M661.0,524.9l1,4M649.5,524.1l1,4M610.1,571.8l1,4M623.4,529.8l1,4M672.9,571.8l1,4M628.5,577.5l1,4M644.5,559.4l1,4M623.1,576.2l1,4M654.2,577.9l1,4M667.2,535.1l1,4M633.1,526.6l1,4M619.3,520.2l1,4M629.3,554.6l1,4M610.2,559.4l1,4M631.6,535.8l1,4M662.4,546.8l1,4M630.2,546.8l1,4M655.1,519.6l1,4M672.4,517.5l1,4" stroke="#7a2a08" stroke-width="2.2" filter="url(#fblur1)"/>
<rect x="608.1" y="513.7" width="68.6" height="69" filter="url(#fnoise)" style="mix-blend-mode:overlay" opacity="0.3"/>
</g>
<rect x="652.8" y="576.6" width="16.4" height="3" fill="#000"/>
<g clip-path="url(#cmf)">
<rect x="608.1" y="611.1" width="68.6" height="68.6" fill="#7e2806"/>
<path d="M651.2,690 L656.5,639.0 Q656.5,636.5 659.0,636.5 L666.0,636.5 Q668.5,636.5 668.5,639.0 L668.5,690M639.5,690 L646.1,627.0 Q646.1,624.5 648.6,624.5 L676.4,624.5 Q678.9,624.5 678.9,627.0 L678.9,690M627.9,690 L635.7,614.9 Q635.7,612.4 638.2,612.4 L686.8,612.4 Q689.3,612.4 689.3,614.9 L689.3,690M616.3,690 L625.3,602.8 Q625.3,600.3 627.8,600.3 L697.2,600.3 Q699.7,600.3 699.7,602.8 L699.7,690M604.7,690 L614.9,590.8 Q614.9,588.3 617.4,588.3 L707.6,588.3 Q710.1,588.3 710.1,590.8 L710.1,690M593.1,690 L604.5,578.7 Q604.5,576.2 607.0,576.2 L718.0,576.2 Q720.5,576.2 720.5,578.7 L720.5,690" fill="none" stroke="#c8702e" stroke-width="6.2" filter="url(#fblur1)"/>
<path d="M651.2,690 L656.5,639.0 Q656.5,636.5 659.0,636.5 L666.0,636.5 Q668.5,636.5 668.5,639.0 L668.5,690M639.5,690 L646.1,627.0 Q646.1,624.5 648.6,624.5 L676.4,624.5 Q678.9,624.5 678.9,627.0 L678.9,690M627.9,690 L635.7,614.9 Q635.7,612.4 638.2,612.4 L686.8,612.4 Q689.3,612.4 689.3,614.9 L689.3,690M616.3,690 L625.3,602.8 Q625.3,600.3 627.8,600.3 L697.2,600.3 Q699.7,600.3 699.7,602.8 L699.7,690M604.7,690 L614.9,590.8 Q614.9,588.3 617.4,588.3 L707.6,588.3 Q710.1,588.3 710.1,590.8 L710.1,690M593.1,690 L604.5,578.7 Q604.5,576.2 607.0,576.2 L718.0,576.2 Q720.5,576.2 720.5,578.7 L720.5,690" fill="none" stroke="#f9dea2" stroke-width="3.6" filter="url(#fblur1)"/>
<rect x="608.1" y="611.1" width="68.6" height="68.6" filter="url(#fnoise)" style="mix-blend-mode:overlay" opacity="0.3"/>
</g>
<rect x="652.9" y="673.0" width="16.6" height="2.9" fill="#000"/>
</svg></body></html>
